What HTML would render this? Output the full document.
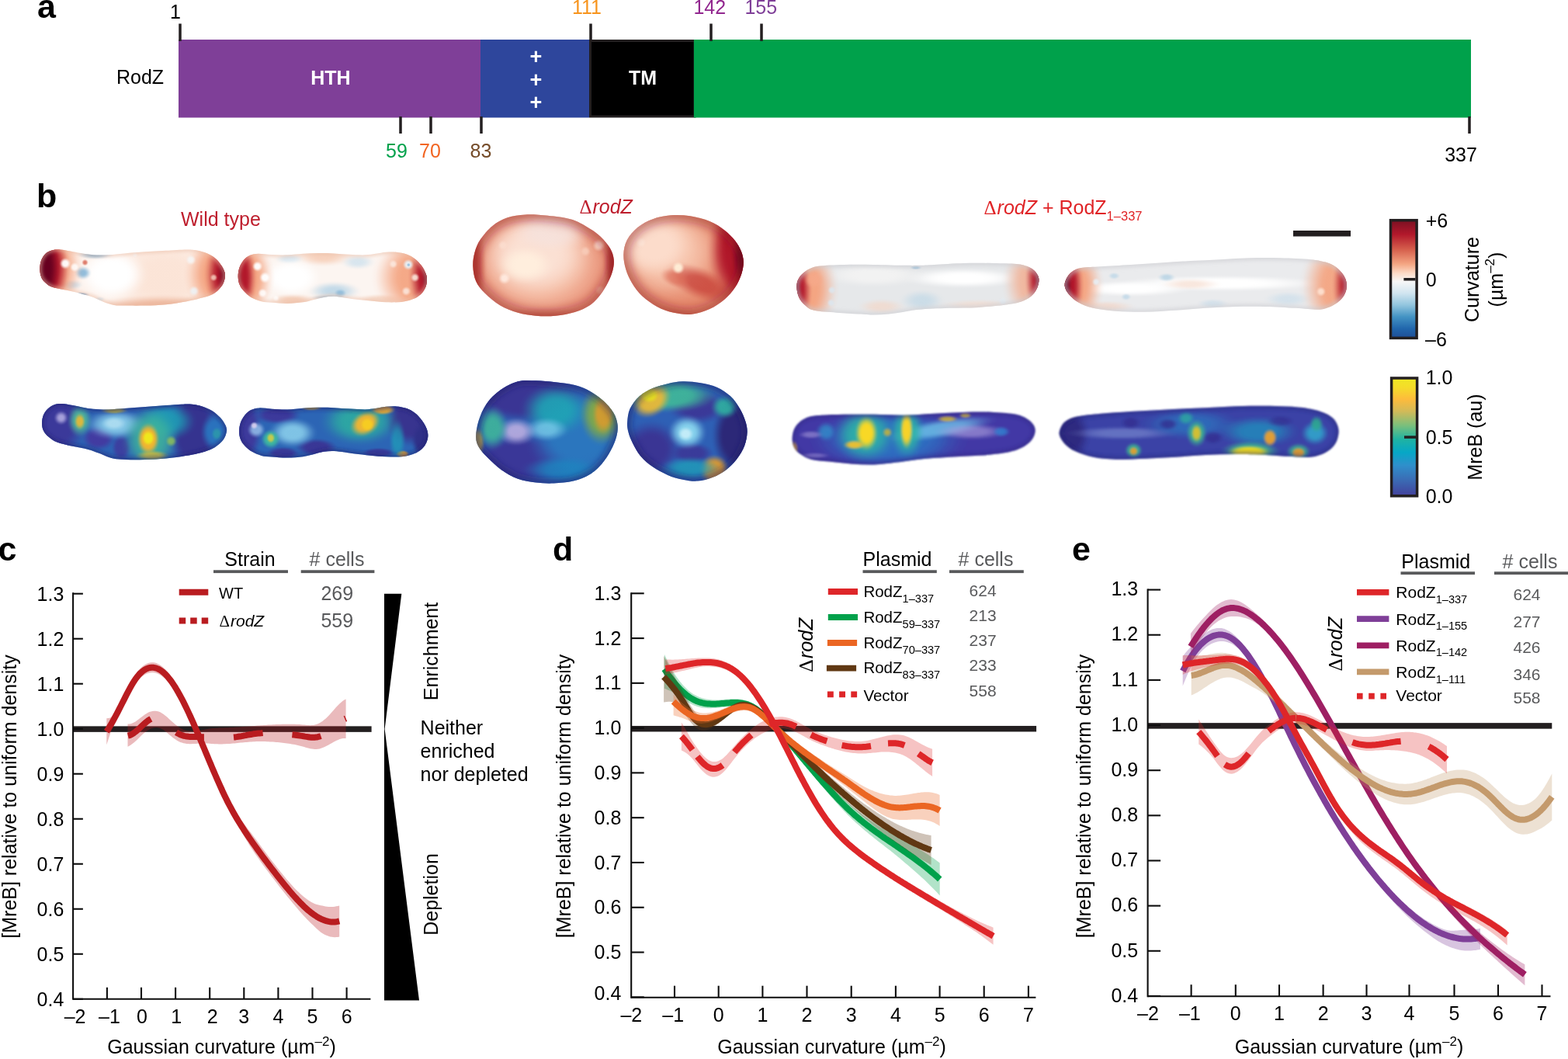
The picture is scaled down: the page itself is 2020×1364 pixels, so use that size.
<!DOCTYPE html>
<html lang="en"><head><meta charset="utf-8"><title>RodZ figure</title>
<style>html,body{margin:0;padding:0;background:#fff}svg{display:block}text{font-family:"Liberation Sans",sans-serif}</style></head>
<body>
<svg width="2020" height="1364" viewBox="0 0 2020 1364">
<defs>
<clipPath id="c1"><path d="M51.36 346.79C51.32 343.11 51.88 338.77 53.1 335.43C54.33 332.09 56.44 328.9 58.72 326.74C60.99 324.58 63.62 323.35 66.74 322.46C69.86 321.57 73.42 321.23 77.43 321.39C81.44 321.55 86.35 322.62 90.8 323.4C95.26 324.18 99.27 325.25 104.17 326.07C109.07 326.89 114.2 327.96 120.21 328.34C126.23 328.72 133.58 328.65 140.27 328.34C146.95 328.03 152.52 327.14 160.32 326.47C168.12 325.8 178.15 324.96 187.06 324.33C195.97 323.71 204.88 323.22 213.8 322.73C222.71 322.24 233.85 321.43 240.53 321.39C247.22 321.35 249.45 321.61 253.9 322.46C258.36 323.31 263.26 324.69 267.27 326.47C271.28 328.25 274.96 330.55 277.97 333.16C280.98 335.76 283.4 339.17 285.32 342.11C287.24 345.05 288.73 348.24 289.47 350.8C290.2 353.36 290.09 355.04 289.73 357.49C289.38 359.94 288.62 362.95 287.33 365.51C286.03 368.07 284.21 370.63 281.98 372.86C279.75 375.09 277.52 377.09 273.96 378.88C270.39 380.66 266.16 382 260.59 383.56C255.02 385.12 248.33 386.79 240.53 388.24C232.74 389.68 222.71 391.35 213.8 392.25C204.88 393.14 195.97 393.36 187.06 393.58C178.15 393.81 167.01 393.69 160.32 393.58C153.64 393.47 151.41 393.69 146.95 392.91C142.5 392.13 138.04 390.57 133.58 388.9C129.13 387.23 124.67 384.56 120.21 382.89C115.76 381.22 111.3 380.1 106.84 378.88C102.39 377.65 97.93 376.54 93.48 375.53C89.02 374.53 84.56 373.86 80.11 372.86C75.65 371.86 70.3 370.97 66.74 369.52C63.17 368.07 60.94 366.18 58.72 364.17C56.49 362.17 54.59 360.38 53.37 357.49C52.14 354.59 51.41 350.47 51.36 346.79Z"/></clipPath>
<radialGradient id="r2"><stop offset="0" stop-color="#FBE1D2" stop-opacity="0.8"/><stop offset="0.3" stop-color="#FBE1D2" stop-opacity="0.8"/><stop offset="0.4" stop-color="#FBE1D2" stop-opacity="0.76"/><stop offset="0.5" stop-color="#FBE1D2" stop-opacity="0.64"/><stop offset="0.6" stop-color="#FBE1D2" stop-opacity="0.49"/><stop offset="0.7" stop-color="#FBE1D2" stop-opacity="0.31"/><stop offset="0.8" stop-color="#FBE1D2" stop-opacity="0.16"/><stop offset="0.9" stop-color="#FBE1D2" stop-opacity="0.04"/><stop offset="1" stop-color="#FBE1D2" stop-opacity="0"/></radialGradient>
<radialGradient id="r3"><stop offset="0" stop-color="#EDB397" stop-opacity="0.9"/><stop offset="0.3" stop-color="#EDB397" stop-opacity="0.9"/><stop offset="0.4" stop-color="#EDB397" stop-opacity="0.85"/><stop offset="0.5" stop-color="#EDB397" stop-opacity="0.72"/><stop offset="0.6" stop-color="#EDB397" stop-opacity="0.55"/><stop offset="0.7" stop-color="#EDB397" stop-opacity="0.35"/><stop offset="0.8" stop-color="#EDB397" stop-opacity="0.18"/><stop offset="0.9" stop-color="#EDB397" stop-opacity="0.05"/><stop offset="1" stop-color="#EDB397" stop-opacity="0"/></radialGradient>
<radialGradient id="r4"><stop offset="0" stop-color="#FFFFFF" stop-opacity="1"/><stop offset="0.4" stop-color="#FFFFFF" stop-opacity="1"/><stop offset="0.49" stop-color="#FFFFFF" stop-opacity="0.94"/><stop offset="0.57" stop-color="#FFFFFF" stop-opacity="0.8"/><stop offset="0.66" stop-color="#FFFFFF" stop-opacity="0.61"/><stop offset="0.74" stop-color="#FFFFFF" stop-opacity="0.39"/><stop offset="0.83" stop-color="#FFFFFF" stop-opacity="0.2"/><stop offset="0.91" stop-color="#FFFFFF" stop-opacity="0.06"/><stop offset="1" stop-color="#FFFFFF" stop-opacity="0"/></radialGradient>
<radialGradient id="r5"><stop offset="0" stop-color="#6FA8D0" stop-opacity="0.85"/><stop offset="0.2" stop-color="#6FA8D0" stop-opacity="0.85"/><stop offset="0.31" stop-color="#6FA8D0" stop-opacity="0.8"/><stop offset="0.43" stop-color="#6FA8D0" stop-opacity="0.68"/><stop offset="0.54" stop-color="#6FA8D0" stop-opacity="0.52"/><stop offset="0.66" stop-color="#6FA8D0" stop-opacity="0.33"/><stop offset="0.77" stop-color="#6FA8D0" stop-opacity="0.17"/><stop offset="0.89" stop-color="#6FA8D0" stop-opacity="0.05"/><stop offset="1" stop-color="#6FA8D0" stop-opacity="0"/></radialGradient>
<radialGradient id="r6"><stop offset="0" stop-color="#7FB2D6" stop-opacity="0.85"/><stop offset="0.2" stop-color="#7FB2D6" stop-opacity="0.85"/><stop offset="0.31" stop-color="#7FB2D6" stop-opacity="0.8"/><stop offset="0.43" stop-color="#7FB2D6" stop-opacity="0.68"/><stop offset="0.54" stop-color="#7FB2D6" stop-opacity="0.52"/><stop offset="0.66" stop-color="#7FB2D6" stop-opacity="0.33"/><stop offset="0.77" stop-color="#7FB2D6" stop-opacity="0.17"/><stop offset="0.89" stop-color="#7FB2D6" stop-opacity="0.05"/><stop offset="1" stop-color="#7FB2D6" stop-opacity="0"/></radialGradient>
<radialGradient id="r7"><stop offset="0" stop-color="#C5DCEB" stop-opacity="0.9"/><stop offset="0.2" stop-color="#C5DCEB" stop-opacity="0.9"/><stop offset="0.31" stop-color="#C5DCEB" stop-opacity="0.85"/><stop offset="0.43" stop-color="#C5DCEB" stop-opacity="0.72"/><stop offset="0.54" stop-color="#C5DCEB" stop-opacity="0.55"/><stop offset="0.66" stop-color="#C5DCEB" stop-opacity="0.35"/><stop offset="0.77" stop-color="#C5DCEB" stop-opacity="0.18"/><stop offset="0.89" stop-color="#C5DCEB" stop-opacity="0.05"/><stop offset="1" stop-color="#C5DCEB" stop-opacity="0"/></radialGradient>
<radialGradient id="r8"><stop offset="0" stop-color="#3D7FB8" stop-opacity="0.9"/><stop offset="0.2" stop-color="#3D7FB8" stop-opacity="0.9"/><stop offset="0.31" stop-color="#3D7FB8" stop-opacity="0.85"/><stop offset="0.43" stop-color="#3D7FB8" stop-opacity="0.72"/><stop offset="0.54" stop-color="#3D7FB8" stop-opacity="0.55"/><stop offset="0.66" stop-color="#3D7FB8" stop-opacity="0.35"/><stop offset="0.77" stop-color="#3D7FB8" stop-opacity="0.18"/><stop offset="0.89" stop-color="#3D7FB8" stop-opacity="0.05"/><stop offset="1" stop-color="#3D7FB8" stop-opacity="0"/></radialGradient>
<radialGradient id="r9"><stop offset="0" stop-color="#D5E6F0" stop-opacity="0.9"/><stop offset="0.2" stop-color="#D5E6F0" stop-opacity="0.9"/><stop offset="0.31" stop-color="#D5E6F0" stop-opacity="0.85"/><stop offset="0.43" stop-color="#D5E6F0" stop-opacity="0.72"/><stop offset="0.54" stop-color="#D5E6F0" stop-opacity="0.55"/><stop offset="0.66" stop-color="#D5E6F0" stop-opacity="0.35"/><stop offset="0.77" stop-color="#D5E6F0" stop-opacity="0.18"/><stop offset="0.89" stop-color="#D5E6F0" stop-opacity="0.05"/><stop offset="1" stop-color="#D5E6F0" stop-opacity="0"/></radialGradient>
<radialGradient id="r10"><stop offset="0" stop-color="#F4A582" stop-opacity="1"/><stop offset="0.55" stop-color="#F4A582" stop-opacity="1"/><stop offset="0.61" stop-color="#F4A582" stop-opacity="0.94"/><stop offset="0.68" stop-color="#F4A582" stop-opacity="0.8"/><stop offset="0.74" stop-color="#F4A582" stop-opacity="0.61"/><stop offset="0.81" stop-color="#F4A582" stop-opacity="0.39"/><stop offset="0.87" stop-color="#F4A582" stop-opacity="0.2"/><stop offset="0.94" stop-color="#F4A582" stop-opacity="0.06"/><stop offset="1" stop-color="#F4A582" stop-opacity="0"/></radialGradient>
<radialGradient id="r11"><stop offset="0" stop-color="#B2182B" stop-opacity="1"/><stop offset="0.6" stop-color="#B2182B" stop-opacity="1"/><stop offset="0.66" stop-color="#B2182B" stop-opacity="0.94"/><stop offset="0.71" stop-color="#B2182B" stop-opacity="0.8"/><stop offset="0.77" stop-color="#B2182B" stop-opacity="0.61"/><stop offset="0.83" stop-color="#B2182B" stop-opacity="0.39"/><stop offset="0.89" stop-color="#B2182B" stop-opacity="0.2"/><stop offset="0.94" stop-color="#B2182B" stop-opacity="0.06"/><stop offset="1" stop-color="#B2182B" stop-opacity="0"/></radialGradient>
<radialGradient id="r12"><stop offset="0" stop-color="#67001F" stop-opacity="1"/><stop offset="0.55" stop-color="#67001F" stop-opacity="1"/><stop offset="0.61" stop-color="#67001F" stop-opacity="0.94"/><stop offset="0.68" stop-color="#67001F" stop-opacity="0.8"/><stop offset="0.74" stop-color="#67001F" stop-opacity="0.61"/><stop offset="0.81" stop-color="#67001F" stop-opacity="0.39"/><stop offset="0.87" stop-color="#67001F" stop-opacity="0.2"/><stop offset="0.94" stop-color="#67001F" stop-opacity="0.06"/><stop offset="1" stop-color="#67001F" stop-opacity="0"/></radialGradient>
<radialGradient id="r13"><stop offset="0" stop-color="#D6604D" stop-opacity="0.8"/><stop offset="0.25" stop-color="#D6604D" stop-opacity="0.8"/><stop offset="0.36" stop-color="#D6604D" stop-opacity="0.76"/><stop offset="0.46" stop-color="#D6604D" stop-opacity="0.64"/><stop offset="0.57" stop-color="#D6604D" stop-opacity="0.49"/><stop offset="0.68" stop-color="#D6604D" stop-opacity="0.31"/><stop offset="0.79" stop-color="#D6604D" stop-opacity="0.16"/><stop offset="0.89" stop-color="#D6604D" stop-opacity="0.04"/><stop offset="1" stop-color="#D6604D" stop-opacity="0"/></radialGradient>
<radialGradient id="r14"><stop offset="0" stop-color="#FFFFFF" stop-opacity="0.95"/><stop offset="0.3" stop-color="#FFFFFF" stop-opacity="0.95"/><stop offset="0.4" stop-color="#FFFFFF" stop-opacity="0.9"/><stop offset="0.5" stop-color="#FFFFFF" stop-opacity="0.76"/><stop offset="0.6" stop-color="#FFFFFF" stop-opacity="0.58"/><stop offset="0.7" stop-color="#FFFFFF" stop-opacity="0.37"/><stop offset="0.8" stop-color="#FFFFFF" stop-opacity="0.19"/><stop offset="0.9" stop-color="#FFFFFF" stop-opacity="0.05"/><stop offset="1" stop-color="#FFFFFF" stop-opacity="0"/></radialGradient>
<radialGradient id="r15"><stop offset="0" stop-color="#FFFFFF" stop-opacity="0.8"/><stop offset="0.3" stop-color="#FFFFFF" stop-opacity="0.8"/><stop offset="0.4" stop-color="#FFFFFF" stop-opacity="0.76"/><stop offset="0.5" stop-color="#FFFFFF" stop-opacity="0.64"/><stop offset="0.6" stop-color="#FFFFFF" stop-opacity="0.49"/><stop offset="0.7" stop-color="#FFFFFF" stop-opacity="0.31"/><stop offset="0.8" stop-color="#FFFFFF" stop-opacity="0.16"/><stop offset="0.9" stop-color="#FFFFFF" stop-opacity="0.04"/><stop offset="1" stop-color="#FFFFFF" stop-opacity="0"/></radialGradient>
<radialGradient id="r16"><stop offset="0" stop-color="#B2182B" stop-opacity="1"/><stop offset="0.55" stop-color="#B2182B" stop-opacity="1"/><stop offset="0.61" stop-color="#B2182B" stop-opacity="0.94"/><stop offset="0.68" stop-color="#B2182B" stop-opacity="0.8"/><stop offset="0.74" stop-color="#B2182B" stop-opacity="0.61"/><stop offset="0.81" stop-color="#B2182B" stop-opacity="0.39"/><stop offset="0.87" stop-color="#B2182B" stop-opacity="0.2"/><stop offset="0.94" stop-color="#B2182B" stop-opacity="0.06"/><stop offset="1" stop-color="#B2182B" stop-opacity="0"/></radialGradient>
<radialGradient id="r17"><stop offset="0" stop-color="#67001F" stop-opacity="1"/><stop offset="0.5" stop-color="#67001F" stop-opacity="1"/><stop offset="0.57" stop-color="#67001F" stop-opacity="0.94"/><stop offset="0.64" stop-color="#67001F" stop-opacity="0.8"/><stop offset="0.71" stop-color="#67001F" stop-opacity="0.61"/><stop offset="0.79" stop-color="#67001F" stop-opacity="0.39"/><stop offset="0.86" stop-color="#67001F" stop-opacity="0.2"/><stop offset="0.93" stop-color="#67001F" stop-opacity="0.06"/><stop offset="1" stop-color="#67001F" stop-opacity="0"/></radialGradient>
<radialGradient id="r18"><stop offset="0" stop-color="#F6F6F6" stop-opacity="0.9"/><stop offset="0.25" stop-color="#F6F6F6" stop-opacity="0.9"/><stop offset="0.36" stop-color="#F6F6F6" stop-opacity="0.85"/><stop offset="0.46" stop-color="#F6F6F6" stop-opacity="0.72"/><stop offset="0.57" stop-color="#F6F6F6" stop-opacity="0.55"/><stop offset="0.68" stop-color="#F6F6F6" stop-opacity="0.35"/><stop offset="0.79" stop-color="#F6F6F6" stop-opacity="0.18"/><stop offset="0.89" stop-color="#F6F6F6" stop-opacity="0.05"/><stop offset="1" stop-color="#F6F6F6" stop-opacity="0"/></radialGradient>
<radialGradient id="r19"><stop offset="0" stop-color="#EEF2F5" stop-opacity="0.9"/><stop offset="0.25" stop-color="#EEF2F5" stop-opacity="0.9"/><stop offset="0.36" stop-color="#EEF2F5" stop-opacity="0.85"/><stop offset="0.46" stop-color="#EEF2F5" stop-opacity="0.72"/><stop offset="0.57" stop-color="#EEF2F5" stop-opacity="0.55"/><stop offset="0.68" stop-color="#EEF2F5" stop-opacity="0.35"/><stop offset="0.79" stop-color="#EEF2F5" stop-opacity="0.18"/><stop offset="0.89" stop-color="#EEF2F5" stop-opacity="0.05"/><stop offset="1" stop-color="#EEF2F5" stop-opacity="0"/></radialGradient>
<radialGradient id="r20"><stop offset="0" stop-color="#F9D5C4" stop-opacity="0.8"/><stop offset="0.25" stop-color="#F9D5C4" stop-opacity="0.8"/><stop offset="0.36" stop-color="#F9D5C4" stop-opacity="0.76"/><stop offset="0.46" stop-color="#F9D5C4" stop-opacity="0.64"/><stop offset="0.57" stop-color="#F9D5C4" stop-opacity="0.49"/><stop offset="0.68" stop-color="#F9D5C4" stop-opacity="0.31"/><stop offset="0.79" stop-color="#F9D5C4" stop-opacity="0.16"/><stop offset="0.89" stop-color="#F9D5C4" stop-opacity="0.04"/><stop offset="1" stop-color="#F9D5C4" stop-opacity="0"/></radialGradient>
<radialGradient id="r21"><stop offset="0" stop-color="#F6F6F6" stop-opacity="0.8"/><stop offset="0.25" stop-color="#F6F6F6" stop-opacity="0.8"/><stop offset="0.36" stop-color="#F6F6F6" stop-opacity="0.76"/><stop offset="0.46" stop-color="#F6F6F6" stop-opacity="0.64"/><stop offset="0.57" stop-color="#F6F6F6" stop-opacity="0.49"/><stop offset="0.68" stop-color="#F6F6F6" stop-opacity="0.31"/><stop offset="0.79" stop-color="#F6F6F6" stop-opacity="0.16"/><stop offset="0.89" stop-color="#F6F6F6" stop-opacity="0.04"/><stop offset="1" stop-color="#F6F6F6" stop-opacity="0"/></radialGradient>
<filter id="f22" x="-20%" y="-20%" width="140%" height="140%"><feGaussianBlur stdDeviation="2.27"/></filter>
<clipPath id="c23"><path d="M306.71 356.15C306.67 352.47 307.22 348.35 308.45 344.79C309.67 341.22 311.79 337.43 314.06 334.76C316.34 332.09 318.97 330.08 322.09 328.74C325.2 327.41 328.1 326.85 332.78 326.74C337.46 326.63 343.92 327.81 350.16 328.07C356.4 328.34 363.53 328.57 370.21 328.34C376.9 328.12 383.58 327.12 390.27 326.74C396.95 326.36 403.64 326.11 410.32 326.07C417.01 326.02 423.69 326.18 430.37 326.47C437.06 326.76 443.74 327.5 450.43 327.81C457.11 328.12 464.91 328.52 470.48 328.34C476.05 328.16 479.39 327.34 483.85 326.74C488.31 326.14 492.76 325.07 497.22 324.73C501.68 324.4 506.13 324.29 510.59 324.73C515.04 325.18 519.95 325.96 523.96 327.41C527.97 328.85 531.42 330.9 534.65 333.42C537.88 335.94 541 339.28 543.34 342.51C545.68 345.74 547.58 349.87 548.69 352.81C549.8 355.75 550.03 357.49 550.03 360.16C550.03 362.83 549.58 366.18 548.69 368.85C547.8 371.52 546.35 374.04 544.68 376.2C543.01 378.36 541 380.21 538.66 381.82C536.32 383.42 534.21 384.65 530.64 385.83C527.08 387.01 522.84 388.32 517.27 388.9C511.7 389.48 503.9 389.53 497.22 389.3C490.53 389.08 483.85 388.19 477.17 387.57C470.48 386.94 462.68 386.23 457.11 385.56C451.54 384.89 448.2 384.18 443.74 383.56C439.29 382.93 434.83 381.93 430.37 381.82C425.92 381.71 421.46 382.15 417.01 382.89C412.55 383.62 408.09 385.16 403.64 386.23C399.18 387.3 395.84 388.52 390.27 389.3C384.7 390.08 376.9 390.82 370.21 390.91C363.53 391 355.73 390.29 350.16 389.84C344.59 389.39 341.25 389.39 336.79 388.24C332.34 387.08 327.21 385.12 323.42 382.89C319.63 380.66 316.52 377.54 314.06 374.87C311.61 372.19 309.94 369.96 308.72 366.84C307.49 363.73 306.76 359.83 306.71 356.15Z"/></clipPath>
<radialGradient id="r24"><stop offset="0" stop-color="#F6CDB6" stop-opacity="0.85"/><stop offset="0.2" stop-color="#F6CDB6" stop-opacity="0.85"/><stop offset="0.31" stop-color="#F6CDB6" stop-opacity="0.8"/><stop offset="0.43" stop-color="#F6CDB6" stop-opacity="0.68"/><stop offset="0.54" stop-color="#F6CDB6" stop-opacity="0.52"/><stop offset="0.66" stop-color="#F6CDB6" stop-opacity="0.33"/><stop offset="0.77" stop-color="#F6CDB6" stop-opacity="0.17"/><stop offset="0.89" stop-color="#F6CDB6" stop-opacity="0.05"/><stop offset="1" stop-color="#F6CDB6" stop-opacity="0"/></radialGradient>
<radialGradient id="r25"><stop offset="0" stop-color="#F2C6AE" stop-opacity="0.85"/><stop offset="0.2" stop-color="#F2C6AE" stop-opacity="0.85"/><stop offset="0.31" stop-color="#F2C6AE" stop-opacity="0.8"/><stop offset="0.43" stop-color="#F2C6AE" stop-opacity="0.68"/><stop offset="0.54" stop-color="#F2C6AE" stop-opacity="0.52"/><stop offset="0.66" stop-color="#F2C6AE" stop-opacity="0.33"/><stop offset="0.77" stop-color="#F2C6AE" stop-opacity="0.17"/><stop offset="0.89" stop-color="#F2C6AE" stop-opacity="0.05"/><stop offset="1" stop-color="#F2C6AE" stop-opacity="0"/></radialGradient>
<radialGradient id="r26"><stop offset="0" stop-color="#F4D2BF" stop-opacity="0.8"/><stop offset="0.2" stop-color="#F4D2BF" stop-opacity="0.8"/><stop offset="0.31" stop-color="#F4D2BF" stop-opacity="0.76"/><stop offset="0.43" stop-color="#F4D2BF" stop-opacity="0.64"/><stop offset="0.54" stop-color="#F4D2BF" stop-opacity="0.49"/><stop offset="0.66" stop-color="#F4D2BF" stop-opacity="0.31"/><stop offset="0.77" stop-color="#F4D2BF" stop-opacity="0.16"/><stop offset="0.89" stop-color="#F4D2BF" stop-opacity="0.04"/><stop offset="1" stop-color="#F4D2BF" stop-opacity="0"/></radialGradient>
<radialGradient id="r27"><stop offset="0" stop-color="#B5D3E6" stop-opacity="0.8"/><stop offset="0.2" stop-color="#B5D3E6" stop-opacity="0.8"/><stop offset="0.31" stop-color="#B5D3E6" stop-opacity="0.76"/><stop offset="0.43" stop-color="#B5D3E6" stop-opacity="0.64"/><stop offset="0.54" stop-color="#B5D3E6" stop-opacity="0.49"/><stop offset="0.66" stop-color="#B5D3E6" stop-opacity="0.31"/><stop offset="0.77" stop-color="#B5D3E6" stop-opacity="0.16"/><stop offset="0.89" stop-color="#B5D3E6" stop-opacity="0.04"/><stop offset="1" stop-color="#B5D3E6" stop-opacity="0"/></radialGradient>
<radialGradient id="r28"><stop offset="0" stop-color="#7FB2D6" stop-opacity="0.7"/><stop offset="0.2" stop-color="#7FB2D6" stop-opacity="0.7"/><stop offset="0.31" stop-color="#7FB2D6" stop-opacity="0.66"/><stop offset="0.43" stop-color="#7FB2D6" stop-opacity="0.56"/><stop offset="0.54" stop-color="#7FB2D6" stop-opacity="0.42"/><stop offset="0.66" stop-color="#7FB2D6" stop-opacity="0.28"/><stop offset="0.77" stop-color="#7FB2D6" stop-opacity="0.14"/><stop offset="0.89" stop-color="#7FB2D6" stop-opacity="0.04"/><stop offset="1" stop-color="#7FB2D6" stop-opacity="0"/></radialGradient>
<radialGradient id="r29"><stop offset="0" stop-color="#8DBAD9" stop-opacity="0.75"/><stop offset="0.2" stop-color="#8DBAD9" stop-opacity="0.75"/><stop offset="0.31" stop-color="#8DBAD9" stop-opacity="0.71"/><stop offset="0.43" stop-color="#8DBAD9" stop-opacity="0.6"/><stop offset="0.54" stop-color="#8DBAD9" stop-opacity="0.45"/><stop offset="0.66" stop-color="#8DBAD9" stop-opacity="0.3"/><stop offset="0.77" stop-color="#8DBAD9" stop-opacity="0.15"/><stop offset="0.89" stop-color="#8DBAD9" stop-opacity="0.04"/><stop offset="1" stop-color="#8DBAD9" stop-opacity="0"/></radialGradient>
<radialGradient id="r30"><stop offset="0" stop-color="#D2E3EE" stop-opacity="0.85"/><stop offset="0.2" stop-color="#D2E3EE" stop-opacity="0.85"/><stop offset="0.31" stop-color="#D2E3EE" stop-opacity="0.8"/><stop offset="0.43" stop-color="#D2E3EE" stop-opacity="0.68"/><stop offset="0.54" stop-color="#D2E3EE" stop-opacity="0.52"/><stop offset="0.66" stop-color="#D2E3EE" stop-opacity="0.33"/><stop offset="0.77" stop-color="#D2E3EE" stop-opacity="0.17"/><stop offset="0.89" stop-color="#D2E3EE" stop-opacity="0.05"/><stop offset="1" stop-color="#D2E3EE" stop-opacity="0"/></radialGradient>
<radialGradient id="r31"><stop offset="0" stop-color="#B2182B" stop-opacity="1"/><stop offset="0.58" stop-color="#B2182B" stop-opacity="1"/><stop offset="0.64" stop-color="#B2182B" stop-opacity="0.94"/><stop offset="0.7" stop-color="#B2182B" stop-opacity="0.8"/><stop offset="0.76" stop-color="#B2182B" stop-opacity="0.61"/><stop offset="0.82" stop-color="#B2182B" stop-opacity="0.39"/><stop offset="0.88" stop-color="#B2182B" stop-opacity="0.2"/><stop offset="0.94" stop-color="#B2182B" stop-opacity="0.06"/><stop offset="1" stop-color="#B2182B" stop-opacity="0"/></radialGradient>
<radialGradient id="r32"><stop offset="0" stop-color="#8E0F25" stop-opacity="1"/><stop offset="0.55" stop-color="#8E0F25" stop-opacity="1"/><stop offset="0.61" stop-color="#8E0F25" stop-opacity="0.94"/><stop offset="0.68" stop-color="#8E0F25" stop-opacity="0.8"/><stop offset="0.74" stop-color="#8E0F25" stop-opacity="0.61"/><stop offset="0.81" stop-color="#8E0F25" stop-opacity="0.39"/><stop offset="0.87" stop-color="#8E0F25" stop-opacity="0.2"/><stop offset="0.94" stop-color="#8E0F25" stop-opacity="0.06"/><stop offset="1" stop-color="#8E0F25" stop-opacity="0"/></radialGradient>
<radialGradient id="r33"><stop offset="0" stop-color="#F4A582" stop-opacity="0.95"/><stop offset="0.5" stop-color="#F4A582" stop-opacity="0.95"/><stop offset="0.57" stop-color="#F4A582" stop-opacity="0.9"/><stop offset="0.64" stop-color="#F4A582" stop-opacity="0.76"/><stop offset="0.71" stop-color="#F4A582" stop-opacity="0.58"/><stop offset="0.79" stop-color="#F4A582" stop-opacity="0.37"/><stop offset="0.86" stop-color="#F4A582" stop-opacity="0.19"/><stop offset="0.93" stop-color="#F4A582" stop-opacity="0.05"/><stop offset="1" stop-color="#F4A582" stop-opacity="0"/></radialGradient>
<radialGradient id="r34"><stop offset="0" stop-color="#B2182B" stop-opacity="1"/><stop offset="0.5" stop-color="#B2182B" stop-opacity="1"/><stop offset="0.57" stop-color="#B2182B" stop-opacity="0.94"/><stop offset="0.64" stop-color="#B2182B" stop-opacity="0.8"/><stop offset="0.71" stop-color="#B2182B" stop-opacity="0.61"/><stop offset="0.79" stop-color="#B2182B" stop-opacity="0.39"/><stop offset="0.86" stop-color="#B2182B" stop-opacity="0.2"/><stop offset="0.93" stop-color="#B2182B" stop-opacity="0.06"/><stop offset="1" stop-color="#B2182B" stop-opacity="0"/></radialGradient>
<radialGradient id="r35"><stop offset="0" stop-color="#FFFFFF" stop-opacity="0.85"/><stop offset="0.3" stop-color="#FFFFFF" stop-opacity="0.85"/><stop offset="0.4" stop-color="#FFFFFF" stop-opacity="0.8"/><stop offset="0.5" stop-color="#FFFFFF" stop-opacity="0.68"/><stop offset="0.6" stop-color="#FFFFFF" stop-opacity="0.52"/><stop offset="0.7" stop-color="#FFFFFF" stop-opacity="0.33"/><stop offset="0.8" stop-color="#FFFFFF" stop-opacity="0.17"/><stop offset="0.9" stop-color="#FFFFFF" stop-opacity="0.05"/><stop offset="1" stop-color="#FFFFFF" stop-opacity="0"/></radialGradient>
<radialGradient id="r36"><stop offset="0" stop-color="#FFFFFF" stop-opacity="0.7"/><stop offset="0.25" stop-color="#FFFFFF" stop-opacity="0.7"/><stop offset="0.36" stop-color="#FFFFFF" stop-opacity="0.66"/><stop offset="0.46" stop-color="#FFFFFF" stop-opacity="0.56"/><stop offset="0.57" stop-color="#FFFFFF" stop-opacity="0.42"/><stop offset="0.68" stop-color="#FFFFFF" stop-opacity="0.28"/><stop offset="0.79" stop-color="#FFFFFF" stop-opacity="0.14"/><stop offset="0.89" stop-color="#FFFFFF" stop-opacity="0.04"/><stop offset="1" stop-color="#FFFFFF" stop-opacity="0"/></radialGradient>
<radialGradient id="r37"><stop offset="0" stop-color="#E8F0F6" stop-opacity="0.95"/><stop offset="0.3" stop-color="#E8F0F6" stop-opacity="0.95"/><stop offset="0.4" stop-color="#E8F0F6" stop-opacity="0.9"/><stop offset="0.5" stop-color="#E8F0F6" stop-opacity="0.76"/><stop offset="0.6" stop-color="#E8F0F6" stop-opacity="0.58"/><stop offset="0.7" stop-color="#E8F0F6" stop-opacity="0.37"/><stop offset="0.8" stop-color="#E8F0F6" stop-opacity="0.19"/><stop offset="0.9" stop-color="#E8F0F6" stop-opacity="0.05"/><stop offset="1" stop-color="#E8F0F6" stop-opacity="0"/></radialGradient>
<radialGradient id="r38"><stop offset="0" stop-color="#8DBAD9" stop-opacity="0.8"/><stop offset="0.25" stop-color="#8DBAD9" stop-opacity="0.8"/><stop offset="0.36" stop-color="#8DBAD9" stop-opacity="0.76"/><stop offset="0.46" stop-color="#8DBAD9" stop-opacity="0.64"/><stop offset="0.57" stop-color="#8DBAD9" stop-opacity="0.49"/><stop offset="0.68" stop-color="#8DBAD9" stop-opacity="0.31"/><stop offset="0.79" stop-color="#8DBAD9" stop-opacity="0.16"/><stop offset="0.89" stop-color="#8DBAD9" stop-opacity="0.04"/><stop offset="1" stop-color="#8DBAD9" stop-opacity="0"/></radialGradient>
<radialGradient id="r39"><stop offset="0" stop-color="#FBE5DA" stop-opacity="0.9"/><stop offset="0.25" stop-color="#FBE5DA" stop-opacity="0.9"/><stop offset="0.36" stop-color="#FBE5DA" stop-opacity="0.85"/><stop offset="0.46" stop-color="#FBE5DA" stop-opacity="0.72"/><stop offset="0.57" stop-color="#FBE5DA" stop-opacity="0.55"/><stop offset="0.68" stop-color="#FBE5DA" stop-opacity="0.35"/><stop offset="0.79" stop-color="#FBE5DA" stop-opacity="0.18"/><stop offset="0.89" stop-color="#FBE5DA" stop-opacity="0.05"/><stop offset="1" stop-color="#FBE5DA" stop-opacity="0"/></radialGradient>
<radialGradient id="r40"><stop offset="0" stop-color="#FBE9E0" stop-opacity="0.85"/><stop offset="0.25" stop-color="#FBE9E0" stop-opacity="0.85"/><stop offset="0.36" stop-color="#FBE9E0" stop-opacity="0.8"/><stop offset="0.46" stop-color="#FBE9E0" stop-opacity="0.68"/><stop offset="0.57" stop-color="#FBE9E0" stop-opacity="0.52"/><stop offset="0.68" stop-color="#FBE9E0" stop-opacity="0.33"/><stop offset="0.79" stop-color="#FBE9E0" stop-opacity="0.17"/><stop offset="0.89" stop-color="#FBE9E0" stop-opacity="0.05"/><stop offset="1" stop-color="#FBE9E0" stop-opacity="0"/></radialGradient>
<filter id="f41" x="-20%" y="-20%" width="140%" height="140%"><feGaussianBlur stdDeviation="2.27"/></filter>
<clipPath id="c42"><path d="M609.31 343.01C609.05 336.74 610.01 330.46 611.62 324.67C613.23 318.88 615.16 313.89 618.96 308.26C622.75 302.63 628.61 295.55 634.4 290.89C640.19 286.22 646.63 282.68 653.71 280.27C660.79 277.86 668.19 276.83 676.87 276.41C685.56 275.99 696.18 276.8 705.83 277.76C715.48 278.73 726.74 280.01 734.79 282.2C742.83 284.39 747.66 287.19 754.09 290.89C760.53 294.59 768.09 299.58 773.4 304.4C778.71 309.23 783.05 314.86 785.95 319.85C788.84 324.83 790.23 329.5 790.77 334.32C791.32 339.15 790.51 343.82 789.23 348.8C787.94 353.79 785.69 359.1 783.05 364.25C780.41 369.4 777.26 374.86 773.4 379.69C769.54 384.52 765.35 389.5 759.88 393.2C754.41 396.9 747.98 399.64 740.58 401.89C733.18 404.14 723.85 405.91 715.48 406.72C707.12 407.52 698.43 407.36 690.39 406.72C682.34 406.07 674.94 405.11 667.22 402.86C659.5 400.6 651.13 397.39 644.05 393.2C636.98 389.02 629.9 382.91 624.75 377.76C619.6 372.61 615.74 368.11 613.17 362.32C610.59 356.53 609.56 349.29 609.31 343.01Z"/></clipPath>
<radialGradient id="r43"><stop offset="0" stop-color="#F5BEA6" stop-opacity="1"/><stop offset="0.35" stop-color="#F5BEA6" stop-opacity="1"/><stop offset="0.44" stop-color="#F5BEA6" stop-opacity="0.94"/><stop offset="0.54" stop-color="#F5BEA6" stop-opacity="0.8"/><stop offset="0.63" stop-color="#F5BEA6" stop-opacity="0.61"/><stop offset="0.72" stop-color="#F5BEA6" stop-opacity="0.39"/><stop offset="0.81" stop-color="#F5BEA6" stop-opacity="0.2"/><stop offset="0.91" stop-color="#F5BEA6" stop-opacity="0.06"/><stop offset="1" stop-color="#F5BEA6" stop-opacity="0"/></radialGradient>
<radialGradient id="r44"><stop offset="0" stop-color="#FBE0D3" stop-opacity="1"/><stop offset="0.35" stop-color="#FBE0D3" stop-opacity="1"/><stop offset="0.44" stop-color="#FBE0D3" stop-opacity="0.94"/><stop offset="0.54" stop-color="#FBE0D3" stop-opacity="0.8"/><stop offset="0.63" stop-color="#FBE0D3" stop-opacity="0.61"/><stop offset="0.72" stop-color="#FBE0D3" stop-opacity="0.39"/><stop offset="0.81" stop-color="#FBE0D3" stop-opacity="0.2"/><stop offset="0.91" stop-color="#FBE0D3" stop-opacity="0.06"/><stop offset="1" stop-color="#FBE0D3" stop-opacity="0"/></radialGradient>
<radialGradient id="r45"><stop offset="0" stop-color="#F6E2DC" stop-opacity="0.85"/><stop offset="0.3" stop-color="#F6E2DC" stop-opacity="0.85"/><stop offset="0.4" stop-color="#F6E2DC" stop-opacity="0.8"/><stop offset="0.5" stop-color="#F6E2DC" stop-opacity="0.68"/><stop offset="0.6" stop-color="#F6E2DC" stop-opacity="0.52"/><stop offset="0.7" stop-color="#F6E2DC" stop-opacity="0.33"/><stop offset="0.8" stop-color="#F6E2DC" stop-opacity="0.17"/><stop offset="0.9" stop-color="#F6E2DC" stop-opacity="0.05"/><stop offset="1" stop-color="#F6E2DC" stop-opacity="0"/></radialGradient>
<radialGradient id="r46"><stop offset="0" stop-color="#FFEEDD" stop-opacity="1"/><stop offset="0.3" stop-color="#FFEEDD" stop-opacity="1"/><stop offset="0.4" stop-color="#FFEEDD" stop-opacity="0.94"/><stop offset="0.5" stop-color="#FFEEDD" stop-opacity="0.8"/><stop offset="0.6" stop-color="#FFEEDD" stop-opacity="0.61"/><stop offset="0.7" stop-color="#FFEEDD" stop-opacity="0.39"/><stop offset="0.8" stop-color="#FFEEDD" stop-opacity="0.2"/><stop offset="0.9" stop-color="#FFEEDD" stop-opacity="0.06"/><stop offset="1" stop-color="#FFEEDD" stop-opacity="0"/></radialGradient>
<radialGradient id="r47"><stop offset="0" stop-color="#A8242B" stop-opacity="0.9"/><stop offset="0.45" stop-color="#A8242B" stop-opacity="0.9"/><stop offset="0.53" stop-color="#A8242B" stop-opacity="0.85"/><stop offset="0.61" stop-color="#A8242B" stop-opacity="0.72"/><stop offset="0.69" stop-color="#A8242B" stop-opacity="0.55"/><stop offset="0.76" stop-color="#A8242B" stop-opacity="0.35"/><stop offset="0.84" stop-color="#A8242B" stop-opacity="0.18"/><stop offset="0.92" stop-color="#A8242B" stop-opacity="0.05"/><stop offset="1" stop-color="#A8242B" stop-opacity="0"/></radialGradient>
<radialGradient id="r48"><stop offset="0" stop-color="#B8352F" stop-opacity="0.85"/><stop offset="0.4" stop-color="#B8352F" stop-opacity="0.85"/><stop offset="0.49" stop-color="#B8352F" stop-opacity="0.8"/><stop offset="0.57" stop-color="#B8352F" stop-opacity="0.68"/><stop offset="0.66" stop-color="#B8352F" stop-opacity="0.52"/><stop offset="0.74" stop-color="#B8352F" stop-opacity="0.33"/><stop offset="0.83" stop-color="#B8352F" stop-opacity="0.17"/><stop offset="0.91" stop-color="#B8352F" stop-opacity="0.05"/><stop offset="1" stop-color="#B8352F" stop-opacity="0"/></radialGradient>
<radialGradient id="r49"><stop offset="0" stop-color="#C9614C" stop-opacity="0.75"/><stop offset="0.3" stop-color="#C9614C" stop-opacity="0.75"/><stop offset="0.4" stop-color="#C9614C" stop-opacity="0.71"/><stop offset="0.5" stop-color="#C9614C" stop-opacity="0.6"/><stop offset="0.6" stop-color="#C9614C" stop-opacity="0.45"/><stop offset="0.7" stop-color="#C9614C" stop-opacity="0.3"/><stop offset="0.8" stop-color="#C9614C" stop-opacity="0.15"/><stop offset="0.9" stop-color="#C9614C" stop-opacity="0.04"/><stop offset="1" stop-color="#C9614C" stop-opacity="0"/></radialGradient>
<radialGradient id="r50"><stop offset="0" stop-color="#FFEADF" stop-opacity="0.95"/><stop offset="0.25" stop-color="#FFEADF" stop-opacity="0.95"/><stop offset="0.36" stop-color="#FFEADF" stop-opacity="0.9"/><stop offset="0.46" stop-color="#FFEADF" stop-opacity="0.76"/><stop offset="0.57" stop-color="#FFEADF" stop-opacity="0.58"/><stop offset="0.68" stop-color="#FFEADF" stop-opacity="0.37"/><stop offset="0.79" stop-color="#FFEADF" stop-opacity="0.19"/><stop offset="0.89" stop-color="#FFEADF" stop-opacity="0.05"/><stop offset="1" stop-color="#FFEADF" stop-opacity="0"/></radialGradient>
<radialGradient id="r51"><stop offset="0" stop-color="#FBDDCF" stop-opacity="0.85"/><stop offset="0.25" stop-color="#FBDDCF" stop-opacity="0.85"/><stop offset="0.36" stop-color="#FBDDCF" stop-opacity="0.8"/><stop offset="0.46" stop-color="#FBDDCF" stop-opacity="0.68"/><stop offset="0.57" stop-color="#FBDDCF" stop-opacity="0.52"/><stop offset="0.68" stop-color="#FBDDCF" stop-opacity="0.33"/><stop offset="0.79" stop-color="#FBDDCF" stop-opacity="0.17"/><stop offset="0.89" stop-color="#FBDDCF" stop-opacity="0.05"/><stop offset="1" stop-color="#FBDDCF" stop-opacity="0"/></radialGradient>
<radialGradient id="r52"><stop offset="0" stop-color="#FBDCCB" stop-opacity="0.95"/><stop offset="0.25" stop-color="#FBDCCB" stop-opacity="0.95"/><stop offset="0.36" stop-color="#FBDCCB" stop-opacity="0.9"/><stop offset="0.46" stop-color="#FBDCCB" stop-opacity="0.76"/><stop offset="0.57" stop-color="#FBDCCB" stop-opacity="0.58"/><stop offset="0.68" stop-color="#FBDCCB" stop-opacity="0.37"/><stop offset="0.79" stop-color="#FBDCCB" stop-opacity="0.19"/><stop offset="0.89" stop-color="#FBDCCB" stop-opacity="0.05"/><stop offset="1" stop-color="#FBDCCB" stop-opacity="0"/></radialGradient>
<radialGradient id="r53"><stop offset="0" stop-color="#F8CDBA" stop-opacity="0.85"/><stop offset="0.25" stop-color="#F8CDBA" stop-opacity="0.85"/><stop offset="0.36" stop-color="#F8CDBA" stop-opacity="0.8"/><stop offset="0.46" stop-color="#F8CDBA" stop-opacity="0.68"/><stop offset="0.57" stop-color="#F8CDBA" stop-opacity="0.52"/><stop offset="0.68" stop-color="#F8CDBA" stop-opacity="0.33"/><stop offset="0.79" stop-color="#F8CDBA" stop-opacity="0.17"/><stop offset="0.89" stop-color="#F8CDBA" stop-opacity="0.05"/><stop offset="1" stop-color="#F8CDBA" stop-opacity="0"/></radialGradient>
<radialGradient id="r54"><stop offset="0" stop-color="#F1B7A0" stop-opacity="0.85"/><stop offset="0.25" stop-color="#F1B7A0" stop-opacity="0.85"/><stop offset="0.36" stop-color="#F1B7A0" stop-opacity="0.8"/><stop offset="0.46" stop-color="#F1B7A0" stop-opacity="0.68"/><stop offset="0.57" stop-color="#F1B7A0" stop-opacity="0.52"/><stop offset="0.68" stop-color="#F1B7A0" stop-opacity="0.33"/><stop offset="0.79" stop-color="#F1B7A0" stop-opacity="0.17"/><stop offset="0.89" stop-color="#F1B7A0" stop-opacity="0.05"/><stop offset="1" stop-color="#F1B7A0" stop-opacity="0"/></radialGradient>
<filter id="f55" x="-20%" y="-20%" width="140%" height="140%"><feGaussianBlur stdDeviation="6.36"/></filter>
<clipPath id="c56"><path d="M803.32 327.57C803.58 321.29 804.7 315.02 807.76 309.23C810.82 303.44 816.13 297.32 821.66 292.82C827.19 288.31 833.89 284.77 840.97 282.2C848.04 279.63 856.09 278.02 864.13 277.37C872.18 276.73 880.86 277.05 889.23 278.34C897.59 279.63 906.92 282.04 914.32 285.1C921.72 288.15 928.16 292.5 933.63 296.68C939.1 300.86 943.6 305.69 947.14 310.19C950.68 314.7 953.1 319.2 954.86 323.71C956.63 328.21 957.7 332.39 957.76 337.22C957.82 342.05 957.02 347.19 955.25 352.66C953.48 358.13 950.75 364.57 947.14 370.04C943.54 375.51 939.1 380.82 933.63 385.48C928.16 390.15 921.4 394.81 914.32 398.03C907.25 401.25 898.88 403.98 891.16 404.79C883.44 405.59 875.39 404.47 867.99 402.86C860.59 401.25 853.51 398.67 846.76 395.14C840 391.6 832.92 386.77 827.45 381.62C821.98 376.47 817.48 370.04 813.94 364.25C810.4 358.46 807.99 352.99 806.22 346.87C804.45 340.76 803.06 333.84 803.32 327.57Z"/></clipPath>
<radialGradient id="r57"><stop offset="0" stop-color="#F6C2AA" stop-opacity="1"/><stop offset="0.35" stop-color="#F6C2AA" stop-opacity="1"/><stop offset="0.44" stop-color="#F6C2AA" stop-opacity="0.94"/><stop offset="0.54" stop-color="#F6C2AA" stop-opacity="0.8"/><stop offset="0.63" stop-color="#F6C2AA" stop-opacity="0.61"/><stop offset="0.72" stop-color="#F6C2AA" stop-opacity="0.39"/><stop offset="0.81" stop-color="#F6C2AA" stop-opacity="0.2"/><stop offset="0.91" stop-color="#F6C2AA" stop-opacity="0.06"/><stop offset="1" stop-color="#F6C2AA" stop-opacity="0"/></radialGradient>
<radialGradient id="r58"><stop offset="0" stop-color="#FCDCCB" stop-opacity="1"/><stop offset="0.35" stop-color="#FCDCCB" stop-opacity="1"/><stop offset="0.44" stop-color="#FCDCCB" stop-opacity="0.94"/><stop offset="0.54" stop-color="#FCDCCB" stop-opacity="0.8"/><stop offset="0.63" stop-color="#FCDCCB" stop-opacity="0.61"/><stop offset="0.72" stop-color="#FCDCCB" stop-opacity="0.39"/><stop offset="0.81" stop-color="#FCDCCB" stop-opacity="0.2"/><stop offset="0.91" stop-color="#FCDCCB" stop-opacity="0.06"/><stop offset="1" stop-color="#FCDCCB" stop-opacity="0"/></radialGradient>
<radialGradient id="r59"><stop offset="0" stop-color="#B2182B" stop-opacity="1"/><stop offset="0.45" stop-color="#B2182B" stop-opacity="1"/><stop offset="0.53" stop-color="#B2182B" stop-opacity="0.94"/><stop offset="0.61" stop-color="#B2182B" stop-opacity="0.8"/><stop offset="0.69" stop-color="#B2182B" stop-opacity="0.61"/><stop offset="0.76" stop-color="#B2182B" stop-opacity="0.39"/><stop offset="0.84" stop-color="#B2182B" stop-opacity="0.2"/><stop offset="0.92" stop-color="#B2182B" stop-opacity="0.06"/><stop offset="1" stop-color="#B2182B" stop-opacity="0"/></radialGradient>
<radialGradient id="r60"><stop offset="0" stop-color="#67001F" stop-opacity="1"/><stop offset="0.4" stop-color="#67001F" stop-opacity="1"/><stop offset="0.49" stop-color="#67001F" stop-opacity="0.94"/><stop offset="0.57" stop-color="#67001F" stop-opacity="0.8"/><stop offset="0.66" stop-color="#67001F" stop-opacity="0.61"/><stop offset="0.74" stop-color="#67001F" stop-opacity="0.39"/><stop offset="0.83" stop-color="#67001F" stop-opacity="0.2"/><stop offset="0.91" stop-color="#67001F" stop-opacity="0.06"/><stop offset="1" stop-color="#67001F" stop-opacity="0"/></radialGradient>
<radialGradient id="r61"><stop offset="0" stop-color="#C8433A" stop-opacity="0.8"/><stop offset="0.25" stop-color="#C8433A" stop-opacity="0.8"/><stop offset="0.36" stop-color="#C8433A" stop-opacity="0.76"/><stop offset="0.46" stop-color="#C8433A" stop-opacity="0.64"/><stop offset="0.57" stop-color="#C8433A" stop-opacity="0.49"/><stop offset="0.68" stop-color="#C8433A" stop-opacity="0.31"/><stop offset="0.79" stop-color="#C8433A" stop-opacity="0.16"/><stop offset="0.89" stop-color="#C8433A" stop-opacity="0.04"/><stop offset="1" stop-color="#C8433A" stop-opacity="0"/></radialGradient>
<radialGradient id="r62"><stop offset="0" stop-color="#DC6A55" stop-opacity="0.6"/><stop offset="0.3" stop-color="#DC6A55" stop-opacity="0.6"/><stop offset="0.4" stop-color="#DC6A55" stop-opacity="0.57"/><stop offset="0.5" stop-color="#DC6A55" stop-opacity="0.48"/><stop offset="0.6" stop-color="#DC6A55" stop-opacity="0.36"/><stop offset="0.7" stop-color="#DC6A55" stop-opacity="0.24"/><stop offset="0.8" stop-color="#DC6A55" stop-opacity="0.12"/><stop offset="0.9" stop-color="#DC6A55" stop-opacity="0.03"/><stop offset="1" stop-color="#DC6A55" stop-opacity="0"/></radialGradient>
<radialGradient id="r63"><stop offset="0" stop-color="#C9614C" stop-opacity="0.7"/><stop offset="0.3" stop-color="#C9614C" stop-opacity="0.7"/><stop offset="0.4" stop-color="#C9614C" stop-opacity="0.66"/><stop offset="0.5" stop-color="#C9614C" stop-opacity="0.56"/><stop offset="0.6" stop-color="#C9614C" stop-opacity="0.42"/><stop offset="0.7" stop-color="#C9614C" stop-opacity="0.28"/><stop offset="0.8" stop-color="#C9614C" stop-opacity="0.14"/><stop offset="0.9" stop-color="#C9614C" stop-opacity="0.04"/><stop offset="1" stop-color="#C9614C" stop-opacity="0"/></radialGradient>
<radialGradient id="r64"><stop offset="0" stop-color="#FFEFD8" stop-opacity="0.95"/><stop offset="0.3" stop-color="#FFEFD8" stop-opacity="0.95"/><stop offset="0.4" stop-color="#FFEFD8" stop-opacity="0.9"/><stop offset="0.5" stop-color="#FFEFD8" stop-opacity="0.76"/><stop offset="0.6" stop-color="#FFEFD8" stop-opacity="0.58"/><stop offset="0.7" stop-color="#FFEFD8" stop-opacity="0.37"/><stop offset="0.8" stop-color="#FFEFD8" stop-opacity="0.19"/><stop offset="0.9" stop-color="#FFEFD8" stop-opacity="0.05"/><stop offset="1" stop-color="#FFEFD8" stop-opacity="0"/></radialGradient>
<radialGradient id="r65"><stop offset="0" stop-color="#FDE6D8" stop-opacity="0.85"/><stop offset="0.25" stop-color="#FDE6D8" stop-opacity="0.85"/><stop offset="0.36" stop-color="#FDE6D8" stop-opacity="0.8"/><stop offset="0.46" stop-color="#FDE6D8" stop-opacity="0.68"/><stop offset="0.57" stop-color="#FDE6D8" stop-opacity="0.52"/><stop offset="0.68" stop-color="#FDE6D8" stop-opacity="0.33"/><stop offset="0.79" stop-color="#FDE6D8" stop-opacity="0.17"/><stop offset="0.89" stop-color="#FDE6D8" stop-opacity="0.05"/><stop offset="1" stop-color="#FDE6D8" stop-opacity="0"/></radialGradient>
<filter id="f66" x="-20%" y="-20%" width="140%" height="140%"><feGaussianBlur stdDeviation="6.36"/></filter>
<clipPath id="c67"><path d="M1026.41 369.85C1026.34 365.73 1026.83 362.19 1028.92 358.65C1031.01 355.11 1034.71 351.25 1038.96 348.61C1043.2 345.97 1046.36 344.11 1054.4 342.82C1062.45 341.53 1075.32 341.21 1087.22 340.89C1099.12 340.57 1112.96 340.73 1125.83 340.89C1138.7 341.05 1154.79 341.69 1164.44 341.85C1174.09 342.01 1177.31 342.01 1183.75 341.85C1190.18 341.69 1193.4 341.37 1203.05 340.89C1212.7 340.41 1228.79 339.28 1241.66 338.96C1254.53 338.64 1269.01 338.8 1280.27 338.96C1291.53 339.12 1302.15 339.28 1309.23 339.92C1316.31 340.57 1318.88 341.37 1322.74 342.82C1326.6 344.27 1329.82 346.04 1332.39 348.61C1334.97 351.18 1337.48 354.72 1338.19 358.26C1338.89 361.8 1337.93 366.31 1336.64 369.85C1335.35 373.38 1333.42 376.6 1330.46 379.5C1327.5 382.39 1324.03 385.13 1318.88 387.22C1313.73 389.31 1309.23 390.6 1299.58 392.05C1289.92 393.49 1273.84 395.1 1260.97 395.91C1248.1 396.71 1235.23 396.39 1222.36 396.87C1209.49 397.36 1193.4 398 1183.75 398.8C1174.09 399.61 1170.88 400.73 1164.44 401.7C1158.01 402.66 1151.57 403.95 1145.14 404.59C1138.7 405.24 1132.27 405.56 1125.83 405.56C1119.4 405.56 1114.57 405.08 1106.53 404.59C1098.48 404.11 1087.22 403.47 1077.57 402.66C1067.92 401.86 1055.37 401.38 1048.61 399.77C1041.85 398.16 1040.24 395.75 1037.03 393.01C1033.81 390.28 1031.07 387.22 1029.31 383.36C1027.54 379.5 1026.47 373.96 1026.41 369.85Z"/></clipPath>
<filter id="f68" x="-5%" y="-15%" width="110%" height="130%"><feGaussianBlur stdDeviation="0.7"/></filter>
<radialGradient id="r69"><stop offset="0" stop-color="#FFFFFF" stop-opacity="1"/><stop offset="0.3" stop-color="#FFFFFF" stop-opacity="1"/><stop offset="0.4" stop-color="#FFFFFF" stop-opacity="0.94"/><stop offset="0.5" stop-color="#FFFFFF" stop-opacity="0.8"/><stop offset="0.6" stop-color="#FFFFFF" stop-opacity="0.61"/><stop offset="0.7" stop-color="#FFFFFF" stop-opacity="0.39"/><stop offset="0.8" stop-color="#FFFFFF" stop-opacity="0.2"/><stop offset="0.9" stop-color="#FFFFFF" stop-opacity="0.06"/><stop offset="1" stop-color="#FFFFFF" stop-opacity="0"/></radialGradient>
<radialGradient id="r70"><stop offset="0" stop-color="#F2F2F2" stop-opacity="1"/><stop offset="0.3" stop-color="#F2F2F2" stop-opacity="1"/><stop offset="0.4" stop-color="#F2F2F2" stop-opacity="0.94"/><stop offset="0.5" stop-color="#F2F2F2" stop-opacity="0.8"/><stop offset="0.6" stop-color="#F2F2F2" stop-opacity="0.61"/><stop offset="0.7" stop-color="#F2F2F2" stop-opacity="0.39"/><stop offset="0.8" stop-color="#F2F2F2" stop-opacity="0.2"/><stop offset="0.9" stop-color="#F2F2F2" stop-opacity="0.06"/><stop offset="1" stop-color="#F2F2F2" stop-opacity="0"/></radialGradient>
<radialGradient id="r71"><stop offset="0" stop-color="#C5DAE7" stop-opacity="0.8"/><stop offset="0.2" stop-color="#C5DAE7" stop-opacity="0.8"/><stop offset="0.31" stop-color="#C5DAE7" stop-opacity="0.76"/><stop offset="0.43" stop-color="#C5DAE7" stop-opacity="0.64"/><stop offset="0.54" stop-color="#C5DAE7" stop-opacity="0.49"/><stop offset="0.66" stop-color="#C5DAE7" stop-opacity="0.31"/><stop offset="0.77" stop-color="#C5DAE7" stop-opacity="0.16"/><stop offset="0.89" stop-color="#C5DAE7" stop-opacity="0.04"/><stop offset="1" stop-color="#C5DAE7" stop-opacity="0"/></radialGradient>
<radialGradient id="r72"><stop offset="0" stop-color="#8DB8D6" stop-opacity="0.7"/><stop offset="0.2" stop-color="#8DB8D6" stop-opacity="0.7"/><stop offset="0.31" stop-color="#8DB8D6" stop-opacity="0.66"/><stop offset="0.43" stop-color="#8DB8D6" stop-opacity="0.56"/><stop offset="0.54" stop-color="#8DB8D6" stop-opacity="0.42"/><stop offset="0.66" stop-color="#8DB8D6" stop-opacity="0.28"/><stop offset="0.77" stop-color="#8DB8D6" stop-opacity="0.14"/><stop offset="0.89" stop-color="#8DB8D6" stop-opacity="0.04"/><stop offset="1" stop-color="#8DB8D6" stop-opacity="0"/></radialGradient>
<radialGradient id="r73"><stop offset="0" stop-color="#F1D9CC" stop-opacity="0.8"/><stop offset="0.2" stop-color="#F1D9CC" stop-opacity="0.8"/><stop offset="0.31" stop-color="#F1D9CC" stop-opacity="0.76"/><stop offset="0.43" stop-color="#F1D9CC" stop-opacity="0.64"/><stop offset="0.54" stop-color="#F1D9CC" stop-opacity="0.49"/><stop offset="0.66" stop-color="#F1D9CC" stop-opacity="0.31"/><stop offset="0.77" stop-color="#F1D9CC" stop-opacity="0.16"/><stop offset="0.89" stop-color="#F1D9CC" stop-opacity="0.04"/><stop offset="1" stop-color="#F1D9CC" stop-opacity="0"/></radialGradient>
<radialGradient id="r74"><stop offset="0" stop-color="#F3DED3" stop-opacity="0.8"/><stop offset="0.2" stop-color="#F3DED3" stop-opacity="0.8"/><stop offset="0.31" stop-color="#F3DED3" stop-opacity="0.76"/><stop offset="0.43" stop-color="#F3DED3" stop-opacity="0.64"/><stop offset="0.54" stop-color="#F3DED3" stop-opacity="0.49"/><stop offset="0.66" stop-color="#F3DED3" stop-opacity="0.31"/><stop offset="0.77" stop-color="#F3DED3" stop-opacity="0.16"/><stop offset="0.89" stop-color="#F3DED3" stop-opacity="0.04"/><stop offset="1" stop-color="#F3DED3" stop-opacity="0"/></radialGradient>
<radialGradient id="r75"><stop offset="0" stop-color="#F4A582" stop-opacity="1"/><stop offset="0.5" stop-color="#F4A582" stop-opacity="1"/><stop offset="0.57" stop-color="#F4A582" stop-opacity="0.94"/><stop offset="0.64" stop-color="#F4A582" stop-opacity="0.8"/><stop offset="0.71" stop-color="#F4A582" stop-opacity="0.61"/><stop offset="0.79" stop-color="#F4A582" stop-opacity="0.39"/><stop offset="0.86" stop-color="#F4A582" stop-opacity="0.2"/><stop offset="0.93" stop-color="#F4A582" stop-opacity="0.06"/><stop offset="1" stop-color="#F4A582" stop-opacity="0"/></radialGradient>
<radialGradient id="r76"><stop offset="0" stop-color="#67001F" stop-opacity="1"/><stop offset="0.45" stop-color="#67001F" stop-opacity="1"/><stop offset="0.53" stop-color="#67001F" stop-opacity="0.94"/><stop offset="0.61" stop-color="#67001F" stop-opacity="0.8"/><stop offset="0.69" stop-color="#67001F" stop-opacity="0.61"/><stop offset="0.76" stop-color="#67001F" stop-opacity="0.39"/><stop offset="0.84" stop-color="#67001F" stop-opacity="0.2"/><stop offset="0.92" stop-color="#67001F" stop-opacity="0.06"/><stop offset="1" stop-color="#67001F" stop-opacity="0"/></radialGradient>
<radialGradient id="r77"><stop offset="0" stop-color="#F6A98A" stop-opacity="0.8"/><stop offset="0.3" stop-color="#F6A98A" stop-opacity="0.8"/><stop offset="0.4" stop-color="#F6A98A" stop-opacity="0.76"/><stop offset="0.5" stop-color="#F6A98A" stop-opacity="0.64"/><stop offset="0.6" stop-color="#F6A98A" stop-opacity="0.49"/><stop offset="0.7" stop-color="#F6A98A" stop-opacity="0.31"/><stop offset="0.8" stop-color="#F6A98A" stop-opacity="0.16"/><stop offset="0.9" stop-color="#F6A98A" stop-opacity="0.04"/><stop offset="1" stop-color="#F6A98A" stop-opacity="0"/></radialGradient>
<radialGradient id="r78"><stop offset="0" stop-color="#F0B8A0" stop-opacity="1"/><stop offset="0.5" stop-color="#F0B8A0" stop-opacity="1"/><stop offset="0.57" stop-color="#F0B8A0" stop-opacity="0.94"/><stop offset="0.64" stop-color="#F0B8A0" stop-opacity="0.8"/><stop offset="0.71" stop-color="#F0B8A0" stop-opacity="0.61"/><stop offset="0.79" stop-color="#F0B8A0" stop-opacity="0.39"/><stop offset="0.86" stop-color="#F0B8A0" stop-opacity="0.2"/><stop offset="0.93" stop-color="#F0B8A0" stop-opacity="0.06"/><stop offset="1" stop-color="#F0B8A0" stop-opacity="0"/></radialGradient>
<radialGradient id="r79"><stop offset="0" stop-color="#DCE6EE" stop-opacity="0.9"/><stop offset="0.25" stop-color="#DCE6EE" stop-opacity="0.9"/><stop offset="0.36" stop-color="#DCE6EE" stop-opacity="0.85"/><stop offset="0.46" stop-color="#DCE6EE" stop-opacity="0.72"/><stop offset="0.57" stop-color="#DCE6EE" stop-opacity="0.55"/><stop offset="0.68" stop-color="#DCE6EE" stop-opacity="0.35"/><stop offset="0.79" stop-color="#DCE6EE" stop-opacity="0.18"/><stop offset="0.89" stop-color="#DCE6EE" stop-opacity="0.05"/><stop offset="1" stop-color="#DCE6EE" stop-opacity="0"/></radialGradient>
<radialGradient id="r80"><stop offset="0" stop-color="#E3EAF0" stop-opacity="0.9"/><stop offset="0.25" stop-color="#E3EAF0" stop-opacity="0.9"/><stop offset="0.36" stop-color="#E3EAF0" stop-opacity="0.85"/><stop offset="0.46" stop-color="#E3EAF0" stop-opacity="0.72"/><stop offset="0.57" stop-color="#E3EAF0" stop-opacity="0.55"/><stop offset="0.68" stop-color="#E3EAF0" stop-opacity="0.35"/><stop offset="0.79" stop-color="#E3EAF0" stop-opacity="0.18"/><stop offset="0.89" stop-color="#E3EAF0" stop-opacity="0.05"/><stop offset="1" stop-color="#E3EAF0" stop-opacity="0"/></radialGradient>
<filter id="f81" x="-20%" y="-20%" width="140%" height="140%"><feGaussianBlur stdDeviation="2.73"/></filter>
<clipPath id="c82"><path d="M1371.58 367.92C1371.2 364.12 1373.13 359.94 1375.06 356.72C1376.99 353.5 1379.88 350.6 1383.17 348.61C1386.45 346.62 1388.96 345.65 1394.75 344.75C1400.54 343.85 1407.62 343.85 1417.92 343.2C1428.21 342.56 1443.66 341.66 1456.53 340.89C1469.4 340.12 1482.27 339.38 1495.14 338.57C1508.01 337.77 1520.88 336.8 1533.75 336.06C1546.62 335.32 1559.49 334.77 1572.36 334.13C1585.23 333.49 1598.1 332.52 1610.97 332.2C1623.84 331.88 1636.71 331.88 1649.58 332.2C1662.45 332.52 1678.53 333.23 1688.19 334.13C1697.84 335.03 1702.18 336.09 1707.49 337.61C1712.8 339.12 1716.56 340.98 1720.04 343.2C1723.51 345.42 1726.12 348.26 1728.34 350.93C1730.56 353.6 1732.27 356.4 1733.36 359.23C1734.45 362.06 1734.9 365.02 1734.9 367.92C1734.9 370.81 1734.39 373.87 1733.36 376.6C1732.33 379.34 1730.79 381.91 1728.73 384.32C1726.67 386.74 1724.06 389.09 1721 391.08C1717.95 393.08 1714.25 395.01 1710.39 396.29C1706.53 397.58 1704.76 398.71 1697.84 398.8C1690.92 398.9 1680.14 397.52 1668.88 396.87C1657.62 396.23 1643.14 395.26 1630.27 394.94C1617.4 394.62 1604.53 394.62 1591.66 394.94C1578.79 395.26 1565.92 396.07 1553.05 396.87C1540.18 397.68 1527.31 398.96 1514.44 399.77C1501.57 400.57 1488.7 401.54 1475.83 401.7C1462.96 401.86 1448.48 401.54 1437.22 400.73C1425.96 399.93 1416.31 398.8 1408.26 396.87C1400.22 394.94 1394.11 392.05 1388.96 389.15C1383.81 386.25 1380.27 383.04 1377.37 379.5C1374.48 375.96 1371.97 371.71 1371.58 367.92Z"/></clipPath>
<filter id="f83" x="-5%" y="-15%" width="110%" height="130%"><feGaussianBlur stdDeviation="0.7"/></filter>
<radialGradient id="r84"><stop offset="0" stop-color="#B5D2E4" stop-opacity="0.8"/><stop offset="0.2" stop-color="#B5D2E4" stop-opacity="0.8"/><stop offset="0.31" stop-color="#B5D2E4" stop-opacity="0.76"/><stop offset="0.43" stop-color="#B5D2E4" stop-opacity="0.64"/><stop offset="0.54" stop-color="#B5D2E4" stop-opacity="0.49"/><stop offset="0.66" stop-color="#B5D2E4" stop-opacity="0.31"/><stop offset="0.77" stop-color="#B5D2E4" stop-opacity="0.16"/><stop offset="0.89" stop-color="#B5D2E4" stop-opacity="0.04"/><stop offset="1" stop-color="#B5D2E4" stop-opacity="0"/></radialGradient>
<radialGradient id="r85"><stop offset="0" stop-color="#BFD8E8" stop-opacity="0.8"/><stop offset="0.2" stop-color="#BFD8E8" stop-opacity="0.8"/><stop offset="0.31" stop-color="#BFD8E8" stop-opacity="0.76"/><stop offset="0.43" stop-color="#BFD8E8" stop-opacity="0.64"/><stop offset="0.54" stop-color="#BFD8E8" stop-opacity="0.49"/><stop offset="0.66" stop-color="#BFD8E8" stop-opacity="0.31"/><stop offset="0.77" stop-color="#BFD8E8" stop-opacity="0.16"/><stop offset="0.89" stop-color="#BFD8E8" stop-opacity="0.04"/><stop offset="1" stop-color="#BFD8E8" stop-opacity="0"/></radialGradient>
<radialGradient id="r86"><stop offset="0" stop-color="#D0E0EB" stop-opacity="0.8"/><stop offset="0.2" stop-color="#D0E0EB" stop-opacity="0.8"/><stop offset="0.31" stop-color="#D0E0EB" stop-opacity="0.76"/><stop offset="0.43" stop-color="#D0E0EB" stop-opacity="0.64"/><stop offset="0.54" stop-color="#D0E0EB" stop-opacity="0.49"/><stop offset="0.66" stop-color="#D0E0EB" stop-opacity="0.31"/><stop offset="0.77" stop-color="#D0E0EB" stop-opacity="0.16"/><stop offset="0.89" stop-color="#D0E0EB" stop-opacity="0.04"/><stop offset="1" stop-color="#D0E0EB" stop-opacity="0"/></radialGradient>
<radialGradient id="r87"><stop offset="0" stop-color="#F6DDD0" stop-opacity="0.7"/><stop offset="0.2" stop-color="#F6DDD0" stop-opacity="0.7"/><stop offset="0.31" stop-color="#F6DDD0" stop-opacity="0.66"/><stop offset="0.43" stop-color="#F6DDD0" stop-opacity="0.56"/><stop offset="0.54" stop-color="#F6DDD0" stop-opacity="0.42"/><stop offset="0.66" stop-color="#F6DDD0" stop-opacity="0.28"/><stop offset="0.77" stop-color="#F6DDD0" stop-opacity="0.14"/><stop offset="0.89" stop-color="#F6DDD0" stop-opacity="0.04"/><stop offset="1" stop-color="#F6DDD0" stop-opacity="0"/></radialGradient>
<radialGradient id="r88"><stop offset="0" stop-color="#F3D5C6" stop-opacity="0.7"/><stop offset="0.2" stop-color="#F3D5C6" stop-opacity="0.7"/><stop offset="0.31" stop-color="#F3D5C6" stop-opacity="0.66"/><stop offset="0.43" stop-color="#F3D5C6" stop-opacity="0.56"/><stop offset="0.54" stop-color="#F3D5C6" stop-opacity="0.42"/><stop offset="0.66" stop-color="#F3D5C6" stop-opacity="0.28"/><stop offset="0.77" stop-color="#F3D5C6" stop-opacity="0.14"/><stop offset="0.89" stop-color="#F3D5C6" stop-opacity="0.04"/><stop offset="1" stop-color="#F3D5C6" stop-opacity="0"/></radialGradient>
<radialGradient id="r89"><stop offset="0" stop-color="#67001F" stop-opacity="0.9"/><stop offset="0.5" stop-color="#67001F" stop-opacity="0.9"/><stop offset="0.57" stop-color="#67001F" stop-opacity="0.85"/><stop offset="0.64" stop-color="#67001F" stop-opacity="0.72"/><stop offset="0.71" stop-color="#67001F" stop-opacity="0.55"/><stop offset="0.79" stop-color="#67001F" stop-opacity="0.35"/><stop offset="0.86" stop-color="#67001F" stop-opacity="0.18"/><stop offset="0.93" stop-color="#67001F" stop-opacity="0.05"/><stop offset="1" stop-color="#67001F" stop-opacity="0"/></radialGradient>
<radialGradient id="r90"><stop offset="0" stop-color="#FDE0CF" stop-opacity="0.95"/><stop offset="0.25" stop-color="#FDE0CF" stop-opacity="0.95"/><stop offset="0.36" stop-color="#FDE0CF" stop-opacity="0.9"/><stop offset="0.46" stop-color="#FDE0CF" stop-opacity="0.76"/><stop offset="0.57" stop-color="#FDE0CF" stop-opacity="0.58"/><stop offset="0.68" stop-color="#FDE0CF" stop-opacity="0.37"/><stop offset="0.79" stop-color="#FDE0CF" stop-opacity="0.19"/><stop offset="0.89" stop-color="#FDE0CF" stop-opacity="0.05"/><stop offset="1" stop-color="#FDE0CF" stop-opacity="0"/></radialGradient>
<radialGradient id="r91"><stop offset="0" stop-color="#E8EEF3" stop-opacity="0.9"/><stop offset="0.25" stop-color="#E8EEF3" stop-opacity="0.9"/><stop offset="0.36" stop-color="#E8EEF3" stop-opacity="0.85"/><stop offset="0.46" stop-color="#E8EEF3" stop-opacity="0.72"/><stop offset="0.57" stop-color="#E8EEF3" stop-opacity="0.55"/><stop offset="0.68" stop-color="#E8EEF3" stop-opacity="0.35"/><stop offset="0.79" stop-color="#E8EEF3" stop-opacity="0.18"/><stop offset="0.89" stop-color="#E8EEF3" stop-opacity="0.05"/><stop offset="1" stop-color="#E8EEF3" stop-opacity="0"/></radialGradient>
<filter id="f92" x="-20%" y="-20%" width="140%" height="140%"><feGaussianBlur stdDeviation="2.73"/></filter>
<clipPath id="c93"><path d="M54.04 545.45C53.99 542.16 54.55 538.15 55.78 535.03C57 531.91 59.12 529.01 61.39 526.74C63.66 524.47 66.29 522.5 69.41 521.39C72.53 520.28 76.1 519.94 80.11 520.05C84.12 520.16 89.02 521.28 93.48 522.06C97.93 522.84 102.39 523.95 106.84 524.73C111.3 525.51 114.64 526.29 120.21 526.74C125.78 527.18 133.58 527.52 140.27 527.41C146.95 527.3 152.52 526.63 160.32 526.07C168.12 525.51 178.15 524.73 187.06 524.06C195.97 523.4 206 522.62 213.8 522.06C221.6 521.5 228.28 520.94 233.85 520.72C239.42 520.5 242.76 520.28 247.22 520.72C251.68 521.17 256.13 521.95 260.59 523.4C265.04 524.84 270.06 526.96 273.96 529.41C277.86 531.86 281.31 535.2 283.98 538.1C286.66 541 288.64 544.23 290 546.79C291.36 549.35 292.01 551.25 292.14 553.48C292.27 555.7 291.6 557.93 290.8 560.16C290 562.39 289.02 564.66 287.33 566.84C285.63 569.03 283.32 571.26 280.64 573.26C277.97 575.27 275.74 577.05 271.28 578.88C266.83 580.7 261.26 582.55 253.9 584.22C246.55 585.9 236.08 587.68 227.17 588.9C218.25 590.13 209.34 591.02 200.43 591.58C191.52 592.13 181.49 592.25 173.69 592.25C165.89 592.25 159.21 592.13 153.64 591.58C148.07 591.02 144.72 590.24 140.27 588.9C135.81 587.57 131.35 585.23 126.9 583.56C122.44 581.89 119.1 580.33 113.53 578.88C107.96 577.43 100.16 576.43 93.48 574.87C86.79 573.31 78.55 571.52 73.42 569.52C68.3 567.51 65.62 565.29 62.73 562.83C59.83 560.38 57.49 557.71 56.04 554.81C54.59 551.92 54.08 548.75 54.04 545.45Z"/></clipPath>
<radialGradient id="r94"><stop offset="0" stop-color="#3B399A" stop-opacity="1"/><stop offset="0.5" stop-color="#3B399A" stop-opacity="1"/><stop offset="0.57" stop-color="#3B399A" stop-opacity="0.94"/><stop offset="0.64" stop-color="#3B399A" stop-opacity="0.8"/><stop offset="0.71" stop-color="#3B399A" stop-opacity="0.61"/><stop offset="0.79" stop-color="#3B399A" stop-opacity="0.39"/><stop offset="0.86" stop-color="#3B399A" stop-opacity="0.2"/><stop offset="0.93" stop-color="#3B399A" stop-opacity="0.06"/><stop offset="1" stop-color="#3B399A" stop-opacity="0"/></radialGradient>
<radialGradient id="r95"><stop offset="0" stop-color="#A6A0DA" stop-opacity="1"/><stop offset="0.2" stop-color="#A6A0DA" stop-opacity="1"/><stop offset="0.31" stop-color="#A6A0DA" stop-opacity="0.94"/><stop offset="0.43" stop-color="#A6A0DA" stop-opacity="0.8"/><stop offset="0.54" stop-color="#A6A0DA" stop-opacity="0.61"/><stop offset="0.66" stop-color="#A6A0DA" stop-opacity="0.39"/><stop offset="0.77" stop-color="#A6A0DA" stop-opacity="0.2"/><stop offset="0.89" stop-color="#A6A0DA" stop-opacity="0.06"/><stop offset="1" stop-color="#A6A0DA" stop-opacity="0"/></radialGradient>
<radialGradient id="r96"><stop offset="0" stop-color="#35338F" stop-opacity="1"/><stop offset="0.5" stop-color="#35338F" stop-opacity="1"/><stop offset="0.57" stop-color="#35338F" stop-opacity="0.94"/><stop offset="0.64" stop-color="#35338F" stop-opacity="0.8"/><stop offset="0.71" stop-color="#35338F" stop-opacity="0.61"/><stop offset="0.79" stop-color="#35338F" stop-opacity="0.39"/><stop offset="0.86" stop-color="#35338F" stop-opacity="0.2"/><stop offset="0.93" stop-color="#35338F" stop-opacity="0.06"/><stop offset="1" stop-color="#35338F" stop-opacity="0"/></radialGradient>
<radialGradient id="r97"><stop offset="0" stop-color="#2A72BD" stop-opacity="1"/><stop offset="0.4" stop-color="#2A72BD" stop-opacity="1"/><stop offset="0.49" stop-color="#2A72BD" stop-opacity="0.94"/><stop offset="0.57" stop-color="#2A72BD" stop-opacity="0.8"/><stop offset="0.66" stop-color="#2A72BD" stop-opacity="0.61"/><stop offset="0.74" stop-color="#2A72BD" stop-opacity="0.39"/><stop offset="0.83" stop-color="#2A72BD" stop-opacity="0.2"/><stop offset="0.91" stop-color="#2A72BD" stop-opacity="0.06"/><stop offset="1" stop-color="#2A72BD" stop-opacity="0"/></radialGradient>
<radialGradient id="r98"><stop offset="0" stop-color="#2C9CA8" stop-opacity="0.8"/><stop offset="0.3" stop-color="#2C9CA8" stop-opacity="0.8"/><stop offset="0.4" stop-color="#2C9CA8" stop-opacity="0.76"/><stop offset="0.5" stop-color="#2C9CA8" stop-opacity="0.64"/><stop offset="0.6" stop-color="#2C9CA8" stop-opacity="0.49"/><stop offset="0.7" stop-color="#2C9CA8" stop-opacity="0.31"/><stop offset="0.8" stop-color="#2C9CA8" stop-opacity="0.16"/><stop offset="0.9" stop-color="#2C9CA8" stop-opacity="0.04"/><stop offset="1" stop-color="#2C9CA8" stop-opacity="0"/></radialGradient>
<radialGradient id="r99"><stop offset="0" stop-color="#4339A0" stop-opacity="0.95"/><stop offset="0.4" stop-color="#4339A0" stop-opacity="0.95"/><stop offset="0.49" stop-color="#4339A0" stop-opacity="0.9"/><stop offset="0.57" stop-color="#4339A0" stop-opacity="0.76"/><stop offset="0.66" stop-color="#4339A0" stop-opacity="0.58"/><stop offset="0.74" stop-color="#4339A0" stop-opacity="0.37"/><stop offset="0.83" stop-color="#4339A0" stop-opacity="0.19"/><stop offset="0.91" stop-color="#4339A0" stop-opacity="0.05"/><stop offset="1" stop-color="#4339A0" stop-opacity="0"/></radialGradient>
<radialGradient id="r100"><stop offset="0" stop-color="#3D3C9E" stop-opacity="0.9"/><stop offset="0.4" stop-color="#3D3C9E" stop-opacity="0.9"/><stop offset="0.49" stop-color="#3D3C9E" stop-opacity="0.85"/><stop offset="0.57" stop-color="#3D3C9E" stop-opacity="0.72"/><stop offset="0.66" stop-color="#3D3C9E" stop-opacity="0.55"/><stop offset="0.74" stop-color="#3D3C9E" stop-opacity="0.35"/><stop offset="0.83" stop-color="#3D3C9E" stop-opacity="0.18"/><stop offset="0.91" stop-color="#3D3C9E" stop-opacity="0.05"/><stop offset="1" stop-color="#3D3C9E" stop-opacity="0"/></radialGradient>
<radialGradient id="r101"><stop offset="0" stop-color="#1E9DB5" stop-opacity="0.9"/><stop offset="0.3" stop-color="#1E9DB5" stop-opacity="0.9"/><stop offset="0.4" stop-color="#1E9DB5" stop-opacity="0.85"/><stop offset="0.5" stop-color="#1E9DB5" stop-opacity="0.72"/><stop offset="0.6" stop-color="#1E9DB5" stop-opacity="0.55"/><stop offset="0.7" stop-color="#1E9DB5" stop-opacity="0.35"/><stop offset="0.8" stop-color="#1E9DB5" stop-opacity="0.18"/><stop offset="0.9" stop-color="#1E9DB5" stop-opacity="0.05"/><stop offset="1" stop-color="#1E9DB5" stop-opacity="0"/></radialGradient>
<radialGradient id="r102"><stop offset="0" stop-color="#8FD4EE" stop-opacity="0.85"/><stop offset="0.3" stop-color="#8FD4EE" stop-opacity="0.85"/><stop offset="0.4" stop-color="#8FD4EE" stop-opacity="0.8"/><stop offset="0.5" stop-color="#8FD4EE" stop-opacity="0.68"/><stop offset="0.6" stop-color="#8FD4EE" stop-opacity="0.52"/><stop offset="0.7" stop-color="#8FD4EE" stop-opacity="0.33"/><stop offset="0.8" stop-color="#8FD4EE" stop-opacity="0.17"/><stop offset="0.9" stop-color="#8FD4EE" stop-opacity="0.05"/><stop offset="1" stop-color="#8FD4EE" stop-opacity="0"/></radialGradient>
<radialGradient id="r103"><stop offset="0" stop-color="#C5EAF7" stop-opacity="0.6"/><stop offset="0.3" stop-color="#C5EAF7" stop-opacity="0.6"/><stop offset="0.4" stop-color="#C5EAF7" stop-opacity="0.57"/><stop offset="0.5" stop-color="#C5EAF7" stop-opacity="0.48"/><stop offset="0.6" stop-color="#C5EAF7" stop-opacity="0.36"/><stop offset="0.7" stop-color="#C5EAF7" stop-opacity="0.24"/><stop offset="0.8" stop-color="#C5EAF7" stop-opacity="0.12"/><stop offset="0.9" stop-color="#C5EAF7" stop-opacity="0.03"/><stop offset="1" stop-color="#C5EAF7" stop-opacity="0"/></radialGradient>
<radialGradient id="r104"><stop offset="0" stop-color="#4FB59A" stop-opacity="0.95"/><stop offset="0.3" stop-color="#4FB59A" stop-opacity="0.95"/><stop offset="0.4" stop-color="#4FB59A" stop-opacity="0.9"/><stop offset="0.5" stop-color="#4FB59A" stop-opacity="0.76"/><stop offset="0.6" stop-color="#4FB59A" stop-opacity="0.58"/><stop offset="0.7" stop-color="#4FB59A" stop-opacity="0.37"/><stop offset="0.8" stop-color="#4FB59A" stop-opacity="0.19"/><stop offset="0.9" stop-color="#4FB59A" stop-opacity="0.05"/><stop offset="1" stop-color="#4FB59A" stop-opacity="0"/></radialGradient>
<radialGradient id="r105"><stop offset="0" stop-color="#E0B83A" stop-opacity="0.95"/><stop offset="0.3" stop-color="#E0B83A" stop-opacity="0.95"/><stop offset="0.4" stop-color="#E0B83A" stop-opacity="0.9"/><stop offset="0.5" stop-color="#E0B83A" stop-opacity="0.76"/><stop offset="0.6" stop-color="#E0B83A" stop-opacity="0.58"/><stop offset="0.7" stop-color="#E0B83A" stop-opacity="0.37"/><stop offset="0.8" stop-color="#E0B83A" stop-opacity="0.19"/><stop offset="0.9" stop-color="#E0B83A" stop-opacity="0.05"/><stop offset="1" stop-color="#E0B83A" stop-opacity="0"/></radialGradient>
<radialGradient id="r106"><stop offset="0" stop-color="#B9B040" stop-opacity="0.9"/><stop offset="0.3" stop-color="#B9B040" stop-opacity="0.9"/><stop offset="0.4" stop-color="#B9B040" stop-opacity="0.85"/><stop offset="0.5" stop-color="#B9B040" stop-opacity="0.72"/><stop offset="0.6" stop-color="#B9B040" stop-opacity="0.55"/><stop offset="0.7" stop-color="#B9B040" stop-opacity="0.35"/><stop offset="0.8" stop-color="#B9B040" stop-opacity="0.18"/><stop offset="0.9" stop-color="#B9B040" stop-opacity="0.05"/><stop offset="1" stop-color="#B9B040" stop-opacity="0"/></radialGradient>
<radialGradient id="r107"><stop offset="0" stop-color="#3FB59A" stop-opacity="0.85"/><stop offset="0.35" stop-color="#3FB59A" stop-opacity="0.85"/><stop offset="0.44" stop-color="#3FB59A" stop-opacity="0.8"/><stop offset="0.54" stop-color="#3FB59A" stop-opacity="0.68"/><stop offset="0.63" stop-color="#3FB59A" stop-opacity="0.52"/><stop offset="0.72" stop-color="#3FB59A" stop-opacity="0.33"/><stop offset="0.81" stop-color="#3FB59A" stop-opacity="0.17"/><stop offset="0.91" stop-color="#3FB59A" stop-opacity="0.05"/><stop offset="1" stop-color="#3FB59A" stop-opacity="0"/></radialGradient>
<radialGradient id="r108"><stop offset="0" stop-color="#F5B52E" stop-opacity="0.97"/><stop offset="0.45" stop-color="#F5B52E" stop-opacity="0.97"/><stop offset="0.53" stop-color="#F5B52E" stop-opacity="0.92"/><stop offset="0.61" stop-color="#F5B52E" stop-opacity="0.78"/><stop offset="0.69" stop-color="#F5B52E" stop-opacity="0.59"/><stop offset="0.76" stop-color="#F5B52E" stop-opacity="0.38"/><stop offset="0.84" stop-color="#F5B52E" stop-opacity="0.19"/><stop offset="0.92" stop-color="#F5B52E" stop-opacity="0.05"/><stop offset="1" stop-color="#F5B52E" stop-opacity="0"/></radialGradient>
<radialGradient id="r109"><stop offset="0" stop-color="#EFE81C" stop-opacity="1"/><stop offset="0.4" stop-color="#EFE81C" stop-opacity="1"/><stop offset="0.49" stop-color="#EFE81C" stop-opacity="0.94"/><stop offset="0.57" stop-color="#EFE81C" stop-opacity="0.8"/><stop offset="0.66" stop-color="#EFE81C" stop-opacity="0.61"/><stop offset="0.74" stop-color="#EFE81C" stop-opacity="0.39"/><stop offset="0.83" stop-color="#EFE81C" stop-opacity="0.2"/><stop offset="0.91" stop-color="#EFE81C" stop-opacity="0.06"/><stop offset="1" stop-color="#EFE81C" stop-opacity="0"/></radialGradient>
<radialGradient id="r110"><stop offset="0" stop-color="#C9B840" stop-opacity="0.85"/><stop offset="0.3" stop-color="#C9B840" stop-opacity="0.85"/><stop offset="0.4" stop-color="#C9B840" stop-opacity="0.8"/><stop offset="0.5" stop-color="#C9B840" stop-opacity="0.68"/><stop offset="0.6" stop-color="#C9B840" stop-opacity="0.52"/><stop offset="0.7" stop-color="#C9B840" stop-opacity="0.33"/><stop offset="0.8" stop-color="#C9B840" stop-opacity="0.17"/><stop offset="0.9" stop-color="#C9B840" stop-opacity="0.05"/><stop offset="1" stop-color="#C9B840" stop-opacity="0"/></radialGradient>
<radialGradient id="r111"><stop offset="0" stop-color="#8BBF5A" stop-opacity="0.85"/><stop offset="0.25" stop-color="#8BBF5A" stop-opacity="0.85"/><stop offset="0.36" stop-color="#8BBF5A" stop-opacity="0.8"/><stop offset="0.46" stop-color="#8BBF5A" stop-opacity="0.68"/><stop offset="0.57" stop-color="#8BBF5A" stop-opacity="0.52"/><stop offset="0.68" stop-color="#8BBF5A" stop-opacity="0.33"/><stop offset="0.79" stop-color="#8BBF5A" stop-opacity="0.17"/><stop offset="0.89" stop-color="#8BBF5A" stop-opacity="0.05"/><stop offset="1" stop-color="#8BBF5A" stop-opacity="0"/></radialGradient>
<filter id="f112" x="-20%" y="-20%" width="140%" height="140%"><feGaussianBlur stdDeviation="2.73"/></filter>
<clipPath id="c113"><path d="M308.05 556.15C308 552.58 308.56 548.35 309.79 544.79C311.01 541.22 313.13 537.54 315.4 534.76C317.67 531.97 320.3 529.63 323.42 528.07C326.54 526.52 329.66 525.62 334.12 525.4C338.57 525.18 344.14 526.4 350.16 526.74C356.18 527.07 363.53 527.58 370.21 527.41C376.9 527.23 383.58 526.11 390.27 525.67C396.95 525.22 403.64 524.82 410.32 524.73C417.01 524.64 423.69 524.84 430.37 525.13C437.06 525.42 443.74 526.09 450.43 526.47C457.11 526.85 464.91 527.47 470.48 527.41C476.05 527.34 479.39 526.67 483.85 526.07C488.31 525.47 492.76 524.24 497.22 523.8C501.68 523.35 506.13 523.02 510.59 523.4C515.04 523.77 519.95 524.62 523.96 526.07C527.97 527.52 531.38 529.52 534.65 532.09C537.93 534.65 541.16 538.21 543.61 541.44C546.06 544.67 548.07 548.35 549.36 551.47C550.65 554.59 551.25 557.38 551.36 560.16C551.48 562.95 550.92 565.62 550.03 568.18C549.14 570.74 547.69 573.42 546.02 575.53C544.34 577.65 542.34 579.32 540 580.88C537.66 582.44 535.77 583.67 531.98 584.89C528.19 586.12 523.07 587.68 517.27 588.24C511.48 588.79 503.9 588.5 497.22 588.24C490.53 587.97 483.85 587.25 477.17 586.63C470.48 586.01 462.68 585.16 457.11 584.49C451.54 583.82 448.2 583.2 443.74 582.62C439.29 582.04 434.83 581.15 430.37 581.02C425.92 580.88 421.46 581.11 417.01 581.82C412.55 582.53 408.09 584.22 403.64 585.29C399.18 586.36 395.84 587.52 390.27 588.24C384.7 588.95 376.9 589.53 370.21 589.57C363.53 589.62 355.73 588.95 350.16 588.5C344.59 588.06 341.02 588.01 336.79 586.9C332.56 585.78 328.32 583.93 324.76 581.82C321.19 579.7 317.85 576.8 315.4 574.2C312.95 571.59 311.28 569.18 310.05 566.18C308.83 563.17 308.09 559.71 308.05 556.15Z"/></clipPath>
<radialGradient id="r114"><stop offset="0" stop-color="#3D3A9C" stop-opacity="1"/><stop offset="0.5" stop-color="#3D3A9C" stop-opacity="1"/><stop offset="0.57" stop-color="#3D3A9C" stop-opacity="0.94"/><stop offset="0.64" stop-color="#3D3A9C" stop-opacity="0.8"/><stop offset="0.71" stop-color="#3D3A9C" stop-opacity="0.61"/><stop offset="0.79" stop-color="#3D3A9C" stop-opacity="0.39"/><stop offset="0.86" stop-color="#3D3A9C" stop-opacity="0.2"/><stop offset="0.93" stop-color="#3D3A9C" stop-opacity="0.06"/><stop offset="1" stop-color="#3D3A9C" stop-opacity="0"/></radialGradient>
<radialGradient id="r115"><stop offset="0" stop-color="#3D379A" stop-opacity="0.95"/><stop offset="0.4" stop-color="#3D379A" stop-opacity="0.95"/><stop offset="0.49" stop-color="#3D379A" stop-opacity="0.9"/><stop offset="0.57" stop-color="#3D379A" stop-opacity="0.76"/><stop offset="0.66" stop-color="#3D379A" stop-opacity="0.58"/><stop offset="0.74" stop-color="#3D379A" stop-opacity="0.37"/><stop offset="0.83" stop-color="#3D379A" stop-opacity="0.19"/><stop offset="0.91" stop-color="#3D379A" stop-opacity="0.05"/><stop offset="1" stop-color="#3D379A" stop-opacity="0"/></radialGradient>
<radialGradient id="r116"><stop offset="0" stop-color="#38348F" stop-opacity="1"/><stop offset="0.5" stop-color="#38348F" stop-opacity="1"/><stop offset="0.57" stop-color="#38348F" stop-opacity="0.94"/><stop offset="0.64" stop-color="#38348F" stop-opacity="0.8"/><stop offset="0.71" stop-color="#38348F" stop-opacity="0.61"/><stop offset="0.79" stop-color="#38348F" stop-opacity="0.39"/><stop offset="0.86" stop-color="#38348F" stop-opacity="0.2"/><stop offset="0.93" stop-color="#38348F" stop-opacity="0.06"/><stop offset="1" stop-color="#38348F" stop-opacity="0"/></radialGradient>
<radialGradient id="r117"><stop offset="0" stop-color="#2F3088" stop-opacity="1"/><stop offset="0.4" stop-color="#2F3088" stop-opacity="1"/><stop offset="0.49" stop-color="#2F3088" stop-opacity="0.94"/><stop offset="0.57" stop-color="#2F3088" stop-opacity="0.8"/><stop offset="0.66" stop-color="#2F3088" stop-opacity="0.61"/><stop offset="0.74" stop-color="#2F3088" stop-opacity="0.39"/><stop offset="0.83" stop-color="#2F3088" stop-opacity="0.2"/><stop offset="0.91" stop-color="#2F3088" stop-opacity="0.06"/><stop offset="1" stop-color="#2F3088" stop-opacity="0"/></radialGradient>
<radialGradient id="r118"><stop offset="0" stop-color="#3A3494" stop-opacity="0.95"/><stop offset="0.4" stop-color="#3A3494" stop-opacity="0.95"/><stop offset="0.49" stop-color="#3A3494" stop-opacity="0.9"/><stop offset="0.57" stop-color="#3A3494" stop-opacity="0.76"/><stop offset="0.66" stop-color="#3A3494" stop-opacity="0.58"/><stop offset="0.74" stop-color="#3A3494" stop-opacity="0.37"/><stop offset="0.83" stop-color="#3A3494" stop-opacity="0.19"/><stop offset="0.91" stop-color="#3A3494" stop-opacity="0.05"/><stop offset="1" stop-color="#3A3494" stop-opacity="0"/></radialGradient>
<radialGradient id="r119"><stop offset="0" stop-color="#3A3494" stop-opacity="0.9"/><stop offset="0.4" stop-color="#3A3494" stop-opacity="0.9"/><stop offset="0.49" stop-color="#3A3494" stop-opacity="0.85"/><stop offset="0.57" stop-color="#3A3494" stop-opacity="0.72"/><stop offset="0.66" stop-color="#3A3494" stop-opacity="0.55"/><stop offset="0.74" stop-color="#3A3494" stop-opacity="0.35"/><stop offset="0.83" stop-color="#3A3494" stop-opacity="0.18"/><stop offset="0.91" stop-color="#3A3494" stop-opacity="0.05"/><stop offset="1" stop-color="#3A3494" stop-opacity="0"/></radialGradient>
<radialGradient id="r120"><stop offset="0" stop-color="#3A3494" stop-opacity="0.85"/><stop offset="0.4" stop-color="#3A3494" stop-opacity="0.85"/><stop offset="0.49" stop-color="#3A3494" stop-opacity="0.8"/><stop offset="0.57" stop-color="#3A3494" stop-opacity="0.68"/><stop offset="0.66" stop-color="#3A3494" stop-opacity="0.52"/><stop offset="0.74" stop-color="#3A3494" stop-opacity="0.33"/><stop offset="0.83" stop-color="#3A3494" stop-opacity="0.17"/><stop offset="0.91" stop-color="#3A3494" stop-opacity="0.05"/><stop offset="1" stop-color="#3A3494" stop-opacity="0"/></radialGradient>
<radialGradient id="r121"><stop offset="0" stop-color="#8ED4EE" stop-opacity="0.85"/><stop offset="0.3" stop-color="#8ED4EE" stop-opacity="0.85"/><stop offset="0.4" stop-color="#8ED4EE" stop-opacity="0.8"/><stop offset="0.5" stop-color="#8ED4EE" stop-opacity="0.68"/><stop offset="0.6" stop-color="#8ED4EE" stop-opacity="0.52"/><stop offset="0.7" stop-color="#8ED4EE" stop-opacity="0.33"/><stop offset="0.8" stop-color="#8ED4EE" stop-opacity="0.17"/><stop offset="0.9" stop-color="#8ED4EE" stop-opacity="0.05"/><stop offset="1" stop-color="#8ED4EE" stop-opacity="0"/></radialGradient>
<radialGradient id="r122"><stop offset="0" stop-color="#8FB8E6" stop-opacity="0.9"/><stop offset="0.3" stop-color="#8FB8E6" stop-opacity="0.9"/><stop offset="0.4" stop-color="#8FB8E6" stop-opacity="0.85"/><stop offset="0.5" stop-color="#8FB8E6" stop-opacity="0.72"/><stop offset="0.6" stop-color="#8FB8E6" stop-opacity="0.55"/><stop offset="0.7" stop-color="#8FB8E6" stop-opacity="0.35"/><stop offset="0.8" stop-color="#8FB8E6" stop-opacity="0.18"/><stop offset="0.9" stop-color="#8FB8E6" stop-opacity="0.05"/><stop offset="1" stop-color="#8FB8E6" stop-opacity="0"/></radialGradient>
<radialGradient id="r123"><stop offset="0" stop-color="#D8D0F0" stop-opacity="0.9"/><stop offset="0.25" stop-color="#D8D0F0" stop-opacity="0.9"/><stop offset="0.36" stop-color="#D8D0F0" stop-opacity="0.85"/><stop offset="0.46" stop-color="#D8D0F0" stop-opacity="0.72"/><stop offset="0.57" stop-color="#D8D0F0" stop-opacity="0.55"/><stop offset="0.68" stop-color="#D8D0F0" stop-opacity="0.35"/><stop offset="0.79" stop-color="#D8D0F0" stop-opacity="0.18"/><stop offset="0.89" stop-color="#D8D0F0" stop-opacity="0.05"/><stop offset="1" stop-color="#D8D0F0" stop-opacity="0"/></radialGradient>
<radialGradient id="r124"><stop offset="0" stop-color="#3DB8A0" stop-opacity="0.95"/><stop offset="0.4" stop-color="#3DB8A0" stop-opacity="0.95"/><stop offset="0.49" stop-color="#3DB8A0" stop-opacity="0.9"/><stop offset="0.57" stop-color="#3DB8A0" stop-opacity="0.76"/><stop offset="0.66" stop-color="#3DB8A0" stop-opacity="0.58"/><stop offset="0.74" stop-color="#3DB8A0" stop-opacity="0.37"/><stop offset="0.83" stop-color="#3DB8A0" stop-opacity="0.19"/><stop offset="0.91" stop-color="#3DB8A0" stop-opacity="0.05"/><stop offset="1" stop-color="#3DB8A0" stop-opacity="0"/></radialGradient>
<radialGradient id="r125"><stop offset="0" stop-color="#C8CC4A" stop-opacity="0.95"/><stop offset="0.3" stop-color="#C8CC4A" stop-opacity="0.95"/><stop offset="0.4" stop-color="#C8CC4A" stop-opacity="0.9"/><stop offset="0.5" stop-color="#C8CC4A" stop-opacity="0.76"/><stop offset="0.6" stop-color="#C8CC4A" stop-opacity="0.58"/><stop offset="0.7" stop-color="#C8CC4A" stop-opacity="0.37"/><stop offset="0.8" stop-color="#C8CC4A" stop-opacity="0.19"/><stop offset="0.9" stop-color="#C8CC4A" stop-opacity="0.05"/><stop offset="1" stop-color="#C8CC4A" stop-opacity="0"/></radialGradient>
<radialGradient id="r126"><stop offset="0" stop-color="#2DB0A0" stop-opacity="0.85"/><stop offset="0.35" stop-color="#2DB0A0" stop-opacity="0.85"/><stop offset="0.44" stop-color="#2DB0A0" stop-opacity="0.8"/><stop offset="0.54" stop-color="#2DB0A0" stop-opacity="0.68"/><stop offset="0.63" stop-color="#2DB0A0" stop-opacity="0.52"/><stop offset="0.72" stop-color="#2DB0A0" stop-opacity="0.33"/><stop offset="0.81" stop-color="#2DB0A0" stop-opacity="0.17"/><stop offset="0.91" stop-color="#2DB0A0" stop-opacity="0.05"/><stop offset="1" stop-color="#2DB0A0" stop-opacity="0"/></radialGradient>
<radialGradient id="r127"><stop offset="0" stop-color="#F2B531" stop-opacity="0.97"/><stop offset="0.4" stop-color="#F2B531" stop-opacity="0.97"/><stop offset="0.49" stop-color="#F2B531" stop-opacity="0.92"/><stop offset="0.57" stop-color="#F2B531" stop-opacity="0.78"/><stop offset="0.66" stop-color="#F2B531" stop-opacity="0.59"/><stop offset="0.74" stop-color="#F2B531" stop-opacity="0.38"/><stop offset="0.83" stop-color="#F2B531" stop-opacity="0.19"/><stop offset="0.91" stop-color="#F2B531" stop-opacity="0.05"/><stop offset="1" stop-color="#F2B531" stop-opacity="0"/></radialGradient>
<radialGradient id="r128"><stop offset="0" stop-color="#F6CC22" stop-opacity="1"/><stop offset="0.4" stop-color="#F6CC22" stop-opacity="1"/><stop offset="0.49" stop-color="#F6CC22" stop-opacity="0.94"/><stop offset="0.57" stop-color="#F6CC22" stop-opacity="0.8"/><stop offset="0.66" stop-color="#F6CC22" stop-opacity="0.61"/><stop offset="0.74" stop-color="#F6CC22" stop-opacity="0.39"/><stop offset="0.83" stop-color="#F6CC22" stop-opacity="0.2"/><stop offset="0.91" stop-color="#F6CC22" stop-opacity="0.06"/><stop offset="1" stop-color="#F6CC22" stop-opacity="0"/></radialGradient>
<radialGradient id="r129"><stop offset="0" stop-color="#E5A935" stop-opacity="0.95"/><stop offset="0.4" stop-color="#E5A935" stop-opacity="0.95"/><stop offset="0.49" stop-color="#E5A935" stop-opacity="0.9"/><stop offset="0.57" stop-color="#E5A935" stop-opacity="0.76"/><stop offset="0.66" stop-color="#E5A935" stop-opacity="0.58"/><stop offset="0.74" stop-color="#E5A935" stop-opacity="0.37"/><stop offset="0.83" stop-color="#E5A935" stop-opacity="0.19"/><stop offset="0.91" stop-color="#E5A935" stop-opacity="0.05"/><stop offset="1" stop-color="#E5A935" stop-opacity="0"/></radialGradient>
<radialGradient id="r130"><stop offset="0" stop-color="#C8A838" stop-opacity="0.8"/><stop offset="0.3" stop-color="#C8A838" stop-opacity="0.8"/><stop offset="0.4" stop-color="#C8A838" stop-opacity="0.76"/><stop offset="0.5" stop-color="#C8A838" stop-opacity="0.64"/><stop offset="0.6" stop-color="#C8A838" stop-opacity="0.49"/><stop offset="0.7" stop-color="#C8A838" stop-opacity="0.31"/><stop offset="0.8" stop-color="#C8A838" stop-opacity="0.16"/><stop offset="0.9" stop-color="#C8A838" stop-opacity="0.04"/><stop offset="1" stop-color="#C8A838" stop-opacity="0"/></radialGradient>
<radialGradient id="r131"><stop offset="0" stop-color="#E0A030" stop-opacity="0.9"/><stop offset="0.4" stop-color="#E0A030" stop-opacity="0.9"/><stop offset="0.49" stop-color="#E0A030" stop-opacity="0.85"/><stop offset="0.57" stop-color="#E0A030" stop-opacity="0.72"/><stop offset="0.66" stop-color="#E0A030" stop-opacity="0.55"/><stop offset="0.74" stop-color="#E0A030" stop-opacity="0.35"/><stop offset="0.83" stop-color="#E0A030" stop-opacity="0.18"/><stop offset="0.91" stop-color="#E0A030" stop-opacity="0.05"/><stop offset="1" stop-color="#E0A030" stop-opacity="0"/></radialGradient>
<radialGradient id="r132"><stop offset="0" stop-color="#1FA0B8" stop-opacity="0.7"/><stop offset="0.3" stop-color="#1FA0B8" stop-opacity="0.7"/><stop offset="0.4" stop-color="#1FA0B8" stop-opacity="0.66"/><stop offset="0.5" stop-color="#1FA0B8" stop-opacity="0.56"/><stop offset="0.6" stop-color="#1FA0B8" stop-opacity="0.42"/><stop offset="0.7" stop-color="#1FA0B8" stop-opacity="0.28"/><stop offset="0.8" stop-color="#1FA0B8" stop-opacity="0.14"/><stop offset="0.9" stop-color="#1FA0B8" stop-opacity="0.04"/><stop offset="1" stop-color="#1FA0B8" stop-opacity="0"/></radialGradient>
<filter id="f133" x="-20%" y="-20%" width="140%" height="140%"><feGaussianBlur stdDeviation="2.73"/></filter>
<clipPath id="c134"><path d="M613.17 562.66C613.1 556.94 614.39 548.89 616.64 541.81C618.89 534.74 622.11 526.69 626.68 520.19C631.25 513.69 637.3 507.64 644.05 502.82C650.81 497.99 659.5 493.33 667.22 491.24C674.94 489.14 682.34 490.11 690.39 490.27C698.43 490.43 707.12 491.24 715.48 492.2C723.85 493.17 733.18 494.13 740.58 496.06C747.98 497.99 753.77 500.41 759.88 503.78C766 507.16 772.18 511.67 777.26 516.33C782.34 521 787.33 526.63 790.39 531.78C793.44 536.92 794.99 542.07 795.6 547.22C796.21 552.37 795.5 557.19 794.05 562.66C792.61 568.13 790.03 574.25 786.91 580.04C783.79 585.83 779.83 592.27 775.33 597.41C770.82 602.56 766 607.23 759.88 610.93C753.77 614.63 746.37 617.68 738.65 619.61C730.93 621.54 721.6 622.19 713.55 622.51C705.51 622.83 698.11 622.51 690.39 621.54C682.66 620.58 674.62 619.45 667.22 616.72C659.82 613.98 652.42 609.64 645.98 605.14C639.55 600.63 633.44 594.52 628.61 589.69C623.78 584.86 619.6 580.68 617.03 576.18C614.45 571.67 613.23 568.39 613.17 562.66Z"/></clipPath>
<radialGradient id="r135"><stop offset="0" stop-color="#3A3594" stop-opacity="1"/><stop offset="0.5" stop-color="#3A3594" stop-opacity="1"/><stop offset="0.57" stop-color="#3A3594" stop-opacity="0.94"/><stop offset="0.64" stop-color="#3A3594" stop-opacity="0.8"/><stop offset="0.71" stop-color="#3A3594" stop-opacity="0.61"/><stop offset="0.79" stop-color="#3A3594" stop-opacity="0.39"/><stop offset="0.86" stop-color="#3A3594" stop-opacity="0.2"/><stop offset="0.93" stop-color="#3A3594" stop-opacity="0.06"/><stop offset="1" stop-color="#3A3594" stop-opacity="0"/></radialGradient>
<radialGradient id="r136"><stop offset="0" stop-color="#3A3798" stop-opacity="1"/><stop offset="0.5" stop-color="#3A3798" stop-opacity="1"/><stop offset="0.57" stop-color="#3A3798" stop-opacity="0.94"/><stop offset="0.64" stop-color="#3A3798" stop-opacity="0.8"/><stop offset="0.71" stop-color="#3A3798" stop-opacity="0.61"/><stop offset="0.79" stop-color="#3A3798" stop-opacity="0.39"/><stop offset="0.86" stop-color="#3A3798" stop-opacity="0.2"/><stop offset="0.93" stop-color="#3A3798" stop-opacity="0.06"/><stop offset="1" stop-color="#3A3798" stop-opacity="0"/></radialGradient>
<radialGradient id="r137"><stop offset="0" stop-color="#2B76BE" stop-opacity="1"/><stop offset="0.4" stop-color="#2B76BE" stop-opacity="1"/><stop offset="0.49" stop-color="#2B76BE" stop-opacity="0.94"/><stop offset="0.57" stop-color="#2B76BE" stop-opacity="0.8"/><stop offset="0.66" stop-color="#2B76BE" stop-opacity="0.61"/><stop offset="0.74" stop-color="#2B76BE" stop-opacity="0.39"/><stop offset="0.83" stop-color="#2B76BE" stop-opacity="0.2"/><stop offset="0.91" stop-color="#2B76BE" stop-opacity="0.06"/><stop offset="1" stop-color="#2B76BE" stop-opacity="0"/></radialGradient>
<radialGradient id="r138"><stop offset="0" stop-color="#1FA5B5" stop-opacity="0.9"/><stop offset="0.3" stop-color="#1FA5B5" stop-opacity="0.9"/><stop offset="0.4" stop-color="#1FA5B5" stop-opacity="0.85"/><stop offset="0.5" stop-color="#1FA5B5" stop-opacity="0.72"/><stop offset="0.6" stop-color="#1FA5B5" stop-opacity="0.55"/><stop offset="0.7" stop-color="#1FA5B5" stop-opacity="0.35"/><stop offset="0.8" stop-color="#1FA5B5" stop-opacity="0.18"/><stop offset="0.9" stop-color="#1FA5B5" stop-opacity="0.05"/><stop offset="1" stop-color="#1FA5B5" stop-opacity="0"/></radialGradient>
<radialGradient id="r139"><stop offset="0" stop-color="#7FD0EC" stop-opacity="0.75"/><stop offset="0.25" stop-color="#7FD0EC" stop-opacity="0.75"/><stop offset="0.36" stop-color="#7FD0EC" stop-opacity="0.71"/><stop offset="0.46" stop-color="#7FD0EC" stop-opacity="0.6"/><stop offset="0.57" stop-color="#7FD0EC" stop-opacity="0.45"/><stop offset="0.68" stop-color="#7FD0EC" stop-opacity="0.3"/><stop offset="0.79" stop-color="#7FD0EC" stop-opacity="0.15"/><stop offset="0.89" stop-color="#7FD0EC" stop-opacity="0.04"/><stop offset="1" stop-color="#7FD0EC" stop-opacity="0"/></radialGradient>
<radialGradient id="r140"><stop offset="0" stop-color="#CDB8E6" stop-opacity="0.8"/><stop offset="0.25" stop-color="#CDB8E6" stop-opacity="0.8"/><stop offset="0.36" stop-color="#CDB8E6" stop-opacity="0.76"/><stop offset="0.46" stop-color="#CDB8E6" stop-opacity="0.64"/><stop offset="0.57" stop-color="#CDB8E6" stop-opacity="0.49"/><stop offset="0.68" stop-color="#CDB8E6" stop-opacity="0.31"/><stop offset="0.79" stop-color="#CDB8E6" stop-opacity="0.16"/><stop offset="0.89" stop-color="#CDB8E6" stop-opacity="0.04"/><stop offset="1" stop-color="#CDB8E6" stop-opacity="0"/></radialGradient>
<radialGradient id="r141"><stop offset="0" stop-color="#3FB59A" stop-opacity="0.9"/><stop offset="0.3" stop-color="#3FB59A" stop-opacity="0.9"/><stop offset="0.4" stop-color="#3FB59A" stop-opacity="0.85"/><stop offset="0.5" stop-color="#3FB59A" stop-opacity="0.72"/><stop offset="0.6" stop-color="#3FB59A" stop-opacity="0.55"/><stop offset="0.7" stop-color="#3FB59A" stop-opacity="0.35"/><stop offset="0.8" stop-color="#3FB59A" stop-opacity="0.18"/><stop offset="0.9" stop-color="#3FB59A" stop-opacity="0.05"/><stop offset="1" stop-color="#3FB59A" stop-opacity="0"/></radialGradient>
<radialGradient id="r142"><stop offset="0" stop-color="#7FA84A" stop-opacity="0.95"/><stop offset="0.4" stop-color="#7FA84A" stop-opacity="0.95"/><stop offset="0.49" stop-color="#7FA84A" stop-opacity="0.9"/><stop offset="0.57" stop-color="#7FA84A" stop-opacity="0.76"/><stop offset="0.66" stop-color="#7FA84A" stop-opacity="0.58"/><stop offset="0.74" stop-color="#7FA84A" stop-opacity="0.37"/><stop offset="0.83" stop-color="#7FA84A" stop-opacity="0.19"/><stop offset="0.91" stop-color="#7FA84A" stop-opacity="0.05"/><stop offset="1" stop-color="#7FA84A" stop-opacity="0"/></radialGradient>
<radialGradient id="r143"><stop offset="0" stop-color="#D89A2E" stop-opacity="0.9"/><stop offset="0.4" stop-color="#D89A2E" stop-opacity="0.9"/><stop offset="0.49" stop-color="#D89A2E" stop-opacity="0.85"/><stop offset="0.57" stop-color="#D89A2E" stop-opacity="0.72"/><stop offset="0.66" stop-color="#D89A2E" stop-opacity="0.55"/><stop offset="0.74" stop-color="#D89A2E" stop-opacity="0.35"/><stop offset="0.83" stop-color="#D89A2E" stop-opacity="0.18"/><stop offset="0.91" stop-color="#D89A2E" stop-opacity="0.05"/><stop offset="1" stop-color="#D89A2E" stop-opacity="0"/></radialGradient>
<radialGradient id="r144"><stop offset="0" stop-color="#C8A83A" stop-opacity="0.8"/><stop offset="0.4" stop-color="#C8A83A" stop-opacity="0.8"/><stop offset="0.49" stop-color="#C8A83A" stop-opacity="0.76"/><stop offset="0.57" stop-color="#C8A83A" stop-opacity="0.64"/><stop offset="0.66" stop-color="#C8A83A" stop-opacity="0.49"/><stop offset="0.74" stop-color="#C8A83A" stop-opacity="0.31"/><stop offset="0.83" stop-color="#C8A83A" stop-opacity="0.16"/><stop offset="0.91" stop-color="#C8A83A" stop-opacity="0.04"/><stop offset="1" stop-color="#C8A83A" stop-opacity="0"/></radialGradient>
<radialGradient id="r145"><stop offset="0" stop-color="#1D86C0" stop-opacity="0.8"/><stop offset="0.3" stop-color="#1D86C0" stop-opacity="0.8"/><stop offset="0.4" stop-color="#1D86C0" stop-opacity="0.76"/><stop offset="0.5" stop-color="#1D86C0" stop-opacity="0.64"/><stop offset="0.6" stop-color="#1D86C0" stop-opacity="0.49"/><stop offset="0.7" stop-color="#1D86C0" stop-opacity="0.31"/><stop offset="0.8" stop-color="#1D86C0" stop-opacity="0.16"/><stop offset="0.9" stop-color="#1D86C0" stop-opacity="0.04"/><stop offset="1" stop-color="#1D86C0" stop-opacity="0"/></radialGradient>
<filter id="f146" x="-20%" y="-20%" width="140%" height="140%"><feGaussianBlur stdDeviation="4.09"/></filter>
<clipPath id="c147"><path d="M808.15 543.36C808.53 538.44 809.05 531.84 811.62 526.37C814.2 520.9 818.7 514.95 823.59 510.54C828.48 506.13 834.85 502.66 840.97 499.92C847.08 497.19 853.84 495.58 860.27 494.13C866.71 492.68 872.5 491.4 879.58 491.24C886.65 491.07 895.34 491.88 902.74 493.17C910.14 494.45 917.54 496.06 923.98 498.96C930.41 501.85 936.53 506.04 941.35 510.54C946.18 515.05 949.78 520.68 952.93 525.98C956.09 531.29 958.66 537.25 960.27 542.39C961.88 547.54 962.78 551.56 962.59 556.87C962.39 562.18 961.36 568.46 959.11 574.25C956.86 580.04 953 586.47 949.07 591.62C945.15 596.77 940.71 601.27 935.56 605.14C930.41 609 924.3 612.37 918.19 614.79C912.07 617.2 905.32 619.13 898.88 619.61C892.45 620.1 886.01 618.97 879.58 617.68C873.14 616.4 866.71 614.63 860.27 611.89C853.84 609.16 846.76 605.3 840.97 601.27C835.17 597.25 829.86 592.91 825.52 587.76C821.18 582.61 817.61 575.69 814.9 570.39C812.2 565.08 810.43 560.41 809.31 555.91C808.18 551.4 807.76 548.28 808.15 543.36Z"/></clipPath>
<radialGradient id="r148"><stop offset="0" stop-color="#2C2878" stop-opacity="1"/><stop offset="0.5" stop-color="#2C2878" stop-opacity="1"/><stop offset="0.57" stop-color="#2C2878" stop-opacity="0.94"/><stop offset="0.64" stop-color="#2C2878" stop-opacity="0.8"/><stop offset="0.71" stop-color="#2C2878" stop-opacity="0.61"/><stop offset="0.79" stop-color="#2C2878" stop-opacity="0.39"/><stop offset="0.86" stop-color="#2C2878" stop-opacity="0.2"/><stop offset="0.93" stop-color="#2C2878" stop-opacity="0.06"/><stop offset="1" stop-color="#2C2878" stop-opacity="0"/></radialGradient>
<radialGradient id="r149"><stop offset="0" stop-color="#3A3594" stop-opacity="1"/><stop offset="0.4" stop-color="#3A3594" stop-opacity="1"/><stop offset="0.49" stop-color="#3A3594" stop-opacity="0.94"/><stop offset="0.57" stop-color="#3A3594" stop-opacity="0.8"/><stop offset="0.66" stop-color="#3A3594" stop-opacity="0.61"/><stop offset="0.74" stop-color="#3A3594" stop-opacity="0.39"/><stop offset="0.83" stop-color="#3A3594" stop-opacity="0.2"/><stop offset="0.91" stop-color="#3A3594" stop-opacity="0.06"/><stop offset="1" stop-color="#3A3594" stop-opacity="0"/></radialGradient>
<radialGradient id="r150"><stop offset="0" stop-color="#3B3797" stop-opacity="0.95"/><stop offset="0.4" stop-color="#3B3797" stop-opacity="0.95"/><stop offset="0.49" stop-color="#3B3797" stop-opacity="0.9"/><stop offset="0.57" stop-color="#3B3797" stop-opacity="0.76"/><stop offset="0.66" stop-color="#3B3797" stop-opacity="0.58"/><stop offset="0.74" stop-color="#3B3797" stop-opacity="0.37"/><stop offset="0.83" stop-color="#3B3797" stop-opacity="0.19"/><stop offset="0.91" stop-color="#3B3797" stop-opacity="0.05"/><stop offset="1" stop-color="#3B3797" stop-opacity="0"/></radialGradient>
<radialGradient id="r151"><stop offset="0" stop-color="#3B3797" stop-opacity="0.9"/><stop offset="0.4" stop-color="#3B3797" stop-opacity="0.9"/><stop offset="0.49" stop-color="#3B3797" stop-opacity="0.85"/><stop offset="0.57" stop-color="#3B3797" stop-opacity="0.72"/><stop offset="0.66" stop-color="#3B3797" stop-opacity="0.55"/><stop offset="0.74" stop-color="#3B3797" stop-opacity="0.35"/><stop offset="0.83" stop-color="#3B3797" stop-opacity="0.18"/><stop offset="0.91" stop-color="#3B3797" stop-opacity="0.05"/><stop offset="1" stop-color="#3B3797" stop-opacity="0"/></radialGradient>
<radialGradient id="r152"><stop offset="0" stop-color="#3FB59A" stop-opacity="0.95"/><stop offset="0.4" stop-color="#3FB59A" stop-opacity="0.95"/><stop offset="0.49" stop-color="#3FB59A" stop-opacity="0.9"/><stop offset="0.57" stop-color="#3FB59A" stop-opacity="0.76"/><stop offset="0.66" stop-color="#3FB59A" stop-opacity="0.58"/><stop offset="0.74" stop-color="#3FB59A" stop-opacity="0.37"/><stop offset="0.83" stop-color="#3FB59A" stop-opacity="0.19"/><stop offset="0.91" stop-color="#3FB59A" stop-opacity="0.05"/><stop offset="1" stop-color="#3FB59A" stop-opacity="0"/></radialGradient>
<radialGradient id="r153"><stop offset="0" stop-color="#E8B838" stop-opacity="0.95"/><stop offset="0.4" stop-color="#E8B838" stop-opacity="0.95"/><stop offset="0.49" stop-color="#E8B838" stop-opacity="0.9"/><stop offset="0.57" stop-color="#E8B838" stop-opacity="0.76"/><stop offset="0.66" stop-color="#E8B838" stop-opacity="0.58"/><stop offset="0.74" stop-color="#E8B838" stop-opacity="0.37"/><stop offset="0.83" stop-color="#E8B838" stop-opacity="0.19"/><stop offset="0.91" stop-color="#E8B838" stop-opacity="0.05"/><stop offset="1" stop-color="#E8B838" stop-opacity="0"/></radialGradient>
<radialGradient id="r154"><stop offset="0" stop-color="#E8E020" stop-opacity="1"/><stop offset="0.4" stop-color="#E8E020" stop-opacity="1"/><stop offset="0.49" stop-color="#E8E020" stop-opacity="0.94"/><stop offset="0.57" stop-color="#E8E020" stop-opacity="0.8"/><stop offset="0.66" stop-color="#E8E020" stop-opacity="0.61"/><stop offset="0.74" stop-color="#E8E020" stop-opacity="0.39"/><stop offset="0.83" stop-color="#E8E020" stop-opacity="0.2"/><stop offset="0.91" stop-color="#E8E020" stop-opacity="0.06"/><stop offset="1" stop-color="#E8E020" stop-opacity="0"/></radialGradient>
<radialGradient id="r155"><stop offset="0" stop-color="#8FDDF2" stop-opacity="0.9"/><stop offset="0.3" stop-color="#8FDDF2" stop-opacity="0.9"/><stop offset="0.4" stop-color="#8FDDF2" stop-opacity="0.85"/><stop offset="0.5" stop-color="#8FDDF2" stop-opacity="0.72"/><stop offset="0.6" stop-color="#8FDDF2" stop-opacity="0.55"/><stop offset="0.7" stop-color="#8FDDF2" stop-opacity="0.35"/><stop offset="0.8" stop-color="#8FDDF2" stop-opacity="0.18"/><stop offset="0.9" stop-color="#8FDDF2" stop-opacity="0.05"/><stop offset="1" stop-color="#8FDDF2" stop-opacity="0"/></radialGradient>
<radialGradient id="r156"><stop offset="0" stop-color="#D5F4FC" stop-opacity="0.75"/><stop offset="0.3" stop-color="#D5F4FC" stop-opacity="0.75"/><stop offset="0.4" stop-color="#D5F4FC" stop-opacity="0.71"/><stop offset="0.5" stop-color="#D5F4FC" stop-opacity="0.6"/><stop offset="0.6" stop-color="#D5F4FC" stop-opacity="0.45"/><stop offset="0.7" stop-color="#D5F4FC" stop-opacity="0.3"/><stop offset="0.8" stop-color="#D5F4FC" stop-opacity="0.15"/><stop offset="0.9" stop-color="#D5F4FC" stop-opacity="0.04"/><stop offset="1" stop-color="#D5F4FC" stop-opacity="0"/></radialGradient>
<radialGradient id="r157"><stop offset="0" stop-color="#2FB0A0" stop-opacity="0.9"/><stop offset="0.3" stop-color="#2FB0A0" stop-opacity="0.9"/><stop offset="0.4" stop-color="#2FB0A0" stop-opacity="0.85"/><stop offset="0.5" stop-color="#2FB0A0" stop-opacity="0.72"/><stop offset="0.6" stop-color="#2FB0A0" stop-opacity="0.55"/><stop offset="0.7" stop-color="#2FB0A0" stop-opacity="0.35"/><stop offset="0.8" stop-color="#2FB0A0" stop-opacity="0.18"/><stop offset="0.9" stop-color="#2FB0A0" stop-opacity="0.05"/><stop offset="1" stop-color="#2FB0A0" stop-opacity="0"/></radialGradient>
<radialGradient id="r158"><stop offset="0" stop-color="#E09A2E" stop-opacity="0.95"/><stop offset="0.4" stop-color="#E09A2E" stop-opacity="0.95"/><stop offset="0.49" stop-color="#E09A2E" stop-opacity="0.9"/><stop offset="0.57" stop-color="#E09A2E" stop-opacity="0.76"/><stop offset="0.66" stop-color="#E09A2E" stop-opacity="0.58"/><stop offset="0.74" stop-color="#E09A2E" stop-opacity="0.37"/><stop offset="0.83" stop-color="#E09A2E" stop-opacity="0.19"/><stop offset="0.91" stop-color="#E09A2E" stop-opacity="0.05"/><stop offset="1" stop-color="#E09A2E" stop-opacity="0"/></radialGradient>
<radialGradient id="r159"><stop offset="0" stop-color="#1F9DB8" stop-opacity="0.8"/><stop offset="0.3" stop-color="#1F9DB8" stop-opacity="0.8"/><stop offset="0.4" stop-color="#1F9DB8" stop-opacity="0.76"/><stop offset="0.5" stop-color="#1F9DB8" stop-opacity="0.64"/><stop offset="0.6" stop-color="#1F9DB8" stop-opacity="0.49"/><stop offset="0.7" stop-color="#1F9DB8" stop-opacity="0.31"/><stop offset="0.8" stop-color="#1F9DB8" stop-opacity="0.16"/><stop offset="0.9" stop-color="#1F9DB8" stop-opacity="0.04"/><stop offset="1" stop-color="#1F9DB8" stop-opacity="0"/></radialGradient>
<filter id="f160" x="-20%" y="-20%" width="140%" height="140%"><feGaussianBlur stdDeviation="4.09"/></filter>
<clipPath id="c161"><path d="M1020.62 565.64C1020.55 561.52 1021.36 556.37 1023.13 552.51C1024.9 548.65 1027.95 545.11 1031.24 542.47C1034.52 539.83 1038.31 537.97 1042.82 536.68C1047.32 535.39 1050.86 535.23 1058.26 534.75C1065.66 534.27 1075.96 533.94 1087.22 533.78C1098.48 533.62 1112.96 533.62 1125.83 533.78C1138.7 533.94 1151.57 534.91 1164.44 534.75C1177.31 534.59 1190.18 533.46 1203.05 532.82C1215.92 532.18 1228.79 531.21 1241.66 530.89C1254.53 530.57 1269.01 530.41 1280.27 530.89C1291.53 531.37 1301.83 532.18 1309.23 533.78C1316.63 535.39 1320.75 537.87 1324.67 540.54C1328.6 543.21 1331.43 546.59 1332.78 549.81C1334.13 553.02 1333.81 556.56 1332.78 559.85C1331.75 563.13 1329.56 566.6 1326.6 569.5C1323.64 572.39 1320.17 574.97 1315.02 577.22C1309.87 579.47 1304.72 581.4 1295.71 583.01C1286.71 584.62 1273.19 585.91 1260.97 586.87C1248.74 587.84 1235.23 588 1222.36 588.8C1209.49 589.61 1195.01 590.57 1183.75 591.7C1172.48 592.82 1164.44 594.43 1154.79 595.56C1145.14 596.69 1135.48 598.13 1125.83 598.46C1116.18 598.78 1106.53 598.13 1096.87 597.49C1087.22 596.85 1076.6 595.56 1067.92 594.59C1059.23 593.63 1050.86 593.31 1044.75 591.7C1038.64 590.09 1034.77 587.36 1031.24 584.94C1027.7 582.53 1025.28 580.44 1023.51 577.22C1021.74 574 1020.68 569.76 1020.62 565.64Z"/></clipPath>
<filter id="f162" x="-5%" y="-15%" width="110%" height="130%"><feGaussianBlur stdDeviation="0.8"/></filter>
<radialGradient id="r163"><stop offset="0" stop-color="#2E6CC0" stop-opacity="1"/><stop offset="0.4" stop-color="#2E6CC0" stop-opacity="1"/><stop offset="0.49" stop-color="#2E6CC0" stop-opacity="0.94"/><stop offset="0.57" stop-color="#2E6CC0" stop-opacity="0.8"/><stop offset="0.66" stop-color="#2E6CC0" stop-opacity="0.61"/><stop offset="0.74" stop-color="#2E6CC0" stop-opacity="0.39"/><stop offset="0.83" stop-color="#2E6CC0" stop-opacity="0.2"/><stop offset="0.91" stop-color="#2E6CC0" stop-opacity="0.06"/><stop offset="1" stop-color="#2E6CC0" stop-opacity="0"/></radialGradient>
<radialGradient id="r164"><stop offset="0" stop-color="#6FC0E8" stop-opacity="0.8"/><stop offset="0.3" stop-color="#6FC0E8" stop-opacity="0.8"/><stop offset="0.4" stop-color="#6FC0E8" stop-opacity="0.76"/><stop offset="0.5" stop-color="#6FC0E8" stop-opacity="0.64"/><stop offset="0.6" stop-color="#6FC0E8" stop-opacity="0.49"/><stop offset="0.7" stop-color="#6FC0E8" stop-opacity="0.31"/><stop offset="0.8" stop-color="#6FC0E8" stop-opacity="0.16"/><stop offset="0.9" stop-color="#6FC0E8" stop-opacity="0.04"/><stop offset="1" stop-color="#6FC0E8" stop-opacity="0"/></radialGradient>
<radialGradient id="r165"><stop offset="0" stop-color="#A99CDC" stop-opacity="0.65"/><stop offset="0.3" stop-color="#A99CDC" stop-opacity="0.65"/><stop offset="0.4" stop-color="#A99CDC" stop-opacity="0.61"/><stop offset="0.5" stop-color="#A99CDC" stop-opacity="0.52"/><stop offset="0.6" stop-color="#A99CDC" stop-opacity="0.39"/><stop offset="0.7" stop-color="#A99CDC" stop-opacity="0.26"/><stop offset="0.8" stop-color="#A99CDC" stop-opacity="0.13"/><stop offset="0.9" stop-color="#A99CDC" stop-opacity="0.04"/><stop offset="1" stop-color="#A99CDC" stop-opacity="0"/></radialGradient>
<radialGradient id="r166"><stop offset="0" stop-color="#2F9DD0" stop-opacity="0.65"/><stop offset="0.3" stop-color="#2F9DD0" stop-opacity="0.65"/><stop offset="0.4" stop-color="#2F9DD0" stop-opacity="0.61"/><stop offset="0.5" stop-color="#2F9DD0" stop-opacity="0.52"/><stop offset="0.6" stop-color="#2F9DD0" stop-opacity="0.39"/><stop offset="0.7" stop-color="#2F9DD0" stop-opacity="0.26"/><stop offset="0.8" stop-color="#2F9DD0" stop-opacity="0.13"/><stop offset="0.9" stop-color="#2F9DD0" stop-opacity="0.04"/><stop offset="1" stop-color="#2F9DD0" stop-opacity="0"/></radialGradient>
<radialGradient id="r167"><stop offset="0" stop-color="#A99CDC" stop-opacity="0.55"/><stop offset="0.3" stop-color="#A99CDC" stop-opacity="0.55"/><stop offset="0.4" stop-color="#A99CDC" stop-opacity="0.52"/><stop offset="0.5" stop-color="#A99CDC" stop-opacity="0.44"/><stop offset="0.6" stop-color="#A99CDC" stop-opacity="0.33"/><stop offset="0.7" stop-color="#A99CDC" stop-opacity="0.22"/><stop offset="0.8" stop-color="#A99CDC" stop-opacity="0.11"/><stop offset="0.9" stop-color="#A99CDC" stop-opacity="0.03"/><stop offset="1" stop-color="#A99CDC" stop-opacity="0"/></radialGradient>
<radialGradient id="r168"><stop offset="0" stop-color="#A99CDC" stop-opacity="0.5"/><stop offset="0.3" stop-color="#A99CDC" stop-opacity="0.5"/><stop offset="0.4" stop-color="#A99CDC" stop-opacity="0.47"/><stop offset="0.5" stop-color="#A99CDC" stop-opacity="0.4"/><stop offset="0.6" stop-color="#A99CDC" stop-opacity="0.3"/><stop offset="0.7" stop-color="#A99CDC" stop-opacity="0.2"/><stop offset="0.8" stop-color="#A99CDC" stop-opacity="0.1"/><stop offset="0.9" stop-color="#A99CDC" stop-opacity="0.03"/><stop offset="1" stop-color="#A99CDC" stop-opacity="0"/></radialGradient>
<radialGradient id="r169"><stop offset="0" stop-color="#2DB5A5" stop-opacity="0.85"/><stop offset="0.35" stop-color="#2DB5A5" stop-opacity="0.85"/><stop offset="0.44" stop-color="#2DB5A5" stop-opacity="0.8"/><stop offset="0.54" stop-color="#2DB5A5" stop-opacity="0.68"/><stop offset="0.63" stop-color="#2DB5A5" stop-opacity="0.52"/><stop offset="0.72" stop-color="#2DB5A5" stop-opacity="0.33"/><stop offset="0.81" stop-color="#2DB5A5" stop-opacity="0.17"/><stop offset="0.91" stop-color="#2DB5A5" stop-opacity="0.05"/><stop offset="1" stop-color="#2DB5A5" stop-opacity="0"/></radialGradient>
<radialGradient id="r170"><stop offset="0" stop-color="#F8D826" stop-opacity="1"/><stop offset="0.4" stop-color="#F8D826" stop-opacity="1"/><stop offset="0.49" stop-color="#F8D826" stop-opacity="0.94"/><stop offset="0.57" stop-color="#F8D826" stop-opacity="0.8"/><stop offset="0.66" stop-color="#F8D826" stop-opacity="0.61"/><stop offset="0.74" stop-color="#F8D826" stop-opacity="0.39"/><stop offset="0.83" stop-color="#F8D826" stop-opacity="0.2"/><stop offset="0.91" stop-color="#F8D826" stop-opacity="0.06"/><stop offset="1" stop-color="#F8D826" stop-opacity="0"/></radialGradient>
<radialGradient id="r171"><stop offset="0" stop-color="#F0C030" stop-opacity="0.95"/><stop offset="0.35" stop-color="#F0C030" stop-opacity="0.95"/><stop offset="0.44" stop-color="#F0C030" stop-opacity="0.9"/><stop offset="0.54" stop-color="#F0C030" stop-opacity="0.76"/><stop offset="0.63" stop-color="#F0C030" stop-opacity="0.58"/><stop offset="0.72" stop-color="#F0C030" stop-opacity="0.37"/><stop offset="0.81" stop-color="#F0C030" stop-opacity="0.19"/><stop offset="0.91" stop-color="#F0C030" stop-opacity="0.05"/><stop offset="1" stop-color="#F0C030" stop-opacity="0"/></radialGradient>
<radialGradient id="r172"><stop offset="0" stop-color="#F6D22A" stop-opacity="1"/><stop offset="0.4" stop-color="#F6D22A" stop-opacity="1"/><stop offset="0.49" stop-color="#F6D22A" stop-opacity="0.94"/><stop offset="0.57" stop-color="#F6D22A" stop-opacity="0.8"/><stop offset="0.66" stop-color="#F6D22A" stop-opacity="0.61"/><stop offset="0.74" stop-color="#F6D22A" stop-opacity="0.39"/><stop offset="0.83" stop-color="#F6D22A" stop-opacity="0.2"/><stop offset="0.91" stop-color="#F6D22A" stop-opacity="0.06"/><stop offset="1" stop-color="#F6D22A" stop-opacity="0"/></radialGradient>
<radialGradient id="r173"><stop offset="0" stop-color="#C0B040" stop-opacity="0.9"/><stop offset="0.25" stop-color="#C0B040" stop-opacity="0.9"/><stop offset="0.36" stop-color="#C0B040" stop-opacity="0.85"/><stop offset="0.46" stop-color="#C0B040" stop-opacity="0.72"/><stop offset="0.57" stop-color="#C0B040" stop-opacity="0.55"/><stop offset="0.68" stop-color="#C0B040" stop-opacity="0.35"/><stop offset="0.79" stop-color="#C0B040" stop-opacity="0.18"/><stop offset="0.89" stop-color="#C0B040" stop-opacity="0.05"/><stop offset="1" stop-color="#C0B040" stop-opacity="0"/></radialGradient>
<radialGradient id="r174"><stop offset="0" stop-color="#C8B040" stop-opacity="0.9"/><stop offset="0.35" stop-color="#C8B040" stop-opacity="0.9"/><stop offset="0.44" stop-color="#C8B040" stop-opacity="0.85"/><stop offset="0.54" stop-color="#C8B040" stop-opacity="0.72"/><stop offset="0.63" stop-color="#C8B040" stop-opacity="0.55"/><stop offset="0.72" stop-color="#C8B040" stop-opacity="0.35"/><stop offset="0.81" stop-color="#C8B040" stop-opacity="0.18"/><stop offset="0.91" stop-color="#C8B040" stop-opacity="0.05"/><stop offset="1" stop-color="#C8B040" stop-opacity="0"/></radialGradient>
<radialGradient id="r175"><stop offset="0" stop-color="#E8B030" stop-opacity="0.9"/><stop offset="0.4" stop-color="#E8B030" stop-opacity="0.9"/><stop offset="0.49" stop-color="#E8B030" stop-opacity="0.85"/><stop offset="0.57" stop-color="#E8B030" stop-opacity="0.72"/><stop offset="0.66" stop-color="#E8B030" stop-opacity="0.55"/><stop offset="0.74" stop-color="#E8B030" stop-opacity="0.35"/><stop offset="0.83" stop-color="#E8B030" stop-opacity="0.18"/><stop offset="0.91" stop-color="#E8B030" stop-opacity="0.05"/><stop offset="1" stop-color="#E8B030" stop-opacity="0"/></radialGradient>
<radialGradient id="r176"><stop offset="0" stop-color="#2F80D0" stop-opacity="0.8"/><stop offset="0.3" stop-color="#2F80D0" stop-opacity="0.8"/><stop offset="0.4" stop-color="#2F80D0" stop-opacity="0.76"/><stop offset="0.5" stop-color="#2F80D0" stop-opacity="0.64"/><stop offset="0.6" stop-color="#2F80D0" stop-opacity="0.49"/><stop offset="0.7" stop-color="#2F80D0" stop-opacity="0.31"/><stop offset="0.8" stop-color="#2F80D0" stop-opacity="0.16"/><stop offset="0.9" stop-color="#2F80D0" stop-opacity="0.04"/><stop offset="1" stop-color="#2F80D0" stop-opacity="0"/></radialGradient>
<filter id="f177" x="-20%" y="-20%" width="140%" height="140%"><feGaussianBlur stdDeviation="2.73"/></filter>
<clipPath id="c178"><path d="M1364.83 559.85C1364.12 556.15 1365.73 552.28 1367.34 549.23C1368.94 546.17 1370.88 543.66 1374.48 541.51C1378.08 539.35 1381.72 537.74 1388.96 536.29C1396.2 534.85 1406.65 533.88 1417.92 532.82C1429.18 531.76 1443.66 530.73 1456.53 529.92C1469.4 529.12 1482.27 528.64 1495.14 527.99C1508.01 527.35 1520.88 526.71 1533.75 526.06C1546.62 525.42 1559.49 524.68 1572.36 524.13C1585.23 523.58 1598.1 522.94 1610.97 522.78C1623.84 522.62 1638.31 522.78 1649.58 523.17C1660.84 523.55 1669.52 523.81 1678.53 525.1C1687.54 526.38 1697.19 528.64 1703.63 530.89C1710.06 533.14 1713.76 535.39 1717.14 538.61C1720.52 541.83 1722.77 546.33 1723.9 550.19C1725.03 554.05 1724.7 557.92 1723.9 561.78C1723.1 565.64 1721.81 569.82 1719.07 573.36C1716.34 576.9 1712.64 580.44 1707.49 583.01C1702.34 585.59 1696.23 588 1688.19 588.8C1680.14 589.61 1668.88 588.32 1659.23 587.84C1649.58 587.36 1641.53 586.39 1630.27 585.91C1619.01 585.42 1604.53 584.94 1591.66 584.94C1578.79 584.94 1565.92 585.26 1553.05 585.91C1540.18 586.55 1527.31 588 1514.44 588.8C1501.57 589.61 1488.7 590.25 1475.83 590.73C1462.96 591.22 1448.48 592.02 1437.22 591.7C1425.96 591.38 1416.95 590.57 1408.26 588.8C1399.58 587.03 1391.21 583.98 1385.1 581.08C1378.98 578.19 1374.96 574.97 1371.58 571.43C1368.2 567.89 1365.53 563.55 1364.83 559.85Z"/></clipPath>
<filter id="f179" x="-5%" y="-15%" width="110%" height="130%"><feGaussianBlur stdDeviation="0.8"/></filter>
<radialGradient id="r180"><stop offset="0" stop-color="#2E2A80" stop-opacity="1"/><stop offset="0.4" stop-color="#2E2A80" stop-opacity="1"/><stop offset="0.49" stop-color="#2E2A80" stop-opacity="0.94"/><stop offset="0.57" stop-color="#2E2A80" stop-opacity="0.8"/><stop offset="0.66" stop-color="#2E2A80" stop-opacity="0.61"/><stop offset="0.74" stop-color="#2E2A80" stop-opacity="0.39"/><stop offset="0.83" stop-color="#2E2A80" stop-opacity="0.2"/><stop offset="0.91" stop-color="#2E2A80" stop-opacity="0.06"/><stop offset="1" stop-color="#2E2A80" stop-opacity="0"/></radialGradient>
<radialGradient id="r181"><stop offset="0" stop-color="#8FA0DC" stop-opacity="0.5"/><stop offset="0.3" stop-color="#8FA0DC" stop-opacity="0.5"/><stop offset="0.4" stop-color="#8FA0DC" stop-opacity="0.47"/><stop offset="0.5" stop-color="#8FA0DC" stop-opacity="0.4"/><stop offset="0.6" stop-color="#8FA0DC" stop-opacity="0.3"/><stop offset="0.7" stop-color="#8FA0DC" stop-opacity="0.2"/><stop offset="0.8" stop-color="#8FA0DC" stop-opacity="0.1"/><stop offset="0.9" stop-color="#8FA0DC" stop-opacity="0.03"/><stop offset="1" stop-color="#8FA0DC" stop-opacity="0"/></radialGradient>
<radialGradient id="r182"><stop offset="0" stop-color="#2A78C0" stop-opacity="0.7"/><stop offset="0.3" stop-color="#2A78C0" stop-opacity="0.7"/><stop offset="0.4" stop-color="#2A78C0" stop-opacity="0.66"/><stop offset="0.5" stop-color="#2A78C0" stop-opacity="0.56"/><stop offset="0.6" stop-color="#2A78C0" stop-opacity="0.42"/><stop offset="0.7" stop-color="#2A78C0" stop-opacity="0.28"/><stop offset="0.8" stop-color="#2A78C0" stop-opacity="0.14"/><stop offset="0.9" stop-color="#2A78C0" stop-opacity="0.04"/><stop offset="1" stop-color="#2A78C0" stop-opacity="0"/></radialGradient>
<radialGradient id="r183"><stop offset="0" stop-color="#1F98C0" stop-opacity="0.7"/><stop offset="0.3" stop-color="#1F98C0" stop-opacity="0.7"/><stop offset="0.4" stop-color="#1F98C0" stop-opacity="0.66"/><stop offset="0.5" stop-color="#1F98C0" stop-opacity="0.56"/><stop offset="0.6" stop-color="#1F98C0" stop-opacity="0.42"/><stop offset="0.7" stop-color="#1F98C0" stop-opacity="0.28"/><stop offset="0.8" stop-color="#1F98C0" stop-opacity="0.14"/><stop offset="0.9" stop-color="#1F98C0" stop-opacity="0.04"/><stop offset="1" stop-color="#1F98C0" stop-opacity="0"/></radialGradient>
<radialGradient id="r184"><stop offset="0" stop-color="#30B0D0" stop-opacity="0.8"/><stop offset="0.3" stop-color="#30B0D0" stop-opacity="0.8"/><stop offset="0.4" stop-color="#30B0D0" stop-opacity="0.76"/><stop offset="0.5" stop-color="#30B0D0" stop-opacity="0.64"/><stop offset="0.6" stop-color="#30B0D0" stop-opacity="0.49"/><stop offset="0.7" stop-color="#30B0D0" stop-opacity="0.31"/><stop offset="0.8" stop-color="#30B0D0" stop-opacity="0.16"/><stop offset="0.9" stop-color="#30B0D0" stop-opacity="0.04"/><stop offset="1" stop-color="#30B0D0" stop-opacity="0"/></radialGradient>
<radialGradient id="r185"><stop offset="0" stop-color="#2DA890" stop-opacity="0.9"/><stop offset="0.3" stop-color="#2DA890" stop-opacity="0.9"/><stop offset="0.4" stop-color="#2DA890" stop-opacity="0.85"/><stop offset="0.5" stop-color="#2DA890" stop-opacity="0.72"/><stop offset="0.6" stop-color="#2DA890" stop-opacity="0.55"/><stop offset="0.7" stop-color="#2DA890" stop-opacity="0.35"/><stop offset="0.8" stop-color="#2DA890" stop-opacity="0.18"/><stop offset="0.9" stop-color="#2DA890" stop-opacity="0.05"/><stop offset="1" stop-color="#2DA890" stop-opacity="0"/></radialGradient>
<radialGradient id="r186"><stop offset="0" stop-color="#3DB090" stop-opacity="0.95"/><stop offset="0.4" stop-color="#3DB090" stop-opacity="0.95"/><stop offset="0.49" stop-color="#3DB090" stop-opacity="0.9"/><stop offset="0.57" stop-color="#3DB090" stop-opacity="0.76"/><stop offset="0.66" stop-color="#3DB090" stop-opacity="0.58"/><stop offset="0.74" stop-color="#3DB090" stop-opacity="0.37"/><stop offset="0.83" stop-color="#3DB090" stop-opacity="0.19"/><stop offset="0.91" stop-color="#3DB090" stop-opacity="0.05"/><stop offset="1" stop-color="#3DB090" stop-opacity="0"/></radialGradient>
<radialGradient id="r187"><stop offset="0" stop-color="#D8C030" stop-opacity="0.95"/><stop offset="0.4" stop-color="#D8C030" stop-opacity="0.95"/><stop offset="0.49" stop-color="#D8C030" stop-opacity="0.9"/><stop offset="0.57" stop-color="#D8C030" stop-opacity="0.76"/><stop offset="0.66" stop-color="#D8C030" stop-opacity="0.58"/><stop offset="0.74" stop-color="#D8C030" stop-opacity="0.37"/><stop offset="0.83" stop-color="#D8C030" stop-opacity="0.19"/><stop offset="0.91" stop-color="#D8C030" stop-opacity="0.05"/><stop offset="1" stop-color="#D8C030" stop-opacity="0"/></radialGradient>
<radialGradient id="r188"><stop offset="0" stop-color="#E0A030" stop-opacity="0.95"/><stop offset="0.4" stop-color="#E0A030" stop-opacity="0.95"/><stop offset="0.49" stop-color="#E0A030" stop-opacity="0.9"/><stop offset="0.57" stop-color="#E0A030" stop-opacity="0.76"/><stop offset="0.66" stop-color="#E0A030" stop-opacity="0.58"/><stop offset="0.74" stop-color="#E0A030" stop-opacity="0.37"/><stop offset="0.83" stop-color="#E0A030" stop-opacity="0.19"/><stop offset="0.91" stop-color="#E0A030" stop-opacity="0.05"/><stop offset="1" stop-color="#E0A030" stop-opacity="0"/></radialGradient>
<radialGradient id="r189"><stop offset="0" stop-color="#EEDC22" stop-opacity="1"/><stop offset="0.45" stop-color="#EEDC22" stop-opacity="1"/><stop offset="0.53" stop-color="#EEDC22" stop-opacity="0.94"/><stop offset="0.61" stop-color="#EEDC22" stop-opacity="0.8"/><stop offset="0.69" stop-color="#EEDC22" stop-opacity="0.61"/><stop offset="0.76" stop-color="#EEDC22" stop-opacity="0.39"/><stop offset="0.84" stop-color="#EEDC22" stop-opacity="0.2"/><stop offset="0.92" stop-color="#EEDC22" stop-opacity="0.06"/><stop offset="1" stop-color="#EEDC22" stop-opacity="0"/></radialGradient>
<radialGradient id="r190"><stop offset="0" stop-color="#E8A030" stop-opacity="0.95"/><stop offset="0.45" stop-color="#E8A030" stop-opacity="0.95"/><stop offset="0.53" stop-color="#E8A030" stop-opacity="0.9"/><stop offset="0.61" stop-color="#E8A030" stop-opacity="0.76"/><stop offset="0.69" stop-color="#E8A030" stop-opacity="0.58"/><stop offset="0.76" stop-color="#E8A030" stop-opacity="0.37"/><stop offset="0.84" stop-color="#E8A030" stop-opacity="0.19"/><stop offset="0.92" stop-color="#E8A030" stop-opacity="0.05"/><stop offset="1" stop-color="#E8A030" stop-opacity="0"/></radialGradient>
<radialGradient id="r191"><stop offset="0" stop-color="#3DB090" stop-opacity="0.9"/><stop offset="0.4" stop-color="#3DB090" stop-opacity="0.9"/><stop offset="0.49" stop-color="#3DB090" stop-opacity="0.85"/><stop offset="0.57" stop-color="#3DB090" stop-opacity="0.72"/><stop offset="0.66" stop-color="#3DB090" stop-opacity="0.55"/><stop offset="0.74" stop-color="#3DB090" stop-opacity="0.35"/><stop offset="0.83" stop-color="#3DB090" stop-opacity="0.18"/><stop offset="0.91" stop-color="#3DB090" stop-opacity="0.05"/><stop offset="1" stop-color="#3DB090" stop-opacity="0"/></radialGradient>
<radialGradient id="r192"><stop offset="0" stop-color="#E09A30" stop-opacity="0.95"/><stop offset="0.45" stop-color="#E09A30" stop-opacity="0.95"/><stop offset="0.53" stop-color="#E09A30" stop-opacity="0.9"/><stop offset="0.61" stop-color="#E09A30" stop-opacity="0.76"/><stop offset="0.69" stop-color="#E09A30" stop-opacity="0.58"/><stop offset="0.76" stop-color="#E09A30" stop-opacity="0.37"/><stop offset="0.84" stop-color="#E09A30" stop-opacity="0.19"/><stop offset="0.92" stop-color="#E09A30" stop-opacity="0.05"/><stop offset="1" stop-color="#E09A30" stop-opacity="0"/></radialGradient>
<radialGradient id="r193"><stop offset="0" stop-color="#2DA8A0" stop-opacity="0.8"/><stop offset="0.3" stop-color="#2DA8A0" stop-opacity="0.8"/><stop offset="0.4" stop-color="#2DA8A0" stop-opacity="0.76"/><stop offset="0.5" stop-color="#2DA8A0" stop-opacity="0.64"/><stop offset="0.6" stop-color="#2DA8A0" stop-opacity="0.49"/><stop offset="0.7" stop-color="#2DA8A0" stop-opacity="0.31"/><stop offset="0.8" stop-color="#2DA8A0" stop-opacity="0.16"/><stop offset="0.9" stop-color="#2DA8A0" stop-opacity="0.04"/><stop offset="1" stop-color="#2DA8A0" stop-opacity="0"/></radialGradient>
<radialGradient id="r194"><stop offset="0" stop-color="#332F90" stop-opacity="0.8"/><stop offset="0.3" stop-color="#332F90" stop-opacity="0.8"/><stop offset="0.4" stop-color="#332F90" stop-opacity="0.76"/><stop offset="0.5" stop-color="#332F90" stop-opacity="0.64"/><stop offset="0.6" stop-color="#332F90" stop-opacity="0.49"/><stop offset="0.7" stop-color="#332F90" stop-opacity="0.31"/><stop offset="0.8" stop-color="#332F90" stop-opacity="0.16"/><stop offset="0.9" stop-color="#332F90" stop-opacity="0.04"/><stop offset="1" stop-color="#332F90" stop-opacity="0"/></radialGradient>
<radialGradient id="r195"><stop offset="0" stop-color="#332F90" stop-opacity="0.7"/><stop offset="0.3" stop-color="#332F90" stop-opacity="0.7"/><stop offset="0.4" stop-color="#332F90" stop-opacity="0.66"/><stop offset="0.5" stop-color="#332F90" stop-opacity="0.56"/><stop offset="0.6" stop-color="#332F90" stop-opacity="0.42"/><stop offset="0.7" stop-color="#332F90" stop-opacity="0.28"/><stop offset="0.8" stop-color="#332F90" stop-opacity="0.14"/><stop offset="0.9" stop-color="#332F90" stop-opacity="0.04"/><stop offset="1" stop-color="#332F90" stop-opacity="0"/></radialGradient>
<filter id="f196" x="-20%" y="-20%" width="140%" height="140%"><feGaussianBlur stdDeviation="2.73"/></filter>
<linearGradient id="cb197" x1="0" y1="0" x2="0" y2="1"><stop offset="0" stop-color="#7A1022"/><stop offset="0.12" stop-color="#B2182B"/><stop offset="0.25" stop-color="#D6604D"/><stop offset="0.37" stop-color="#F4A582"/><stop offset="0.45" stop-color="#FDDBC7"/><stop offset="0.52" stop-color="#F7F7F7"/><stop offset="0.62" stop-color="#D1E5F0"/><stop offset="0.72" stop-color="#92C5DE"/><stop offset="0.82" stop-color="#4393C3"/><stop offset="0.92" stop-color="#2166AC"/><stop offset="1" stop-color="#1F4E96"/></linearGradient>
<linearGradient id="cb198" x1="0" y1="0" x2="0" y2="1"><stop offset="0" stop-color="#EEE824"/><stop offset="0.08" stop-color="#F5DC2A"/><stop offset="0.18" stop-color="#FDBB3C"/><stop offset="0.28" stop-color="#D3BA58"/><stop offset="0.40" stop-color="#7CBF7B"/><stop offset="0.52" stop-color="#1FB3A3"/><stop offset="0.63" stop-color="#06A7C6"/><stop offset="0.74" stop-color="#2F8FCB"/><stop offset="0.86" stop-color="#3A6DB5"/><stop offset="1" stop-color="#43409B"/></linearGradient>
</defs>
<text x="48" y="22.6" font-size="43" fill="#000" font-weight="bold">a</text>
<rect x="230" y="51" width="389" height="100.5" fill="#7F3F98"/>
<rect x="619" y="51" width="140" height="100.5" fill="#2E469C"/>
<rect x="760.5" y="52.5" width="134.5" height="97.5" fill="#000" stroke="#231F20" stroke-width="3"/>
<rect x="893.9" y="51" width="1001.1" height="100.5" fill="#00A14B"/>
<rect x="230.25" y="30.5" width="3.5" height="22.4" fill="#231F20"/>
<rect x="759.25" y="30.5" width="3.5" height="22.4" fill="#231F20"/>
<rect x="914.25" y="30.5" width="3.5" height="22.4" fill="#231F20"/>
<rect x="979.25" y="30.5" width="3.5" height="22.4" fill="#231F20"/>
<rect x="514.25" y="150" width="3.5" height="22" fill="#231F20"/>
<rect x="553.25" y="150" width="3.5" height="22" fill="#231F20"/>
<rect x="618.25" y="150" width="3.5" height="22" fill="#231F20"/>
<rect x="1891.25" y="150" width="3.5" height="22" fill="#231F20"/>
<text x="226" y="24" font-size="25" fill="#000" text-anchor="middle">1</text>
<text x="756" y="18.4" font-size="25" fill="#F7941D" text-anchor="middle">111</text>
<text x="914.3" y="18.4" font-size="25" fill="#92278F" text-anchor="middle">142</text>
<text x="980.3" y="18.4" font-size="25" fill="#7F3F98" text-anchor="middle">155</text>
<text x="511" y="203" font-size="25" fill="#00A14B" text-anchor="middle">59</text>
<text x="554" y="203" font-size="25" fill="#F26522" text-anchor="middle">70</text>
<text x="619.5" y="203" font-size="25" fill="#754C29" text-anchor="middle">83</text>
<text x="1882" y="207.5" font-size="25" fill="#000" text-anchor="middle">337</text>
<text x="150" y="107.5" font-size="25" fill="#000">RodZ</text>
<text x="426" y="109" font-size="25" fill="#fff" text-anchor="middle" font-weight="bold">HTH</text>
<text x="828" y="109" font-size="25" fill="#fff" text-anchor="middle" font-weight="bold">TM</text>
<text x="690.5" y="82" font-size="27" fill="#fff" text-anchor="middle" font-weight="bold">+</text>
<text x="690.5" y="112" font-size="27" fill="#fff" text-anchor="middle" font-weight="bold">+</text>
<text x="690.5" y="141" font-size="27" fill="#fff" text-anchor="middle" font-weight="bold">+</text>
<g clip-path="url(#c1)"><rect x="49.36" y="319.39" width="242.37" height="76.19" fill="#FDF2EC"/><ellipse cx="213.8" cy="357.49" rx="93.05" ry="58.16" fill="url(#r2)"/><ellipse cx="207.11" cy="397.59" rx="100.8" ry="19.39" fill="url(#r3)"/><ellipse cx="144.28" cy="353.48" rx="48.46" ry="36.83" fill="url(#r4)"/><ellipse cx="122.89" cy="327.41" rx="25.2" ry="6.98" fill="url(#r5)"/><ellipse cx="106.84" cy="351.47" rx="11.63" ry="9.69" fill="url(#r6)"/><ellipse cx="90.8" cy="366.84" rx="17.45" ry="7.75" fill="url(#r7)"/><ellipse cx="102.83" cy="379.81" rx="13.57" ry="3.88" fill="url(#r8)"/><ellipse cx="128.24" cy="385.56" rx="7.75" ry="3.88" fill="url(#r9)"/><ellipse cx="48.02" cy="345.45" rx="60.09" ry="69.79" fill="url(#r10)"/><ellipse cx="46.68" cy="345.45" rx="43.62" ry="63.97" fill="url(#r11)"/><ellipse cx="45.35" cy="345.45" rx="32.95" ry="60.09" fill="url(#r12)"/><ellipse cx="109.52" cy="338.1" rx="4.68" ry="4.68" fill="url(#r13)"/><ellipse cx="84.12" cy="339.44" rx="8.02" ry="8.02" fill="url(#r14)"/><ellipse cx="96.15" cy="344.12" rx="6.68" ry="6.68" fill="url(#r15)"/><ellipse cx="302.03" cy="353.48" rx="65.91" ry="63.97" fill="url(#r10)"/><ellipse cx="304.04" cy="353.48" rx="41.68" ry="58.16" fill="url(#r16)"/><ellipse cx="305.37" cy="354.81" rx="27.53" ry="52.34" fill="url(#r17)"/><ellipse cx="245.88" cy="334.76" rx="7.35" ry="7.35" fill="url(#r18)"/><ellipse cx="249.89" cy="374.87" rx="7.35" ry="7.35" fill="url(#r19)"/><ellipse cx="275.29" cy="357.49" rx="5.35" ry="5.35" fill="url(#r20)"/><ellipse cx="173.69" cy="328.07" rx="4.01" ry="4.01" fill="url(#r21)"/><path d="M51.36 346.79C51.32 343.11 51.88 338.77 53.1 335.43C54.33 332.09 56.44 328.9 58.72 326.74C60.99 324.58 63.62 323.35 66.74 322.46C69.86 321.57 73.42 321.23 77.43 321.39C81.44 321.55 86.35 322.62 90.8 323.4C95.26 324.18 99.27 325.25 104.17 326.07C109.07 326.89 114.2 327.96 120.21 328.34C126.23 328.72 133.58 328.65 140.27 328.34C146.95 328.03 152.52 327.14 160.32 326.47C168.12 325.8 178.15 324.96 187.06 324.33C195.97 323.71 204.88 323.22 213.8 322.73C222.71 322.24 233.85 321.43 240.53 321.39C247.22 321.35 249.45 321.61 253.9 322.46C258.36 323.31 263.26 324.69 267.27 326.47C271.28 328.25 274.96 330.55 277.97 333.16C280.98 335.76 283.4 339.17 285.32 342.11C287.24 345.05 288.73 348.24 289.47 350.8C290.2 353.36 290.09 355.04 289.73 357.49C289.38 359.94 288.62 362.95 287.33 365.51C286.03 368.07 284.21 370.63 281.98 372.86C279.75 375.09 277.52 377.09 273.96 378.88C270.39 380.66 266.16 382 260.59 383.56C255.02 385.12 248.33 386.79 240.53 388.24C232.74 389.68 222.71 391.35 213.8 392.25C204.88 393.14 195.97 393.36 187.06 393.58C178.15 393.81 167.01 393.69 160.32 393.58C153.64 393.47 151.41 393.69 146.95 392.91C142.5 392.13 138.04 390.57 133.58 388.9C129.13 387.23 124.67 384.56 120.21 382.89C115.76 381.22 111.3 380.1 106.84 378.88C102.39 377.65 97.93 376.54 93.48 375.53C89.02 374.53 84.56 373.86 80.11 372.86C75.65 371.86 70.3 370.97 66.74 369.52C63.17 368.07 60.94 366.18 58.72 364.17C56.49 362.17 54.59 360.38 53.37 357.49C52.14 354.59 51.41 350.47 51.36 346.79Z" fill="none" stroke="#E9B9A3" stroke-width="5" stroke-opacity="0.55" filter="url(#f22)"/></g>
<g clip-path="url(#c23)"><rect x="304.71" y="322.73" width="247.32" height="70.18" fill="#FCF5F1"/><ellipse cx="417.01" cy="330.75" rx="40.71" ry="13.57" fill="url(#r24)"/><ellipse cx="376.9" cy="386.9" rx="32.95" ry="9.69" fill="url(#r25)"/><ellipse cx="490.53" cy="385.56" rx="32.95" ry="7.75" fill="url(#r26)"/><ellipse cx="430.37" cy="374.87" rx="36.83" ry="13.57" fill="url(#r27)"/><ellipse cx="438.4" cy="377.54" rx="8.72" ry="5.82" fill="url(#r28)"/><ellipse cx="423.69" cy="383.56" rx="25.2" ry="4.26" fill="url(#r29)"/><ellipse cx="461.12" cy="337.43" rx="24.23" ry="10.66" fill="url(#r30)"/><ellipse cx="372.89" cy="333.42" rx="20.35" ry="8.14" fill="url(#r30)"/><ellipse cx="375.56" cy="357.49" rx="40.71" ry="27.14" fill="url(#r4)"/><ellipse cx="298.02" cy="357.49" rx="56.22" ry="63.97" fill="url(#r10)"/><ellipse cx="296.68" cy="357.49" rx="34.89" ry="60.09" fill="url(#r31)"/><ellipse cx="295.35" cy="357.49" rx="18.42" ry="54.28" fill="url(#r32)"/><ellipse cx="557.38" cy="357.49" rx="79.48" ry="63.97" fill="url(#r33)"/><ellipse cx="560.05" cy="356.15" rx="34.89" ry="60.09" fill="url(#r34)"/><ellipse cx="558.72" cy="352.14" rx="16.48" ry="46.52" fill="url(#r17)"/><ellipse cx="331.71" cy="343.05" rx="7.35" ry="7.35" fill="url(#r14)"/><ellipse cx="341.47" cy="357.49" rx="8.02" ry="8.02" fill="url(#r14)"/><ellipse cx="338.4" cy="377.54" rx="6.68" ry="6.68" fill="url(#r35)"/><ellipse cx="355.51" cy="384.22" rx="4.81" ry="4.81" fill="url(#r36)"/><ellipse cx="525.96" cy="340.78" rx="7.75" ry="7.75" fill="url(#r37)"/><ellipse cx="526.36" cy="341.18" rx="2.67" ry="2.67" fill="url(#r38)"/><ellipse cx="534.65" cy="357.49" rx="6.42" ry="6.42" fill="url(#r39)"/><ellipse cx="523.29" cy="375.13" rx="6.68" ry="6.68" fill="url(#r39)"/><ellipse cx="506.58" cy="340.11" rx="6.15" ry="6.15" fill="url(#r40)"/><path d="M306.71 356.15C306.67 352.47 307.22 348.35 308.45 344.79C309.67 341.22 311.79 337.43 314.06 334.76C316.34 332.09 318.97 330.08 322.09 328.74C325.2 327.41 328.1 326.85 332.78 326.74C337.46 326.63 343.92 327.81 350.16 328.07C356.4 328.34 363.53 328.57 370.21 328.34C376.9 328.12 383.58 327.12 390.27 326.74C396.95 326.36 403.64 326.11 410.32 326.07C417.01 326.02 423.69 326.18 430.37 326.47C437.06 326.76 443.74 327.5 450.43 327.81C457.11 328.12 464.91 328.52 470.48 328.34C476.05 328.16 479.39 327.34 483.85 326.74C488.31 326.14 492.76 325.07 497.22 324.73C501.68 324.4 506.13 324.29 510.59 324.73C515.04 325.18 519.95 325.96 523.96 327.41C527.97 328.85 531.42 330.9 534.65 333.42C537.88 335.94 541 339.28 543.34 342.51C545.68 345.74 547.58 349.87 548.69 352.81C549.8 355.75 550.03 357.49 550.03 360.16C550.03 362.83 549.58 366.18 548.69 368.85C547.8 371.52 546.35 374.04 544.68 376.2C543.01 378.36 541 380.21 538.66 381.82C536.32 383.42 534.21 384.65 530.64 385.83C527.08 387.01 522.84 388.32 517.27 388.9C511.7 389.48 503.9 389.53 497.22 389.3C490.53 389.08 483.85 388.19 477.17 387.57C470.48 386.94 462.68 386.23 457.11 385.56C451.54 384.89 448.2 384.18 443.74 383.56C439.29 382.93 434.83 381.93 430.37 381.82C425.92 381.71 421.46 382.15 417.01 382.89C412.55 383.62 408.09 385.16 403.64 386.23C399.18 387.3 395.84 388.52 390.27 389.3C384.7 390.08 376.9 390.82 370.21 390.91C363.53 391 355.73 390.29 350.16 389.84C344.59 389.39 341.25 389.39 336.79 388.24C332.34 387.08 327.21 385.12 323.42 382.89C319.63 380.66 316.52 377.54 314.06 374.87C311.61 372.19 309.94 369.96 308.72 366.84C307.49 363.73 306.76 359.83 306.71 356.15Z" fill="none" stroke="#E9B9A3" stroke-width="5" stroke-opacity="0.55" filter="url(#f41)"/></g>
<g clip-path="url(#c42)"><rect x="607.31" y="274.41" width="185.47" height="134.31" fill="#E88E74"/><ellipse cx="694.25" cy="337.22" rx="100.77" ry="83.98" fill="url(#r43)"/><ellipse cx="690.39" cy="327.57" rx="75.58" ry="60.18" fill="url(#r44)"/><ellipse cx="709.69" cy="298.61" rx="55.98" ry="27.99" fill="url(#r45)"/><ellipse cx="676.87" cy="341.08" rx="39.19" ry="26.59" fill="url(#r46)"/><ellipse cx="800.42" cy="337.22" rx="25.19" ry="78.38" fill="url(#r47)"/><ellipse cx="601.58" cy="344.94" rx="26.59" ry="83.98" fill="url(#r48)"/><ellipse cx="698.11" cy="416.37" rx="117.57" ry="22.39" fill="url(#r49)"/><ellipse cx="649.85" cy="358.46" rx="8.49" ry="8.49" fill="url(#r50)"/><ellipse cx="647.92" cy="315.98" rx="6.95" ry="6.95" fill="url(#r51)"/><ellipse cx="771.47" cy="315.98" rx="8.88" ry="8.88" fill="url(#r52)"/><ellipse cx="754.09" cy="323.71" rx="7.34" ry="7.34" fill="url(#r53)"/><ellipse cx="773.4" cy="373.9" rx="7.34" ry="7.34" fill="url(#r54)"/><path d="M609.31 343.01C609.05 336.74 610.01 330.46 611.62 324.67C613.23 318.88 615.16 313.89 618.96 308.26C622.75 302.63 628.61 295.55 634.4 290.89C640.19 286.22 646.63 282.68 653.71 280.27C660.79 277.86 668.19 276.83 676.87 276.41C685.56 275.99 696.18 276.8 705.83 277.76C715.48 278.73 726.74 280.01 734.79 282.2C742.83 284.39 747.66 287.19 754.09 290.89C760.53 294.59 768.09 299.58 773.4 304.4C778.71 309.23 783.05 314.86 785.95 319.85C788.84 324.83 790.23 329.5 790.77 334.32C791.32 339.15 790.51 343.82 789.23 348.8C787.94 353.79 785.69 359.1 783.05 364.25C780.41 369.4 777.26 374.86 773.4 379.69C769.54 384.52 765.35 389.5 759.88 393.2C754.41 396.9 747.98 399.64 740.58 401.89C733.18 404.14 723.85 405.91 715.48 406.72C707.12 407.52 698.43 407.36 690.39 406.72C682.34 406.07 674.94 405.11 667.22 402.86C659.5 400.6 651.13 397.39 644.05 393.2C636.98 389.02 629.9 382.91 624.75 377.76C619.6 372.61 615.74 368.11 613.17 362.32C610.59 356.53 609.56 349.29 609.31 343.01Z" fill="none" stroke="#8A1A20" stroke-width="14" stroke-opacity="0.5" filter="url(#f55)"/></g>
<g clip-path="url(#c56)"><rect x="801.32" y="275.37" width="158.44" height="131.41" fill="#E68B6E"/><ellipse cx="858.34" cy="323.71" rx="81.18" ry="72.78" fill="url(#r57)"/><ellipse cx="842.9" cy="315.98" rx="55.98" ry="44.79" fill="url(#r58)"/><ellipse cx="956.8" cy="321.78" rx="47.59" ry="81.18" fill="url(#r59)"/><ellipse cx="964.52" cy="325.64" rx="23.79" ry="58.78" fill="url(#r60)"/><ellipse cx="902.74" cy="365.21" rx="53.19" ry="22.39" fill="url(#r61)" transform="rotate(22 902.74 365.21)"/><ellipse cx="869.92" cy="358.46" rx="22.39" ry="12.6" fill="url(#r62)" transform="rotate(20 869.92 358.46)"/><ellipse cx="850.62" cy="414.44" rx="83.98" ry="22.39" fill="url(#r63)"/><ellipse cx="873.78" cy="344.94" rx="8.88" ry="8.88" fill="url(#r64)"/><ellipse cx="825.52" cy="312.12" rx="7.34" ry="7.34" fill="url(#r65)"/><path d="M803.32 327.57C803.58 321.29 804.7 315.02 807.76 309.23C810.82 303.44 816.13 297.32 821.66 292.82C827.19 288.31 833.89 284.77 840.97 282.2C848.04 279.63 856.09 278.02 864.13 277.37C872.18 276.73 880.86 277.05 889.23 278.34C897.59 279.63 906.92 282.04 914.32 285.1C921.72 288.15 928.16 292.5 933.63 296.68C939.1 300.86 943.6 305.69 947.14 310.19C950.68 314.7 953.1 319.2 954.86 323.71C956.63 328.21 957.7 332.39 957.76 337.22C957.82 342.05 957.02 347.19 955.25 352.66C953.48 358.13 950.75 364.57 947.14 370.04C943.54 375.51 939.1 380.82 933.63 385.48C928.16 390.15 921.4 394.81 914.32 398.03C907.25 401.25 898.88 403.98 891.16 404.79C883.44 405.59 875.39 404.47 867.99 402.86C860.59 401.25 853.51 398.67 846.76 395.14C840 391.6 832.92 386.77 827.45 381.62C821.98 376.47 817.48 370.04 813.94 364.25C810.4 358.46 807.99 352.99 806.22 346.87C804.45 340.76 803.06 333.84 803.32 327.57Z" fill="none" stroke="#8A1A20" stroke-width="14" stroke-opacity="0.5" filter="url(#f66)"/></g>
<g filter="url(#f68)"><g clip-path="url(#c67)"><rect x="1024.41" y="336.96" width="315.78" height="70.6" fill="#E6E8EA"/><ellipse cx="1241.66" cy="358.26" rx="83.98" ry="14" fill="url(#r69)"/><ellipse cx="1125.83" cy="354.4" rx="72.78" ry="16.8" fill="url(#r70)"/><ellipse cx="1187.61" cy="387.22" rx="30.79" ry="15.4" fill="url(#r71)"/><ellipse cx="1179.88" cy="344.75" rx="8.4" ry="2.8" fill="url(#r72)"/><ellipse cx="1135.48" cy="394.94" rx="33.59" ry="11.2" fill="url(#r73)"/><ellipse cx="1260.97" cy="393.01" rx="55.98" ry="8.4" fill="url(#r74)"/><ellipse cx="1021.58" cy="371.78" rx="60.18" ry="67.18" fill="url(#r75)"/><ellipse cx="1017.72" cy="373.71" rx="29.39" ry="55.98" fill="url(#r34)"/><ellipse cx="1017.72" cy="371.78" rx="15.4" ry="33.59" fill="url(#r76)"/><ellipse cx="1048.61" cy="360.19" rx="14" ry="12.6" fill="url(#r77)"/><ellipse cx="1345.91" cy="362.12" rx="55.98" ry="64.38" fill="url(#r78)"/><ellipse cx="1348.8" cy="360.19" rx="29.39" ry="53.19" fill="url(#r34)"/><ellipse cx="1348.8" cy="356.33" rx="17.36" ry="36.39" fill="url(#r17)"/><ellipse cx="1071.78" cy="373.71" rx="5.79" ry="5.79" fill="url(#r79)"/><ellipse cx="1070.81" cy="390.12" rx="5.79" ry="5.79" fill="url(#r79)"/><ellipse cx="1291.85" cy="388.19" rx="5.79" ry="5.79" fill="url(#r80)"/><path d="M1026.41 369.85C1026.34 365.73 1026.83 362.19 1028.92 358.65C1031.01 355.11 1034.71 351.25 1038.96 348.61C1043.2 345.97 1046.36 344.11 1054.4 342.82C1062.45 341.53 1075.32 341.21 1087.22 340.89C1099.12 340.57 1112.96 340.73 1125.83 340.89C1138.7 341.05 1154.79 341.69 1164.44 341.85C1174.09 342.01 1177.31 342.01 1183.75 341.85C1190.18 341.69 1193.4 341.37 1203.05 340.89C1212.7 340.41 1228.79 339.28 1241.66 338.96C1254.53 338.64 1269.01 338.8 1280.27 338.96C1291.53 339.12 1302.15 339.28 1309.23 339.92C1316.31 340.57 1318.88 341.37 1322.74 342.82C1326.6 344.27 1329.82 346.04 1332.39 348.61C1334.97 351.18 1337.48 354.72 1338.19 358.26C1338.89 361.8 1337.93 366.31 1336.64 369.85C1335.35 373.38 1333.42 376.6 1330.46 379.5C1327.5 382.39 1324.03 385.13 1318.88 387.22C1313.73 389.31 1309.23 390.6 1299.58 392.05C1289.92 393.49 1273.84 395.1 1260.97 395.91C1248.1 396.71 1235.23 396.39 1222.36 396.87C1209.49 397.36 1193.4 398 1183.75 398.8C1174.09 399.61 1170.88 400.73 1164.44 401.7C1158.01 402.66 1151.57 403.95 1145.14 404.59C1138.7 405.24 1132.27 405.56 1125.83 405.56C1119.4 405.56 1114.57 405.08 1106.53 404.59C1098.48 404.11 1087.22 403.47 1077.57 402.66C1067.92 401.86 1055.37 401.38 1048.61 399.77C1041.85 398.16 1040.24 395.75 1037.03 393.01C1033.81 390.28 1031.07 387.22 1029.31 383.36C1027.54 379.5 1026.47 373.96 1026.41 369.85Z" fill="none" stroke="#C9CACE" stroke-width="6" stroke-opacity="0.6" filter="url(#f81)"/></g></g>
<g filter="url(#f83)"><g clip-path="url(#c82)"><rect x="1369.58" y="330.2" width="367.32" height="73.5" fill="#EAEBED"/><ellipse cx="1572.36" cy="365.02" rx="145.56" ry="11.2" fill="url(#r69)"/><ellipse cx="1456.53" cy="371.78" rx="83.98" ry="11.2" fill="url(#r69)"/><ellipse cx="1502.86" cy="357.3" rx="12.6" ry="6.16" fill="url(#r84)"/><ellipse cx="1435.29" cy="355.37" rx="8.4" ry="5.04" fill="url(#r85)"/><ellipse cx="1450.73" cy="382.39" rx="7.28" ry="5.04" fill="url(#r85)"/><ellipse cx="1659.23" cy="385.29" rx="33.59" ry="11.2" fill="url(#r86)"/><ellipse cx="1562.7" cy="391.08" rx="22.39" ry="7" fill="url(#r86)"/><ellipse cx="1533.75" cy="365.98" rx="41.99" ry="8.4" fill="url(#r87)"/><ellipse cx="1423.71" cy="394.94" rx="41.99" ry="8.4" fill="url(#r88)"/><ellipse cx="1368.69" cy="367.92" rx="54.58" ry="64.38" fill="url(#r75)"/><ellipse cx="1364.83" cy="367.92" rx="32.19" ry="58.78" fill="url(#r16)"/><ellipse cx="1364.83" cy="369.85" rx="17.36" ry="44.79" fill="url(#r17)"/><ellipse cx="1743.2" cy="367.92" rx="69.98" ry="75.58" fill="url(#r33)"/><ellipse cx="1749" cy="367.92" rx="33.59" ry="61.58" fill="url(#r34)"/><ellipse cx="1749" cy="364.05" rx="18.19" ry="36.39" fill="url(#r89)"/><ellipse cx="1701.7" cy="375.64" rx="6.95" ry="6.95" fill="url(#r90)"/><ellipse cx="1412.12" cy="363.09" rx="5.79" ry="5.79" fill="url(#r91)"/><path d="M1371.58 367.92C1371.2 364.12 1373.13 359.94 1375.06 356.72C1376.99 353.5 1379.88 350.6 1383.17 348.61C1386.45 346.62 1388.96 345.65 1394.75 344.75C1400.54 343.85 1407.62 343.85 1417.92 343.2C1428.21 342.56 1443.66 341.66 1456.53 340.89C1469.4 340.12 1482.27 339.38 1495.14 338.57C1508.01 337.77 1520.88 336.8 1533.75 336.06C1546.62 335.32 1559.49 334.77 1572.36 334.13C1585.23 333.49 1598.1 332.52 1610.97 332.2C1623.84 331.88 1636.71 331.88 1649.58 332.2C1662.45 332.52 1678.53 333.23 1688.19 334.13C1697.84 335.03 1702.18 336.09 1707.49 337.61C1712.8 339.12 1716.56 340.98 1720.04 343.2C1723.51 345.42 1726.12 348.26 1728.34 350.93C1730.56 353.6 1732.27 356.4 1733.36 359.23C1734.45 362.06 1734.9 365.02 1734.9 367.92C1734.9 370.81 1734.39 373.87 1733.36 376.6C1732.33 379.34 1730.79 381.91 1728.73 384.32C1726.67 386.74 1724.06 389.09 1721 391.08C1717.95 393.08 1714.25 395.01 1710.39 396.29C1706.53 397.58 1704.76 398.71 1697.84 398.8C1690.92 398.9 1680.14 397.52 1668.88 396.87C1657.62 396.23 1643.14 395.26 1630.27 394.94C1617.4 394.62 1604.53 394.62 1591.66 394.94C1578.79 395.26 1565.92 396.07 1553.05 396.87C1540.18 397.68 1527.31 398.96 1514.44 399.77C1501.57 400.57 1488.7 401.54 1475.83 401.7C1462.96 401.86 1448.48 401.54 1437.22 400.73C1425.96 399.93 1416.31 398.8 1408.26 396.87C1400.22 394.94 1394.11 392.05 1388.96 389.15C1383.81 386.25 1380.27 383.04 1377.37 379.5C1374.48 375.96 1371.97 371.71 1371.58 367.92Z" fill="none" stroke="#C9CACE" stroke-width="6" stroke-opacity="0.6" filter="url(#f92)"/></g></g>
<g clip-path="url(#c93)"><rect x="52.04" y="518.05" width="242.1" height="76.19" fill="#2D62B3"/><ellipse cx="69.41" cy="544.12" rx="44.59" ry="50.4" fill="url(#r94)"/><ellipse cx="78.77" cy="538.1" rx="10.03" ry="10.03" fill="url(#r95)"/><ellipse cx="249.89" cy="556.15" rx="34.89" ry="62.03" fill="url(#r96)"/><ellipse cx="276.63" cy="556.15" rx="19.39" ry="27.14" fill="url(#r97)"/><ellipse cx="279.3" cy="558.82" rx="7.75" ry="9.69" fill="url(#r98)"/><ellipse cx="126.9" cy="564.17" rx="23.26" ry="17.45" fill="url(#r99)"/><ellipse cx="156.31" cy="576.2" rx="13.57" ry="19.39" fill="url(#r100)"/><ellipse cx="213.8" cy="542.78" rx="40.71" ry="27.14" fill="url(#r101)"/><ellipse cx="149.63" cy="546.79" rx="42.65" ry="21.32" fill="url(#r102)"/><ellipse cx="146.95" cy="545.45" rx="17.45" ry="9.69" fill="url(#r103)"/><ellipse cx="102.83" cy="541.44" rx="17.45" ry="23.26" fill="url(#r104)"/><ellipse cx="102.83" cy="542.78" rx="7.75" ry="11.63" fill="url(#r105)"/><ellipse cx="146.95" cy="528.34" rx="19.39" ry="5.43" fill="url(#r106)"/><ellipse cx="193.74" cy="565.51" rx="38.77" ry="44.59" fill="url(#r107)"/><ellipse cx="191.07" cy="565.51" rx="15.51" ry="22.29" fill="url(#r108)"/><ellipse cx="191.07" cy="564.17" rx="8.72" ry="10.66" fill="url(#r109)"/><ellipse cx="196.42" cy="586.9" rx="23.26" ry="7.75" fill="url(#r110)"/><ellipse cx="220.48" cy="568.18" rx="8.02" ry="8.02" fill="url(#r111)"/><path d="M54.04 545.45C53.99 542.16 54.55 538.15 55.78 535.03C57 531.91 59.12 529.01 61.39 526.74C63.66 524.47 66.29 522.5 69.41 521.39C72.53 520.28 76.1 519.94 80.11 520.05C84.12 520.16 89.02 521.28 93.48 522.06C97.93 522.84 102.39 523.95 106.84 524.73C111.3 525.51 114.64 526.29 120.21 526.74C125.78 527.18 133.58 527.52 140.27 527.41C146.95 527.3 152.52 526.63 160.32 526.07C168.12 525.51 178.15 524.73 187.06 524.06C195.97 523.4 206 522.62 213.8 522.06C221.6 521.5 228.28 520.94 233.85 520.72C239.42 520.5 242.76 520.28 247.22 520.72C251.68 521.17 256.13 521.95 260.59 523.4C265.04 524.84 270.06 526.96 273.96 529.41C277.86 531.86 281.31 535.2 283.98 538.1C286.66 541 288.64 544.23 290 546.79C291.36 549.35 292.01 551.25 292.14 553.48C292.27 555.7 291.6 557.93 290.8 560.16C290 562.39 289.02 564.66 287.33 566.84C285.63 569.03 283.32 571.26 280.64 573.26C277.97 575.27 275.74 577.05 271.28 578.88C266.83 580.7 261.26 582.55 253.9 584.22C246.55 585.9 236.08 587.68 227.17 588.9C218.25 590.13 209.34 591.02 200.43 591.58C191.52 592.13 181.49 592.25 173.69 592.25C165.89 592.25 159.21 592.13 153.64 591.58C148.07 591.02 144.72 590.24 140.27 588.9C135.81 587.57 131.35 585.23 126.9 583.56C122.44 581.89 119.1 580.33 113.53 578.88C107.96 577.43 100.16 576.43 93.48 574.87C86.79 573.31 78.55 571.52 73.42 569.52C68.3 567.51 65.62 565.29 62.73 562.83C59.83 560.38 57.49 557.71 56.04 554.81C54.59 551.92 54.08 548.75 54.04 545.45Z" fill="none" stroke="#22226E" stroke-width="6" stroke-opacity="0.55" filter="url(#f112)"/></g>
<g clip-path="url(#c113)"><rect x="306.05" y="521.4" width="247.32" height="70.18" fill="#2C65B5"/><ellipse cx="315.4" cy="553.48" rx="23.26" ry="46.52" fill="url(#r114)"/><ellipse cx="356.84" cy="534.76" rx="32.95" ry="12.6" fill="url(#r115)"/><ellipse cx="530.64" cy="540.11" rx="36.83" ry="36.83" fill="url(#r116)"/><ellipse cx="544.01" cy="566.84" rx="15.51" ry="25.2" fill="url(#r117)"/><ellipse cx="407.65" cy="576.2" rx="29.08" ry="12.6" fill="url(#r118)"/><ellipse cx="364.87" cy="583.56" rx="23.26" ry="8.72" fill="url(#r119)"/><ellipse cx="487.86" cy="582.89" rx="23.26" ry="6.78" fill="url(#r120)"/><ellipse cx="376.9" cy="557.49" rx="32.95" ry="20.35" fill="url(#r121)"/><ellipse cx="330.11" cy="553.48" rx="12.6" ry="11.63" fill="url(#r122)"/><ellipse cx="327.43" cy="548.13" rx="5.35" ry="5.35" fill="url(#r123)"/><ellipse cx="348.82" cy="565.51" rx="13.57" ry="13.57" fill="url(#r124)"/><ellipse cx="348.82" cy="564.17" rx="6.2" ry="7.37" fill="url(#r125)"/><ellipse cx="463.8" cy="542.78" rx="54.28" ry="32.95" fill="url(#r126)"/><ellipse cx="470.48" cy="545.45" rx="22.29" ry="16.48" fill="url(#r127)" transform="rotate(-30 470.48 545.45)"/><ellipse cx="473.16" cy="546.79" rx="9.69" ry="9.69" fill="url(#r128)"/><ellipse cx="493.21" cy="527.41" rx="17.45" ry="7.75" fill="url(#r129)"/><ellipse cx="400.96" cy="525.4" rx="15.51" ry="3.88" fill="url(#r130)"/><ellipse cx="518.61" cy="584.89" rx="9.69" ry="5.43" fill="url(#r131)"/><ellipse cx="511.93" cy="566.84" rx="11.63" ry="29.08" fill="url(#r132)"/><path d="M308.05 556.15C308 552.58 308.56 548.35 309.79 544.79C311.01 541.22 313.13 537.54 315.4 534.76C317.67 531.97 320.3 529.63 323.42 528.07C326.54 526.52 329.66 525.62 334.12 525.4C338.57 525.18 344.14 526.4 350.16 526.74C356.18 527.07 363.53 527.58 370.21 527.41C376.9 527.23 383.58 526.11 390.27 525.67C396.95 525.22 403.64 524.82 410.32 524.73C417.01 524.64 423.69 524.84 430.37 525.13C437.06 525.42 443.74 526.09 450.43 526.47C457.11 526.85 464.91 527.47 470.48 527.41C476.05 527.34 479.39 526.67 483.85 526.07C488.31 525.47 492.76 524.24 497.22 523.8C501.68 523.35 506.13 523.02 510.59 523.4C515.04 523.77 519.95 524.62 523.96 526.07C527.97 527.52 531.38 529.52 534.65 532.09C537.93 534.65 541.16 538.21 543.61 541.44C546.06 544.67 548.07 548.35 549.36 551.47C550.65 554.59 551.25 557.38 551.36 560.16C551.48 562.95 550.92 565.62 550.03 568.18C549.14 570.74 547.69 573.42 546.02 575.53C544.34 577.65 542.34 579.32 540 580.88C537.66 582.44 535.77 583.67 531.98 584.89C528.19 586.12 523.07 587.68 517.27 588.24C511.48 588.79 503.9 588.5 497.22 588.24C490.53 587.97 483.85 587.25 477.17 586.63C470.48 586.01 462.68 585.16 457.11 584.49C451.54 583.82 448.2 583.2 443.74 582.62C439.29 582.04 434.83 581.15 430.37 581.02C425.92 580.88 421.46 581.11 417.01 581.82C412.55 582.53 408.09 584.22 403.64 585.29C399.18 586.36 395.84 587.52 390.27 588.24C384.7 588.95 376.9 589.53 370.21 589.57C363.53 589.62 355.73 588.95 350.16 588.5C344.59 588.06 341.02 588.01 336.79 586.9C332.56 585.78 328.32 583.93 324.76 581.82C321.19 579.7 317.85 576.8 315.4 574.2C312.95 571.59 311.28 569.18 310.05 566.18C308.83 563.17 308.09 559.71 308.05 556.15Z" fill="none" stroke="#22226E" stroke-width="6" stroke-opacity="0.55" filter="url(#f133)"/></g>
<g clip-path="url(#c134)"><rect x="611.17" y="488.27" width="186.43" height="136.24" fill="#2D60B4"/><ellipse cx="676.87" cy="510.54" rx="83.98" ry="36.39" fill="url(#r135)"/><ellipse cx="673.01" cy="591.62" rx="78.38" ry="36.39" fill="url(#r136)"/><ellipse cx="744.44" cy="560.73" rx="69.98" ry="64.38" fill="url(#r137)"/><ellipse cx="715.48" cy="527.92" rx="47.59" ry="36.39" fill="url(#r138)"/><ellipse cx="703.9" cy="553.01" rx="30.79" ry="16.8" fill="url(#r139)"/><ellipse cx="665.29" cy="555.91" rx="27.99" ry="19.59" fill="url(#r140)"/><ellipse cx="634.4" cy="551.08" rx="22.39" ry="30.79" fill="url(#r141)"/><ellipse cx="775.33" cy="533.71" rx="30.79" ry="41.99" fill="url(#r142)"/><ellipse cx="777.26" cy="533.71" rx="15.4" ry="27.99" fill="url(#r143)"/><ellipse cx="614.13" cy="570.39" rx="11.2" ry="22.39" fill="url(#r144)"/><ellipse cx="725.14" cy="605.14" rx="55.98" ry="19.59" fill="url(#r145)"/><path d="M613.17 562.66C613.1 556.94 614.39 548.89 616.64 541.81C618.89 534.74 622.11 526.69 626.68 520.19C631.25 513.69 637.3 507.64 644.05 502.82C650.81 497.99 659.5 493.33 667.22 491.24C674.94 489.14 682.34 490.11 690.39 490.27C698.43 490.43 707.12 491.24 715.48 492.2C723.85 493.17 733.18 494.13 740.58 496.06C747.98 497.99 753.77 500.41 759.88 503.78C766 507.16 772.18 511.67 777.26 516.33C782.34 521 787.33 526.63 790.39 531.78C793.44 536.92 794.99 542.07 795.6 547.22C796.21 552.37 795.5 557.19 794.05 562.66C792.61 568.13 790.03 574.25 786.91 580.04C783.79 585.83 779.83 592.27 775.33 597.41C770.82 602.56 766 607.23 759.88 610.93C753.77 614.63 746.37 617.68 738.65 619.61C730.93 621.54 721.6 622.19 713.55 622.51C705.51 622.83 698.11 622.51 690.39 621.54C682.66 620.58 674.62 619.45 667.22 616.72C659.82 613.98 652.42 609.64 645.98 605.14C639.55 600.63 633.44 594.52 628.61 589.69C623.78 584.86 619.6 580.68 617.03 576.18C614.45 571.67 613.23 568.39 613.17 562.66Z" fill="none" stroke="#1C1F60" stroke-width="9" stroke-opacity="0.55" filter="url(#f146)"/></g>
<g clip-path="url(#c147)"><rect x="806.15" y="489.24" width="158.44" height="132.38" fill="#2E60B5"/><ellipse cx="949.07" cy="560.73" rx="33.59" ry="53.19" fill="url(#r148)"/><ellipse cx="839.03" cy="578.11" rx="41.99" ry="39.19" fill="url(#r149)"/><ellipse cx="898.88" cy="524.05" rx="41.99" ry="23.79" fill="url(#r150)"/><ellipse cx="891.16" cy="583.9" rx="30.79" ry="15.4" fill="url(#r151)"/><ellipse cx="858.34" cy="509.58" rx="69.98" ry="23.79" fill="url(#r152)"/><ellipse cx="839.03" cy="515.37" rx="29.39" ry="22.39" fill="url(#r153)" transform="rotate(-35 839.03 515.37)"/><ellipse cx="836.14" cy="508.61" rx="14" ry="11.2" fill="url(#r154)"/><ellipse cx="885.37" cy="556.87" rx="26.59" ry="23.79" fill="url(#r155)"/><ellipse cx="883.44" cy="558.8" rx="11.2" ry="10.08" fill="url(#r156)"/><ellipse cx="933.63" cy="524.05" rx="19.59" ry="16.8" fill="url(#r157)"/><ellipse cx="920.12" cy="605.14" rx="20.99" ry="20.99" fill="url(#r158)"/><ellipse cx="889.23" cy="603.2" rx="41.99" ry="16.8" fill="url(#r159)"/><path d="M808.15 543.36C808.53 538.44 809.05 531.84 811.62 526.37C814.2 520.9 818.7 514.95 823.59 510.54C828.48 506.13 834.85 502.66 840.97 499.92C847.08 497.19 853.84 495.58 860.27 494.13C866.71 492.68 872.5 491.4 879.58 491.24C886.65 491.07 895.34 491.88 902.74 493.17C910.14 494.45 917.54 496.06 923.98 498.96C930.41 501.85 936.53 506.04 941.35 510.54C946.18 515.05 949.78 520.68 952.93 525.98C956.09 531.29 958.66 537.25 960.27 542.39C961.88 547.54 962.78 551.56 962.59 556.87C962.39 562.18 961.36 568.46 959.11 574.25C956.86 580.04 953 586.47 949.07 591.62C945.15 596.77 940.71 601.27 935.56 605.14C930.41 609 924.3 612.37 918.19 614.79C912.07 617.2 905.32 619.13 898.88 619.61C892.45 620.1 886.01 618.97 879.58 617.68C873.14 616.4 866.71 614.63 860.27 611.89C853.84 609.16 846.76 605.3 840.97 601.27C835.17 597.25 829.86 592.91 825.52 587.76C821.18 582.61 817.61 575.69 814.9 570.39C812.2 565.08 810.43 560.41 809.31 555.91C808.18 551.4 807.76 548.28 808.15 543.36Z" fill="none" stroke="#1C1F60" stroke-width="9" stroke-opacity="0.55" filter="url(#f160)"/></g>
<g filter="url(#f162)"><g clip-path="url(#c161)"><rect x="1018.62" y="528.89" width="316.16" height="71.57" fill="#4238A5"/><ellipse cx="1145.14" cy="565.64" rx="105.41" ry="42.66" fill="url(#r163)"/><ellipse cx="1212.7" cy="552.12" rx="75.29" ry="13.8" fill="url(#r164)" transform="rotate(-10 1212.7 552.12)"/><ellipse cx="1251.31" cy="555.98" rx="50.19" ry="11.29" fill="url(#r165)"/><ellipse cx="1064.05" cy="555.98" rx="13.8" ry="13.8" fill="url(#r166)"/><ellipse cx="1044.75" cy="559.85" rx="17.57" ry="5.52" fill="url(#r167)"/><ellipse cx="1048.61" cy="586.87" rx="22.59" ry="4.02" fill="url(#r168)"/><ellipse cx="1114.25" cy="559.85" rx="42.66" ry="37.64" fill="url(#r169)"/><ellipse cx="1116.18" cy="557.92" rx="15.56" ry="23.84" fill="url(#r170)"/><ellipse cx="1100.73" cy="572.97" rx="15.56" ry="6.53" fill="url(#r171)"/><ellipse cx="1168.3" cy="555.98" rx="23.84" ry="37.64" fill="url(#r169)"/><ellipse cx="1167.92" cy="553.67" rx="9.03" ry="26.35" fill="url(#r172)"/><ellipse cx="1143.2" cy="556.95" rx="6.92" ry="6.92" fill="url(#r173)"/><ellipse cx="1220.42" cy="539.58" rx="15.06" ry="4.52" fill="url(#r174)"/><ellipse cx="1243.59" cy="535.14" rx="9.03" ry="3.51" fill="url(#r174)"/><ellipse cx="1022.55" cy="579.15" rx="6.27" ry="12.55" fill="url(#r175)"/><ellipse cx="1289.92" cy="555.98" rx="12.55" ry="7.53" fill="url(#r176)"/><path d="M1020.62 565.64C1020.55 561.52 1021.36 556.37 1023.13 552.51C1024.9 548.65 1027.95 545.11 1031.24 542.47C1034.52 539.83 1038.31 537.97 1042.82 536.68C1047.32 535.39 1050.86 535.23 1058.26 534.75C1065.66 534.27 1075.96 533.94 1087.22 533.78C1098.48 533.62 1112.96 533.62 1125.83 533.78C1138.7 533.94 1151.57 534.91 1164.44 534.75C1177.31 534.59 1190.18 533.46 1203.05 532.82C1215.92 532.18 1228.79 531.21 1241.66 530.89C1254.53 530.57 1269.01 530.41 1280.27 530.89C1291.53 531.37 1301.83 532.18 1309.23 533.78C1316.63 535.39 1320.75 537.87 1324.67 540.54C1328.6 543.21 1331.43 546.59 1332.78 549.81C1334.13 553.02 1333.81 556.56 1332.78 559.85C1331.75 563.13 1329.56 566.6 1326.6 569.5C1323.64 572.39 1320.17 574.97 1315.02 577.22C1309.87 579.47 1304.72 581.4 1295.71 583.01C1286.71 584.62 1273.19 585.91 1260.97 586.87C1248.74 587.84 1235.23 588 1222.36 588.8C1209.49 589.61 1195.01 590.57 1183.75 591.7C1172.48 592.82 1164.44 594.43 1154.79 595.56C1145.14 596.69 1135.48 598.13 1125.83 598.46C1116.18 598.78 1106.53 598.13 1096.87 597.49C1087.22 596.85 1076.6 595.56 1067.92 594.59C1059.23 593.63 1050.86 593.31 1044.75 591.7C1038.64 590.09 1034.77 587.36 1031.24 584.94C1027.7 582.53 1025.28 580.44 1023.51 577.22C1021.74 574 1020.68 569.76 1020.62 565.64Z" fill="none" stroke="#2A2478" stroke-width="6" stroke-opacity="0.5" filter="url(#f177)"/></g></g>
<g filter="url(#f179)"><g clip-path="url(#c178)"><rect x="1362.83" y="520.78" width="363.07" height="72.92" fill="#3A42A6"/><ellipse cx="1377.37" cy="559.85" rx="28.96" ry="38.61" fill="url(#r180)"/><ellipse cx="1446.87" cy="557.92" rx="77.22" ry="9.65" fill="url(#r181)"/><ellipse cx="1533.75" cy="546.33" rx="67.57" ry="21.72" fill="url(#r182)"/><ellipse cx="1620.62" cy="555.98" rx="55.5" ry="21.72" fill="url(#r183)"/><ellipse cx="1693.98" cy="557.92" rx="19.31" ry="16.89" fill="url(#r184)"/><ellipse cx="1695.91" cy="546.33" rx="9.65" ry="12.07" fill="url(#r185)"/><ellipse cx="1541.47" cy="557.92" rx="14.48" ry="19.31" fill="url(#r186)"/><ellipse cx="1541.47" cy="557.92" rx="7.24" ry="12.07" fill="url(#r187)"/><ellipse cx="1460.39" cy="580.12" rx="12.07" ry="10.86" fill="url(#r186)"/><ellipse cx="1460.39" cy="581.08" rx="6.03" ry="6.03" fill="url(#r188)"/><ellipse cx="1610.97" cy="581.08" rx="41.02" ry="14.48" fill="url(#r186)"/><ellipse cx="1609.03" cy="582.05" rx="28.96" ry="8.69" fill="url(#r189)"/><ellipse cx="1636.06" cy="563.71" rx="9.65" ry="12.07" fill="url(#r190)"/><ellipse cx="1672.74" cy="582.05" rx="16.89" ry="12.07" fill="url(#r191)"/><ellipse cx="1672.74" cy="583.01" rx="9.65" ry="7.24" fill="url(#r192)"/><ellipse cx="1527.95" cy="538.61" rx="12.07" ry="9.65" fill="url(#r193)"/><ellipse cx="1456.53" cy="544.4" rx="14.48" ry="9.65" fill="url(#r194)"/><ellipse cx="1504.79" cy="546.33" rx="14.48" ry="8.45" fill="url(#r194)"/><ellipse cx="1562.7" cy="563.71" rx="14.48" ry="9.65" fill="url(#r194)"/><ellipse cx="1649.58" cy="542.47" rx="19.31" ry="8.45" fill="url(#r195)"/><path d="M1364.83 559.85C1364.12 556.15 1365.73 552.28 1367.34 549.23C1368.94 546.17 1370.88 543.66 1374.48 541.51C1378.08 539.35 1381.72 537.74 1388.96 536.29C1396.2 534.85 1406.65 533.88 1417.92 532.82C1429.18 531.76 1443.66 530.73 1456.53 529.92C1469.4 529.12 1482.27 528.64 1495.14 527.99C1508.01 527.35 1520.88 526.71 1533.75 526.06C1546.62 525.42 1559.49 524.68 1572.36 524.13C1585.23 523.58 1598.1 522.94 1610.97 522.78C1623.84 522.62 1638.31 522.78 1649.58 523.17C1660.84 523.55 1669.52 523.81 1678.53 525.1C1687.54 526.38 1697.19 528.64 1703.63 530.89C1710.06 533.14 1713.76 535.39 1717.14 538.61C1720.52 541.83 1722.77 546.33 1723.9 550.19C1725.03 554.05 1724.7 557.92 1723.9 561.78C1723.1 565.64 1721.81 569.82 1719.07 573.36C1716.34 576.9 1712.64 580.44 1707.49 583.01C1702.34 585.59 1696.23 588 1688.19 588.8C1680.14 589.61 1668.88 588.32 1659.23 587.84C1649.58 587.36 1641.53 586.39 1630.27 585.91C1619.01 585.42 1604.53 584.94 1591.66 584.94C1578.79 584.94 1565.92 585.26 1553.05 585.91C1540.18 586.55 1527.31 588 1514.44 588.8C1501.57 589.61 1488.7 590.25 1475.83 590.73C1462.96 591.22 1448.48 592.02 1437.22 591.7C1425.96 591.38 1416.95 590.57 1408.26 588.8C1399.58 587.03 1391.21 583.98 1385.1 581.08C1378.98 578.19 1374.96 574.97 1371.58 571.43C1368.2 567.89 1365.53 563.55 1364.83 559.85Z" fill="none" stroke="#262070" stroke-width="6" stroke-opacity="0.5" filter="url(#f196)"/></g></g>
<text x="47" y="266.6" font-size="43" fill="#000" font-weight="bold">b</text>
<text x="233" y="290.75" font-size="25" fill="#BE1E2D">Wild type</text>
<text x="746.4" y="275" font-size="25" fill="#BE1E2D"><tspan font-family="Liberation Serif,serif">Δ</tspan><tspan font-style="italic" dx="1">rodZ</tspan></text>
<text x="1267.5" y="276" font-size="25" fill="#E02427"><tspan font-family="Liberation Serif,serif">Δ</tspan><tspan font-style="italic" dx="1">rodZ</tspan> + RodZ<tspan font-size="16.5" dy="8">1–337</tspan></text>
<rect x="1666" y="297" width="74" height="7.5" fill="#231F20"/>
<rect x="1791.5" y="283.7" width="33.6" height="151.7" fill="url(#cb197)" stroke="#231F20" stroke-width="3.5"/>
<rect x="1808.4" y="358" width="15" height="3.5" fill="#231F20"/>
<text x="1836.7" y="293" font-size="25" fill="#000">+6</text>
<text x="1836.7" y="369" font-size="25" fill="#000">0</text>
<text x="1836" y="446" font-size="25" fill="#000">–6</text>
<text x="1905" y="360" font-size="25" fill="#000" text-anchor="middle" transform="rotate(-90 1905 360)">Curvature</text>
<text x="1935.5" y="360" font-size="25" fill="#000" text-anchor="middle" transform="rotate(-90 1935.5 360)">(µm<tspan font-size="17" dy="-10.5">–2</tspan><tspan dy="10.5">)</tspan></text>
<rect x="1792.6" y="487" width="33" height="151.8" fill="url(#cb198)" stroke="#231F20" stroke-width="3.5"/>
<rect x="1809" y="561.3" width="15" height="3.5" fill="#231F20"/>
<text x="1836.7" y="495.2" font-size="25" fill="#000">1.0</text>
<text x="1836.7" y="572.2" font-size="25" fill="#000">0.5</text>
<text x="1836.7" y="648.4" font-size="25" fill="#000">0.0</text>
<text x="1908.6" y="563" font-size="25" fill="#000" text-anchor="middle" transform="rotate(-90 1908.6 563)">MreB (au)</text>
<text x="-2.5" y="722.3" font-size="43" fill="#000" font-weight="bold">c</text>
<rect x="94" y="935.35" width="384.6" height="7.5" fill="#231F20"/>
<path d="M164.5 932.4L166.5 932.5L168.5 932.2L170.5 931.5L172.5 930.6L174.5 929.4L176.5 928.1L178.5 926.6L180.4 925.0L182.4 923.5L184.4 921.9L186.4 920.5L188.4 919.2L190.4 918.0L192.4 917.1L194.4 916.4L196.4 915.9L198.4 915.7L200.4 915.7L202.4 916.0L204.4 916.5L206.4 917.3L208.4 918.4L210.4 919.7L212.3 921.2L214.3 922.8L216.3 924.6L218.3 926.4L220.3 928.2L222.3 930.0L224.3 931.8L226.3 933.5L228.3 935.1L230.3 936.5L232.3 937.8L234.3 938.8L236.3 939.7L238.3 940.4L240.3 940.9L242.3 941.3L244.2 941.5L246.2 941.6L248.2 941.6L250.2 941.6L252.2 941.4L254.2 941.2L256.2 940.9L258.2 940.6L260.2 940.2L262.2 939.9L264.2 939.5L266.2 939.2L268.2 938.8L270.2 938.6L272.2 938.3L274.1 938.1L276.1 938.0L278.1 937.8L280.1 937.7L282.1 937.6L284.1 937.5L286.1 937.5L288.1 937.4L290.1 937.3L292.1 937.2L294.1 937.2L296.1 937.1L298.1 937.0L300.1 936.9L302.1 936.7L304.1 936.6L306.0 936.5L308.0 936.4L310.0 936.2L312.0 936.1L314.0 936.0L316.0 935.8L318.0 935.7L320.0 935.5L322.0 935.4L324.0 935.2L326.0 935.1L328.0 934.9L330.0 934.8L332.0 934.6L334.0 934.5L336.0 934.3L337.9 934.2L339.9 934.0L341.9 933.9L343.9 933.8L345.9 933.6L347.9 933.5L349.9 933.4L351.9 933.3L353.9 933.2L355.9 933.1L357.9 933.0L359.9 932.9L361.9 932.9L363.9 932.8L365.9 932.8L367.8 932.7L369.8 932.7L371.8 932.7L373.8 932.7L375.8 932.8L377.8 932.8L379.8 932.8L381.8 932.9L383.8 933.0L385.8 933.1L387.8 933.2L389.8 933.4L391.8 933.6L393.8 933.8L395.8 933.9L397.8 934.1L399.7 934.2L401.7 934.1L403.7 933.9L405.7 933.6L407.7 933.0L409.7 932.2L411.7 931.2L413.7 930.1L415.7 928.7L417.7 927.1L419.7 925.4L421.7 923.5L423.7 921.4L425.7 919.2L427.7 917.0L429.7 914.7L431.6 912.5L433.6 910.3L435.6 908.2L437.6 906.2L439.6 904.4L441.6 902.8L443.6 901.4L445.6 900.4L445.6 950.9L443.6 950.9L441.6 951.1L439.6 951.5L437.6 952.1L435.6 952.9L433.6 953.7L431.6 954.7L429.7 955.8L427.7 956.9L425.7 958.1L423.7 959.2L421.7 960.3L419.7 961.3L417.7 962.3L415.7 963.1L413.7 963.8L411.7 964.4L409.7 964.7L407.7 964.9L405.7 964.9L403.7 964.8L401.7 964.5L399.7 964.2L397.8 963.7L395.8 963.2L393.8 962.7L391.8 962.1L389.8 961.5L387.8 961.0L385.8 960.4L383.8 959.9L381.8 959.5L379.8 959.1L377.8 958.7L375.8 958.4L373.8 958.0L371.8 957.8L369.8 957.5L367.8 957.2L365.9 957.0L363.9 956.7L361.9 956.5L359.9 956.3L357.9 956.1L355.9 955.9L353.9 955.8L351.9 955.6L349.9 955.5L347.9 955.4L345.9 955.3L343.9 955.2L341.9 955.1L339.9 955.1L337.9 955.0L336.0 955.0L334.0 955.1L332.0 955.1L330.0 955.1L328.0 955.2L326.0 955.3L324.0 955.4L322.0 955.6L320.0 955.7L318.0 955.9L316.0 956.0L314.0 956.2L312.0 956.4L310.0 956.6L308.0 956.8L306.0 957.0L304.1 957.2L302.1 957.4L300.1 957.5L298.1 957.7L296.1 957.9L294.1 958.0L292.1 958.1L290.1 958.2L288.1 958.3L286.1 958.4L284.1 958.4L282.1 958.4L280.1 958.3L278.1 958.3L276.1 958.2L274.1 958.0L272.2 957.9L270.2 957.7L268.2 957.6L266.2 957.4L264.2 957.3L262.2 957.3L260.2 957.3L258.2 957.4L256.2 957.6L254.2 957.7L252.2 957.9L250.2 958.0L248.2 958.1L246.2 958.2L244.2 958.2L242.3 958.1L240.3 957.9L238.3 957.6L236.3 957.2L234.3 956.6L232.3 955.9L230.3 955.0L228.3 953.9L226.3 952.6L224.3 951.2L222.3 949.7L220.3 948.1L218.3 946.4L216.3 944.7L214.3 943.0L212.3 941.5L210.4 940.1L208.4 938.9L206.4 938.0L204.4 937.4L202.4 937.1L200.4 937.1L198.4 937.3L196.4 937.8L194.4 938.5L192.4 939.5L190.4 940.7L188.4 942.0L186.4 943.6L184.4 945.3L182.4 947.1L180.4 949.0L178.5 950.9L176.5 952.9L174.5 954.7L172.5 956.5L170.5 958.1L168.5 959.6L166.5 960.8L164.5 961.7Z" fill="#B91C20" fill-opacity="0.3"/>
<path d="M164.8 947.7L166.8 947.2L168.8 946.4L170.7 945.3L172.7 943.9L174.7 942.4L176.7 940.7L178.7 938.9L180.6 937.1L182.6 935.2L184.6 933.3L186.6 931.6L188.6 929.9L190.5 928.4L192.5 927.0L194.5 925.9M227.0 943.3L229.0 944.5L231.0 945.6L233.0 946.5L235.0 947.2L237.0 947.8L239.0 948.2L241.0 948.5L243.0 948.8L244.9 948.9L246.9 949.0L248.9 949.1L250.9 949.1L252.9 949.1L254.9 949.1L256.9 949.1L258.9 949.2L260.9 949.3L262.9 949.3M301.0 949.6L303.0 949.4L305.0 949.1L306.9 948.8L308.9 948.5L310.9 948.2L312.9 947.8L314.9 947.4L316.8 947.1L318.8 946.7L320.8 946.3L322.8 946.0L324.7 945.7L326.7 945.3L328.7 945.1L330.7 944.8L332.7 944.6L334.6 944.4L336.6 944.3L338.6 944.1M376.4 946.2L378.5 946.4L380.5 946.7L382.6 947.0L384.6 947.3L386.7 947.6L388.7 947.9L390.8 948.2L392.8 948.6L394.9 948.9L397.0 949.2L399.0 949.5L401.1 949.7L403.1 949.7L405.2 949.7L407.2 949.6L409.3 949.2L411.3 948.7L413.4 948.0M444.2 926.0L445.6 925.4" fill="none" stroke="#B91C20" stroke-width="8" stroke-linejoin="round"/>
<path d="M137.3 925.2L139.3 925.1L141.3 924.7L143.3 923.5L145.3 921.3L147.3 918.1L149.3 914.7L151.3 911.1L153.3 907.4L155.3 903.6L157.3 899.7L159.3 895.8L161.3 891.8L163.3 887.9L165.3 884.0L167.3 880.3L169.3 876.7L171.3 873.3L173.3 870.1L175.3 867.2L177.3 864.6L179.3 862.3L181.3 860.2L183.3 858.4L185.3 856.9L187.3 855.7L189.3 854.7L191.3 853.9L193.3 853.5L195.3 853.3L197.3 853.3L199.3 853.6L201.3 854.1L203.3 854.9L205.3 855.9L207.3 857.2L209.3 858.7L211.3 860.5L213.3 862.4L215.3 864.6L217.3 867.0L219.3 869.6L221.3 872.4L223.3 875.3L225.3 878.5L227.3 881.8L229.3 885.2L231.3 888.8L233.3 892.6L235.3 896.4L237.3 900.4L239.3 904.5L241.3 908.7L243.3 913.0L245.3 917.4L247.3 921.8L249.3 926.3L251.3 930.9L253.3 935.5L255.3 940.2L257.3 944.9L259.3 949.7L261.3 954.4L263.3 959.2L265.3 964.0L267.3 968.8L269.3 973.5L271.3 978.3L273.3 983.0L275.3 987.7L277.3 992.3L279.3 996.9L281.3 1001.4L283.3 1005.8L285.3 1010.2L287.2 1014.5L289.2 1018.6L291.2 1022.7L293.2 1026.7L295.2 1030.5L297.2 1034.3L299.2 1037.9L301.2 1041.4L303.2 1044.7L305.2 1047.9L307.2 1050.9L309.2 1053.9L311.2 1056.7L313.2 1059.4L315.2 1062.1L317.2 1064.8L319.2 1067.4L321.2 1070.0L323.2 1072.6L325.2 1075.2L327.2 1077.9L329.2 1080.6L331.2 1083.3L333.2 1086.1L335.2 1088.8L337.2 1091.5L339.2 1094.2L341.2 1096.8L343.2 1099.5L345.2 1102.2L347.2 1104.8L349.2 1107.4L351.2 1110.0L353.2 1112.6L355.2 1115.1L357.2 1117.7L359.2 1120.2L361.2 1122.7L363.2 1125.1L365.2 1127.6L367.2 1130.0L369.2 1132.4L371.2 1134.8L373.2 1137.1L375.2 1139.3L377.2 1141.5L379.2 1143.7L381.2 1145.7L383.2 1147.7L385.2 1149.6L387.2 1151.4L389.2 1153.2L391.2 1154.9L393.2 1156.5L395.2 1158.0L397.2 1159.4L399.2 1160.7L401.2 1162.0L403.2 1163.1L405.2 1164.0L407.2 1164.7L409.2 1165.3L411.2 1165.7L413.2 1166.2L415.2 1166.6L417.2 1167.0L419.2 1167.4L421.2 1167.7L423.2 1167.9L425.2 1168.0L427.2 1168.0L429.2 1167.9L431.2 1167.7L433.2 1167.3L435.2 1166.9L437.2 1166.4L437.2 1206.4L435.2 1206.9L433.2 1207.1L431.2 1207.2L429.2 1207.1L427.2 1206.8L425.2 1206.4L423.2 1205.8L421.2 1205.1L419.2 1204.2L417.2 1203.2L415.2 1202.1L413.2 1200.7L411.2 1199.1L409.2 1197.3L407.2 1195.4L405.2 1193.5L403.2 1191.6L401.2 1189.7L399.2 1187.8L397.2 1185.8L395.2 1183.7L393.2 1181.6L391.2 1179.5L389.2 1177.2L387.2 1175.0L385.2 1172.7L383.2 1170.3L381.2 1168.0L379.2 1165.6L377.2 1163.2L375.2 1160.8L373.2 1158.3L371.2 1155.9L369.2 1153.4L367.2 1150.9L365.2 1148.4L363.2 1145.9L361.2 1143.4L359.2 1140.9L357.2 1138.3L355.2 1135.7L353.2 1133.1L351.2 1130.5L349.2 1127.9L347.2 1125.2L345.2 1122.6L343.2 1119.9L341.2 1117.2L339.2 1114.4L337.2 1111.7L335.2 1108.9L333.2 1106.1L331.2 1103.3L329.2 1100.4L327.2 1097.6L325.2 1094.6L323.2 1091.5L321.2 1088.4L319.2 1085.1L317.2 1081.8L315.2 1078.4L313.2 1075.0L311.2 1071.5L309.2 1068.0L307.2 1064.4L305.2 1060.8L303.2 1057.2L301.2 1053.6L299.2 1049.9L297.2 1046.2L295.2 1042.4L293.2 1038.5L291.2 1034.5L289.2 1030.3L287.2 1026.1L285.3 1021.8L283.3 1017.4L281.3 1012.9L279.3 1008.4L277.3 1003.7L275.3 999.1L273.3 994.4L271.3 989.6L269.3 984.9L267.3 980.1L265.3 975.3L263.3 970.5L261.3 965.7L259.3 960.9L257.3 956.1L255.3 951.4L253.3 946.7L251.3 942.1L249.3 937.5L247.3 933.0L245.3 928.6L243.3 924.3L241.3 920.0L239.3 915.9L237.3 911.9L235.3 907.9L233.3 904.2L231.3 900.5L229.3 897.0L227.3 893.6L225.3 890.4L223.3 887.4L221.3 884.5L219.3 881.9L217.3 879.4L215.3 877.1L213.3 875.0L211.3 873.1L209.3 871.4L207.3 870.0L205.3 868.8L203.3 867.8L201.3 867.1L199.3 866.6L197.3 866.3L195.3 866.2L193.3 866.5L191.3 866.9L189.3 867.6L187.3 868.6L185.3 869.8L183.3 871.3L181.3 873.1L179.3 875.1L177.3 877.4L175.3 880.0L173.3 882.9L171.3 886.0L169.3 889.4L167.3 892.9L165.3 896.6L163.3 900.5L161.3 904.4L159.3 908.4L157.3 912.4L155.3 916.4L153.3 920.5L151.3 924.6L149.3 928.7L147.3 932.7L145.3 936.7L143.3 941.6L141.3 947.2L139.3 953.2L137.3 959.2Z" fill="#B91C20" fill-opacity="0.3"/>
<path d="M137.3 942.2L139.3 939.2L141.3 935.9L143.3 932.6L145.3 929.0L147.3 925.4L149.3 921.7L151.3 917.8L153.3 913.9L155.3 910.0L157.3 906.0L159.3 902.1L161.3 898.1L163.3 894.2L165.3 890.3L167.3 886.6L169.3 883.0L171.3 879.6L173.3 876.5L175.3 873.6L177.3 871.0L179.3 868.7L181.3 866.7L183.3 864.9L185.3 863.4L187.3 862.1L189.3 861.2L191.3 860.4L193.3 860.0L195.3 859.7L197.3 859.8L199.3 860.1L201.3 860.6L203.3 861.4L205.3 862.4L207.3 863.6L209.3 865.1L211.3 866.8L213.3 868.7L215.3 870.8L217.3 873.2L219.3 875.7L221.3 878.4L223.3 881.4L225.3 884.4L227.3 887.7L229.3 891.1L231.3 894.7L233.3 898.4L235.3 902.2L237.3 906.1L239.3 910.2L241.3 914.4L243.3 918.6L245.3 923.0L247.3 927.4L249.3 931.9L251.3 936.5L253.3 941.1L255.3 945.8L257.3 950.5L259.3 955.3L261.3 960.1L263.3 964.8L265.3 969.6L267.3 974.4L269.3 979.2L271.3 983.9L273.3 988.7L275.3 993.4L277.3 998.0L279.3 1002.6L281.3 1007.1L283.3 1011.6L285.3 1016.0L287.2 1020.3L289.2 1024.5L291.2 1028.6L293.2 1032.6L295.2 1036.5L297.2 1040.2L299.2 1043.9L301.2 1047.5L303.2 1051.0L305.2 1054.4L307.2 1057.7L309.2 1060.9L311.2 1064.1L313.2 1067.2L315.2 1070.3L317.2 1073.3L319.2 1076.3L321.2 1079.2L323.2 1082.0L325.2 1084.9L327.2 1087.7L329.2 1090.5L331.2 1093.3L333.2 1096.1L335.2 1098.8L337.2 1101.6L339.2 1104.3L341.2 1107.0L343.2 1109.7L345.2 1112.4L347.2 1115.0L349.2 1117.6L351.2 1120.2L353.2 1122.8L355.2 1125.4L357.2 1128.0L359.2 1130.5L361.2 1133.0L363.2 1135.5L365.2 1138.0L367.2 1140.5L369.2 1142.9L371.2 1145.3L373.2 1147.7L375.2 1150.0L377.2 1152.4L379.2 1154.6L381.2 1156.8L383.2 1159.0L385.2 1161.1L387.2 1163.2L389.2 1165.2L391.2 1167.2L393.2 1169.0L395.2 1170.9L397.2 1172.6L399.2 1174.2L401.2 1175.8L403.2 1177.3L405.2 1178.7L407.2 1180.0L409.2 1181.3L411.2 1182.4L413.2 1183.4L415.2 1184.3L417.2 1185.1L419.2 1185.8L421.2 1186.4L423.2 1186.9L425.2 1187.2L427.2 1187.4L429.2 1187.5L431.2 1187.4L433.2 1187.2L435.2 1186.9L437.2 1186.4" fill="none" stroke="#B91C20" stroke-width="8" stroke-linejoin="round"/>
<line x1="94.1" y1="763.25" x2="94.1" y2="1287.85" stroke="#0d0d0d" stroke-width="2.1"/>
<line x1="94.1" y1="1286.8" x2="477.4" y2="1286.8" stroke="#0d0d0d" stroke-width="2.1"/>
<line x1="94.1" y1="764.7" x2="106.9" y2="764.7" stroke="#0d0d0d" stroke-width="2.1"/>
<text x="82.3" y="774.4" font-size="25" fill="#000" text-anchor="end">1.3</text>
<line x1="94.1" y1="822.71" x2="106.9" y2="822.71" stroke="#0d0d0d" stroke-width="2.1"/>
<text x="82.3" y="832.41" font-size="25" fill="#000" text-anchor="end">1.2</text>
<line x1="94.1" y1="880.72" x2="106.9" y2="880.72" stroke="#0d0d0d" stroke-width="2.1"/>
<text x="82.3" y="890.42" font-size="25" fill="#000" text-anchor="end">1.1</text>
<line x1="94.1" y1="938.73" x2="106.9" y2="938.73" stroke="#0d0d0d" stroke-width="2.1"/>
<text x="82.3" y="948.43" font-size="25" fill="#000" text-anchor="end">1.0</text>
<line x1="94.1" y1="996.74" x2="106.9" y2="996.74" stroke="#0d0d0d" stroke-width="2.1"/>
<text x="82.3" y="1006.44" font-size="25" fill="#000" text-anchor="end">0.9</text>
<line x1="94.1" y1="1054.75" x2="106.9" y2="1054.75" stroke="#0d0d0d" stroke-width="2.1"/>
<text x="82.3" y="1064.45" font-size="25" fill="#000" text-anchor="end">0.8</text>
<line x1="94.1" y1="1112.76" x2="106.9" y2="1112.76" stroke="#0d0d0d" stroke-width="2.1"/>
<text x="82.3" y="1122.46" font-size="25" fill="#000" text-anchor="end">0.7</text>
<line x1="94.1" y1="1170.77" x2="106.9" y2="1170.77" stroke="#0d0d0d" stroke-width="2.1"/>
<text x="82.3" y="1180.47" font-size="25" fill="#000" text-anchor="end">0.6</text>
<line x1="94.1" y1="1228.78" x2="106.9" y2="1228.78" stroke="#0d0d0d" stroke-width="2.1"/>
<text x="82.3" y="1238.48" font-size="25" fill="#000" text-anchor="end">0.5</text>
<line x1="94.1" y1="1286.79" x2="106.9" y2="1286.79" stroke="#0d0d0d" stroke-width="2.1"/>
<text x="82.3" y="1296.49" font-size="25" fill="#000" text-anchor="end">0.4</text>
<text x="96.6" y="1317.5" font-size="25" fill="#000" text-anchor="middle">–2</text>
<line x1="137.9" y1="1286.8" x2="137.9" y2="1271.8" stroke="#0d0d0d" stroke-width="2.1"/>
<text x="140.9" y="1317.5" font-size="25" fill="#000" text-anchor="middle">–1</text>
<line x1="182" y1="1286.8" x2="182" y2="1271.8" stroke="#0d0d0d" stroke-width="2.1"/>
<text x="183" y="1317.5" font-size="25" fill="#000" text-anchor="middle">0</text>
<line x1="226.1" y1="1286.8" x2="226.1" y2="1271.8" stroke="#0d0d0d" stroke-width="2.1"/>
<text x="227.1" y="1317.5" font-size="25" fill="#000" text-anchor="middle">1</text>
<line x1="270.2" y1="1286.8" x2="270.2" y2="1271.8" stroke="#0d0d0d" stroke-width="2.1"/>
<text x="273.8" y="1317.5" font-size="25" fill="#000" text-anchor="middle">2</text>
<line x1="314.3" y1="1286.8" x2="314.3" y2="1271.8" stroke="#0d0d0d" stroke-width="2.1"/>
<text x="314.3" y="1317.5" font-size="25" fill="#000" text-anchor="middle">3</text>
<line x1="358.4" y1="1286.8" x2="358.4" y2="1271.8" stroke="#0d0d0d" stroke-width="2.1"/>
<text x="358.4" y="1317.5" font-size="25" fill="#000" text-anchor="middle">4</text>
<line x1="402.5" y1="1286.8" x2="402.5" y2="1271.8" stroke="#0d0d0d" stroke-width="2.1"/>
<text x="402.5" y="1317.5" font-size="25" fill="#000" text-anchor="middle">5</text>
<line x1="446.6" y1="1286.8" x2="446.6" y2="1271.8" stroke="#0d0d0d" stroke-width="2.1"/>
<text x="446.6" y="1317.5" font-size="25" fill="#000" text-anchor="middle">6</text>
<text x="21" y="1026" font-size="25" fill="#000" text-anchor="middle" transform="rotate(-90 21 1026)">[MreB] relative to uniform density</text>
<text x="285.5" y="1357.3" font-size="25" fill="#000" text-anchor="middle">Gaussian curvature (µm<tspan font-size="17" dy="-10.5">–2</tspan><tspan dy="10.5">)</tspan></text>
<text x="322" y="728.6" font-size="25" fill="#000" text-anchor="middle">Strain</text>
<rect x="275" y="734.3" width="96" height="3.8" fill="#58595B"/>
<text x="434" y="728.6" font-size="25" fill="#58595B" text-anchor="middle"># cells</text>
<rect x="387.7" y="734.3" width="94.7" height="3.8" fill="#58595B"/>
<line x1="230.7" y1="762.7" x2="268.3" y2="762.7" stroke="#B91C20" stroke-width="8"/>
<line x1="230.7" y1="799.4" x2="268.3" y2="799.4" stroke="#B91C20" stroke-width="8" stroke-dasharray="8.5 6"/>
<text x="282" y="770.8" font-size="20" fill="#000">WT</text>
<text x="282.5" y="807.2" font-size="21" fill="#000"><tspan font-family="Liberation Serif,serif" font-style="normal">Δ</tspan><tspan font-style="italic" dx="1">rodZ</tspan></text>
<text x="434.3" y="773.3" font-size="25" fill="#58595B" text-anchor="middle">269</text>
<text x="434.3" y="807.9" font-size="25" fill="#58595B" text-anchor="middle">559</text>
<path d="M495 764.8L517.3 764.8L495.6 939L540 1288.6L495 1288.6Z" fill="#000"/>
<text x="564" y="839" font-size="25" fill="#000" text-anchor="middle" transform="rotate(-90 564 839)">Enrichment</text>
<text x="564" y="1152" font-size="25" fill="#000" text-anchor="middle" transform="rotate(-90 564 1152)">Depletion</text>
<text x="541.6" y="945.8" font-size="25" fill="#000">Neither</text>
<text x="541.6" y="976" font-size="25" fill="#000">enriched</text>
<text x="541.6" y="1006" font-size="25" fill="#000">nor depleted</text>
<text x="712" y="722.3" font-size="43" fill="#000" font-weight="bold">d</text>
<rect x="813" y="934.95" width="522.1" height="7.5" fill="#231F20"/>
<path d="M855.9 842.7L857.9 847.0L859.9 851.1L861.9 855.0L863.9 858.8L865.9 862.5L867.9 865.9L869.9 869.2L871.9 872.2L873.9 875.1L875.9 877.7L877.9 880.1L879.9 882.4L881.9 884.6L883.9 886.6L885.9 888.4L887.9 890.2L889.9 891.7L892.0 893.2L894.0 894.4L896.0 895.6L898.0 896.6L900.0 897.5L902.0 898.3L904.0 899.0L906.0 899.6L908.0 900.1L910.0 900.5L912.0 900.8L914.0 901.1L916.0 901.3L918.0 901.4L920.0 901.5L922.0 901.5L924.0 901.4L926.0 901.4L928.0 901.3L930.0 901.1L932.0 901.0L934.0 900.8L936.1 900.7L938.1 900.5L940.1 900.4L942.1 900.3L944.1 900.2L946.1 900.2L948.1 900.2L950.1 900.3L952.1 900.5L954.1 900.7L956.1 901.0L958.1 901.4L960.1 901.9L962.1 902.5L964.1 903.2L966.1 904.0L968.1 905.0L970.1 906.1L972.1 907.3L974.1 908.7L976.1 910.1L978.2 911.7L980.2 913.3L982.2 915.0L984.2 916.8L986.2 918.7L988.2 920.7L990.2 922.7L992.2 924.7L994.2 926.8L996.2 928.9L998.2 931.1L1000.2 933.2L1002.2 935.4L1004.2 937.6L1006.2 939.9L1008.2 942.1L1010.2 944.3L1012.2 946.6L1014.2 948.9L1016.2 951.2L1018.2 953.4L1020.3 955.7L1022.3 958.0L1024.3 960.3L1026.3 962.7L1028.3 965.0L1030.3 967.3L1032.3 969.6L1034.3 971.9L1036.3 974.2L1038.3 976.5L1040.3 978.8L1042.3 981.1L1044.3 983.4L1046.3 985.7L1048.3 988.0L1050.3 990.3L1052.3 992.5L1054.3 994.8L1056.3 997.0L1058.3 999.2L1060.3 1001.5L1062.4 1003.6L1064.4 1005.8L1066.4 1008.0L1068.4 1010.1L1070.4 1012.2L1072.4 1014.3L1074.4 1016.4L1076.4 1018.5L1078.4 1020.5L1080.4 1022.5L1082.4 1024.5L1084.4 1026.4L1086.4 1028.3L1088.4 1030.2L1090.4 1032.1L1092.4 1033.9L1094.4 1035.7L1096.4 1037.5L1098.4 1039.2L1100.4 1040.9L1102.4 1042.5L1104.5 1044.2L1106.5 1045.8L1108.5 1047.3L1110.5 1048.9L1112.5 1050.4L1114.5 1051.9L1116.5 1053.3L1118.5 1054.8L1120.5 1056.2L1122.5 1057.6L1124.5 1059.0L1126.5 1060.3L1128.5 1061.6L1130.5 1062.9L1132.5 1064.2L1134.5 1065.5L1136.5 1066.8L1138.5 1068.0L1140.5 1069.2L1142.5 1070.5L1144.5 1071.7L1146.6 1072.8L1148.6 1074.0L1150.6 1075.1L1152.6 1076.2L1154.6 1077.3L1156.6 1078.3L1158.6 1079.4L1160.6 1080.4L1162.6 1081.5L1164.6 1082.6L1166.6 1083.7L1168.6 1084.8L1170.6 1085.9L1172.6 1087.0L1174.6 1088.1L1176.6 1089.3L1178.6 1090.4L1180.6 1091.6L1182.6 1092.8L1184.6 1094.0L1186.6 1095.2L1188.7 1096.4L1190.7 1097.7L1192.7 1098.9L1194.7 1100.2L1196.7 1101.5L1198.7 1102.9L1200.7 1104.2L1202.7 1105.6L1204.7 1107.0L1206.7 1108.5L1208.7 1110.0L1210.7 1111.5L1210.7 1153.5L1208.7 1151.3L1206.7 1149.1L1204.7 1147.0L1202.7 1144.9L1200.7 1142.9L1198.7 1140.9L1196.7 1138.9L1194.7 1136.9L1192.7 1135.0L1190.7 1133.1L1188.7 1131.2L1186.6 1129.4L1184.6 1127.5L1182.6 1125.7L1180.6 1123.9L1178.6 1122.2L1176.6 1120.4L1174.6 1118.7L1172.6 1116.9L1170.6 1115.2L1168.6 1113.5L1166.6 1111.9L1164.6 1110.2L1162.6 1108.5L1160.6 1106.8L1158.6 1105.1L1156.6 1103.5L1154.6 1101.8L1152.6 1100.2L1150.6 1098.5L1148.6 1096.9L1146.6 1095.3L1144.5 1093.8L1142.5 1092.2L1140.5 1090.7L1138.5 1089.1L1136.5 1087.6L1134.5 1086.0L1132.5 1084.5L1130.5 1082.9L1128.5 1081.3L1126.5 1079.7L1124.5 1078.1L1122.5 1076.5L1120.5 1074.9L1118.5 1073.3L1116.5 1071.6L1114.5 1069.9L1112.5 1068.2L1110.5 1066.5L1108.5 1064.8L1106.5 1063.0L1104.5 1061.2L1102.4 1059.4L1100.4 1057.6L1098.4 1055.7L1096.4 1053.8L1094.4 1051.8L1092.4 1049.9L1090.4 1047.8L1088.4 1045.8L1086.4 1043.7L1084.4 1041.6L1082.4 1039.4L1080.4 1037.3L1078.4 1035.1L1076.4 1032.8L1074.4 1030.6L1072.4 1028.3L1070.4 1026.0L1068.4 1023.7L1066.4 1021.3L1064.4 1019.0L1062.4 1016.6L1060.3 1014.2L1058.3 1011.8L1056.3 1009.4L1054.3 1006.9L1052.3 1004.5L1050.3 1002.0L1048.3 999.6L1046.3 997.1L1044.3 994.6L1042.3 992.2L1040.3 989.7L1038.3 987.2L1036.3 984.8L1034.3 982.3L1032.3 979.9L1030.3 977.4L1028.3 975.0L1026.3 972.5L1024.3 970.1L1022.3 967.7L1020.3 965.3L1018.2 962.9L1016.2 960.5L1014.2 958.1L1012.2 955.8L1010.2 953.5L1008.2 951.2L1006.2 948.9L1004.2 946.7L1002.2 944.4L1000.2 942.2L998.2 940.1L996.2 937.9L994.2 935.8L992.2 933.7L990.2 931.7L988.2 929.7L986.2 927.8L984.2 925.9L982.2 924.1L980.2 922.4L978.2 920.8L976.1 919.2L974.1 917.8L972.1 916.5L970.1 915.3L968.1 914.2L966.1 913.3L964.1 912.5L962.1 911.8L960.1 911.2L958.1 910.8L956.1 910.4L954.1 910.1L952.1 909.9L950.1 909.8L948.1 909.8L946.1 909.8L944.1 909.9L942.1 910.0L940.1 910.1L938.1 910.3L936.1 910.5L934.0 910.7L932.0 910.9L930.0 911.1L928.0 911.3L926.0 911.5L924.0 911.7L922.0 911.9L920.0 912.0L918.0 912.1L916.0 912.2L914.0 912.2L912.0 912.2L910.0 912.1L908.0 911.9L906.0 911.7L904.0 911.4L902.0 911.0L900.0 910.5L898.0 909.9L896.0 909.2L894.0 908.4L892.0 907.5L889.9 906.5L887.9 905.4L885.9 904.2L883.9 903.0L881.9 901.6L879.9 900.2L877.9 898.7L875.9 897.2L873.9 895.7L871.9 894.3L869.9 893.1L867.9 892.0L865.9 891.0L863.9 890.1L861.9 889.2L859.9 888.4L857.9 887.6L855.9 886.7Z" fill="#00A14B" fill-opacity="0.3"/>
<path d="M855.9 861.7L857.9 864.7L859.9 867.7L861.9 870.5L863.9 873.2L865.9 875.8L867.9 878.4L869.9 880.8L871.9 883.1L873.9 885.3L875.9 887.4L877.9 889.5L879.9 891.4L881.9 893.1L883.9 894.8L885.9 896.4L887.9 897.8L889.9 899.1L892.0 900.3L894.0 901.4L896.0 902.4L898.0 903.3L900.0 904.0L902.0 904.6L904.0 905.2L906.0 905.6L908.0 906.0L910.0 906.3L912.0 906.5L914.0 906.6L916.0 906.7L918.0 906.8L920.0 906.7L922.0 906.7L924.0 906.6L926.0 906.5L928.0 906.3L930.0 906.1L932.0 906.0L934.0 905.8L936.1 905.6L938.1 905.4L940.1 905.3L942.1 905.1L944.1 905.0L946.1 905.0L948.1 905.0L950.1 905.1L952.1 905.2L954.1 905.4L956.1 905.7L958.1 906.1L960.1 906.6L962.1 907.1L964.1 907.8L966.1 908.7L968.1 909.6L970.1 910.7L972.1 911.9L974.1 913.2L976.1 914.7L978.2 916.2L980.2 917.9L982.2 919.6L984.2 921.4L986.2 923.2L988.2 925.2L990.2 927.2L992.2 929.2L994.2 931.3L996.2 933.4L998.2 935.6L1000.2 937.7L1002.2 939.9L1004.2 942.2L1006.2 944.4L1008.2 946.6L1010.2 948.9L1012.2 951.2L1014.2 953.5L1016.2 955.8L1018.2 958.2L1020.3 960.5L1022.3 962.9L1024.3 965.2L1026.3 967.6L1028.3 970.0L1030.3 972.3L1032.3 974.7L1034.3 977.1L1036.3 979.5L1038.3 981.9L1040.3 984.3L1042.3 986.7L1044.3 989.0L1046.3 991.4L1048.3 993.8L1050.3 996.2L1052.3 998.5L1054.3 1000.9L1056.3 1003.2L1058.3 1005.5L1060.3 1007.8L1062.4 1010.1L1064.4 1012.4L1066.4 1014.6L1068.4 1016.9L1070.4 1019.1L1072.4 1021.3L1074.4 1023.5L1076.4 1025.6L1078.4 1027.8L1080.4 1029.9L1082.4 1032.0L1084.4 1034.0L1086.4 1036.0L1088.4 1038.0L1090.4 1040.0L1092.4 1041.9L1094.4 1043.8L1096.4 1045.6L1098.4 1047.4L1100.4 1049.2L1102.4 1051.0L1104.5 1052.7L1106.5 1054.4L1108.5 1056.1L1110.5 1057.7L1112.5 1059.3L1114.5 1060.9L1116.5 1062.5L1118.5 1064.0L1120.5 1065.5L1122.5 1067.1L1124.5 1068.5L1126.5 1070.0L1128.5 1071.5L1130.5 1072.9L1132.5 1074.3L1134.5 1075.8L1136.5 1077.2L1138.5 1078.6L1140.5 1080.0L1142.5 1081.3L1144.5 1082.7L1146.6 1084.1L1148.6 1085.4L1150.6 1086.8L1152.6 1088.2L1154.6 1089.5L1156.6 1090.9L1158.6 1092.3L1160.6 1093.6L1162.6 1095.0L1164.6 1096.4L1166.6 1097.8L1168.6 1099.2L1170.6 1100.6L1172.6 1102.0L1174.6 1103.4L1176.6 1104.8L1178.6 1106.3L1180.6 1107.8L1182.6 1109.3L1184.6 1110.8L1186.6 1112.3L1188.7 1113.8L1190.7 1115.4L1192.7 1117.0L1194.7 1118.6L1196.7 1120.2L1198.7 1121.9L1200.7 1123.6L1202.7 1125.3L1204.7 1127.0L1206.7 1128.8L1208.7 1130.6L1210.7 1132.5" fill="none" stroke="#00A14B" stroke-width="8" stroke-linejoin="round"/>
<path d="M855.1 844.7L857.1 848.6L859.1 852.5L861.1 856.4L863.1 860.3L865.1 864.1L867.1 867.8L869.2 871.6L871.2 875.3L873.2 878.9L875.2 882.5L877.2 886.0L879.2 889.7L881.2 893.4L883.2 897.1L885.2 900.8L887.2 904.4L889.2 907.9L891.2 911.1L893.2 914.1L895.2 916.7L897.2 919.0L899.2 920.9L901.2 922.5L903.2 923.8L905.2 924.8L907.2 925.5L909.2 926.0L911.2 926.2L913.2 926.1L915.2 925.9L917.2 925.4L919.2 924.7L921.2 923.8L923.2 922.8L925.2 921.6L927.2 920.3L929.2 918.8L931.2 917.3L933.2 915.7L935.2 914.2L937.2 912.6L939.3 911.1L941.3 909.7L943.3 908.4L945.3 907.1L947.3 906.0L949.3 905.1L951.3 904.4L953.3 903.8L955.3 903.5L957.3 903.4L959.3 903.5L961.3 903.8L963.3 904.3L965.3 904.9L967.3 905.7L969.3 906.7L971.3 907.8L973.3 909.0L975.3 910.3L977.3 911.7L979.3 913.3L981.3 914.9L983.3 916.6L985.3 918.3L987.3 920.1L989.3 922.0L991.3 923.9L993.3 925.9L995.3 927.9L997.3 929.9L999.3 932.0L1001.3 934.1L1003.3 936.2L1005.3 938.3L1007.3 940.4L1009.3 942.5L1011.4 944.6L1013.4 946.7L1015.4 948.8L1017.4 950.9L1019.4 952.9L1021.4 954.9L1023.4 957.0L1025.4 959.0L1027.4 960.9L1029.4 962.9L1031.4 964.9L1033.4 966.8L1035.4 968.8L1037.4 970.7L1039.4 972.6L1041.4 974.5L1043.4 976.4L1045.4 978.3L1047.4 980.2L1049.4 982.0L1051.4 983.9L1053.4 985.7L1055.4 987.5L1057.4 989.3L1059.4 991.1L1061.4 992.9L1063.4 994.7L1065.4 996.4L1067.4 998.2L1069.4 999.9L1071.4 1001.7L1073.4 1003.4L1075.4 1005.1L1077.4 1006.8L1079.4 1008.5L1081.5 1010.2L1083.5 1011.8L1085.5 1013.5L1087.5 1015.1L1089.5 1016.8L1091.5 1018.4L1093.5 1020.0L1095.5 1021.6L1097.5 1023.2L1099.5 1024.8L1101.5 1026.3L1103.5 1027.9L1105.5 1029.4L1107.5 1030.9L1109.5 1032.4L1111.5 1033.9L1113.5 1035.4L1115.5 1036.8L1117.5 1038.2L1119.5 1039.6L1121.5 1041.0L1123.5 1042.4L1125.5 1043.7L1127.5 1045.1L1129.5 1046.4L1131.5 1047.7L1133.5 1049.0L1135.5 1050.2L1137.5 1051.4L1139.5 1052.6L1141.5 1053.8L1143.5 1055.0L1145.5 1056.1L1147.5 1057.2L1149.5 1058.3L1151.6 1059.4L1153.6 1060.5L1155.6 1061.5L1157.6 1062.4L1159.6 1063.4L1161.6 1064.3L1163.6 1065.2L1165.6 1066.1L1167.6 1066.9L1169.6 1067.7L1171.6 1068.4L1173.6 1069.2L1175.6 1069.9L1177.6 1070.6L1179.6 1071.2L1181.6 1071.8L1183.6 1072.4L1185.6 1073.0L1187.6 1073.5L1189.6 1074.0L1191.6 1074.4L1193.6 1074.9L1195.6 1075.3L1197.6 1075.7L1199.6 1076.0L1199.6 1114.0L1197.6 1112.9L1195.6 1111.8L1193.6 1110.7L1191.6 1109.6L1189.6 1108.4L1187.6 1107.2L1185.6 1106.0L1183.6 1104.8L1181.6 1103.6L1179.6 1102.3L1177.6 1101.1L1175.6 1099.8L1173.6 1098.5L1171.6 1097.1L1169.6 1095.8L1167.6 1094.5L1165.6 1093.1L1163.6 1091.8L1161.6 1090.4L1159.6 1089.0L1157.6 1087.6L1155.6 1086.2L1153.6 1084.8L1151.6 1083.3L1149.5 1081.9L1147.5 1080.4L1145.5 1079.0L1143.5 1077.5L1141.5 1076.0L1139.5 1074.5L1137.5 1072.9L1135.5 1071.4L1133.5 1069.8L1131.5 1068.3L1129.5 1066.7L1127.5 1065.1L1125.5 1063.5L1123.5 1061.9L1121.5 1060.2L1119.5 1058.6L1117.5 1056.9L1115.5 1055.3L1113.5 1053.6L1111.5 1051.9L1109.5 1050.2L1107.5 1048.4L1105.5 1046.7L1103.5 1045.0L1101.5 1043.2L1099.5 1041.4L1097.5 1039.7L1095.5 1037.9L1093.5 1036.1L1091.5 1034.2L1089.5 1032.4L1087.5 1030.6L1085.5 1028.7L1083.5 1026.9L1081.5 1025.0L1079.4 1023.1L1077.4 1021.2L1075.4 1019.3L1073.4 1017.4L1071.4 1015.5L1069.4 1013.5L1067.4 1011.6L1065.4 1009.6L1063.4 1007.7L1061.4 1005.7L1059.4 1003.7L1057.4 1001.7L1055.4 999.7L1053.4 997.7L1051.4 995.7L1049.4 993.6L1047.4 991.6L1045.4 989.6L1043.4 987.5L1041.4 985.5L1039.4 983.4L1037.4 981.3L1035.4 979.2L1033.4 977.1L1031.4 975.1L1029.4 973.0L1027.4 970.8L1025.4 968.7L1023.4 966.6L1021.4 964.5L1019.4 962.4L1017.4 960.2L1015.4 958.1L1013.4 955.9L1011.4 953.8L1009.3 951.6L1007.3 949.5L1005.3 947.3L1003.3 945.2L1001.3 943.1L999.3 941.0L997.3 938.9L995.3 936.9L993.3 934.9L991.3 932.9L989.3 931.0L987.3 929.2L985.3 927.3L983.3 925.6L981.3 923.9L979.3 922.3L977.3 920.8L975.3 919.4L973.3 918.1L971.3 916.9L969.3 915.8L967.3 914.9L965.3 914.2L963.3 913.5L961.3 913.1L959.3 912.8L957.3 912.8L955.3 912.9L953.3 913.3L951.3 913.8L949.3 914.6L947.3 915.6L945.3 916.7L943.3 918.0L941.3 919.4L939.3 920.9L937.2 922.4L935.2 924.0L933.2 925.7L931.2 927.3L929.2 928.9L927.2 930.5L925.2 932.0L923.2 933.5L921.2 934.9L919.2 936.2L917.2 937.4L915.2 938.5L913.2 939.4L911.2 940.0L909.2 940.5L907.2 940.8L905.2 940.8L903.2 940.5L901.2 939.9L899.2 939.1L897.2 937.8L895.2 936.3L893.2 934.3L891.2 932.1L889.2 929.5L887.2 926.7L885.2 923.8L883.2 920.9L881.2 918.0L879.2 915.3L877.2 912.7L875.2 910.3L873.2 908.3L871.2 906.7L869.2 905.5L867.1 904.6L865.1 904.0L863.1 903.7L861.1 903.7L859.1 903.9L857.1 904.2L855.1 904.6Z" fill="#603813" fill-opacity="0.3"/>
<path d="M855.1 871.7L857.1 873.9L859.1 876.1L861.1 878.4L863.1 880.7L865.1 883.1L867.1 885.6L869.2 888.1L871.2 890.8L873.2 893.5L875.2 896.4L877.2 899.4L879.2 902.5L881.2 905.7L883.2 909.0L885.2 912.3L887.2 915.6L889.2 918.7L891.2 921.6L893.2 924.2L895.2 926.5L897.2 928.4L899.2 930.0L901.2 931.2L903.2 932.2L905.2 932.8L907.2 933.1L909.2 933.3L911.2 933.1L913.2 932.7L915.2 932.2L917.2 931.4L919.2 930.5L921.2 929.4L923.2 928.2L925.2 926.8L927.2 925.4L929.2 923.9L931.2 922.3L933.2 920.7L935.2 919.1L937.2 917.5L939.3 916.0L941.3 914.5L943.3 913.2L945.3 911.9L947.3 910.8L949.3 909.9L951.3 909.1L953.3 908.5L955.3 908.2L957.3 908.1L959.3 908.2L961.3 908.5L963.3 908.9L965.3 909.5L967.3 910.3L969.3 911.3L971.3 912.3L973.3 913.5L975.3 914.8L977.3 916.3L979.3 917.8L981.3 919.4L983.3 921.1L985.3 922.8L987.3 924.6L989.3 926.5L991.3 928.4L993.3 930.4L995.3 932.4L997.3 934.4L999.3 936.5L1001.3 938.6L1003.3 940.7L1005.3 942.8L1007.3 945.0L1009.3 947.1L1011.4 949.2L1013.4 951.3L1015.4 953.4L1017.4 955.5L1019.4 957.6L1021.4 959.7L1023.4 961.8L1025.4 963.8L1027.4 965.9L1029.4 967.9L1031.4 970.0L1033.4 972.0L1035.4 974.0L1037.4 976.0L1039.4 978.0L1041.4 980.0L1043.4 982.0L1045.4 983.9L1047.4 985.9L1049.4 987.8L1051.4 989.8L1053.4 991.7L1055.4 993.6L1057.4 995.5L1059.4 997.4L1061.4 999.3L1063.4 1001.2L1065.4 1003.0L1067.4 1004.9L1069.4 1006.7L1071.4 1008.6L1073.4 1010.4L1075.4 1012.2L1077.4 1014.0L1079.4 1015.8L1081.5 1017.6L1083.5 1019.4L1085.5 1021.1L1087.5 1022.9L1089.5 1024.6L1091.5 1026.3L1093.5 1028.0L1095.5 1029.7L1097.5 1031.4L1099.5 1033.1L1101.5 1034.8L1103.5 1036.4L1105.5 1038.1L1107.5 1039.7L1109.5 1041.3L1111.5 1042.9L1113.5 1044.5L1115.5 1046.0L1117.5 1047.6L1119.5 1049.1L1121.5 1050.6L1123.5 1052.1L1125.5 1053.6L1127.5 1055.1L1129.5 1056.5L1131.5 1058.0L1133.5 1059.4L1135.5 1060.8L1137.5 1062.2L1139.5 1063.6L1141.5 1064.9L1143.5 1066.2L1145.5 1067.5L1147.5 1068.8L1149.5 1070.1L1151.6 1071.4L1153.6 1072.6L1155.6 1073.8L1157.6 1075.0L1159.6 1076.2L1161.6 1077.3L1163.6 1078.5L1165.6 1079.6L1167.6 1080.7L1169.6 1081.7L1171.6 1082.8L1173.6 1083.8L1175.6 1084.8L1177.6 1085.8L1179.6 1086.8L1181.6 1087.7L1183.6 1088.6L1185.6 1089.5L1187.6 1090.4L1189.6 1091.2L1191.6 1092.0L1193.6 1092.8L1195.6 1093.6L1197.6 1094.3L1199.6 1095.0" fill="none" stroke="#603813" stroke-width="8" stroke-linejoin="round"/>
<path d="M867.6 894.6L869.6 896.7L871.6 898.7L873.6 900.7L875.6 902.5L877.6 904.3L879.6 906.0L881.6 907.6L883.5 909.1L885.5 910.6L887.5 911.9L889.5 913.1L891.5 914.2L893.5 915.2L895.5 916.1L897.5 916.8L899.5 917.4L901.5 917.9L903.5 918.2L905.5 918.4L907.5 918.5L909.5 918.5L911.5 918.3L913.5 918.1L915.5 917.8L917.5 917.4L919.4 916.9L921.4 916.4L923.4 915.8L925.4 915.2L927.4 914.5L929.4 913.7L931.4 913.0L933.4 912.2L935.4 911.4L937.4 910.6L939.4 909.8L941.4 909.1L943.4 908.3L945.4 907.7L947.4 907.1L949.4 906.6L951.4 906.1L953.4 905.8L955.3 905.6L957.3 905.5L959.3 905.5L961.3 905.7L963.3 906.0L965.3 906.5L967.3 907.2L969.3 908.0L971.3 909.1L973.3 910.3L975.3 911.6L977.3 913.1L979.3 914.6L981.3 916.3L983.3 918.1L985.3 919.9L987.3 921.8L989.2 923.7L991.2 925.7L993.2 927.6L995.2 929.6L997.2 931.5L999.2 933.4L1001.2 935.3L1003.2 937.1L1005.2 938.9L1007.2 940.7L1009.2 942.5L1011.2 944.2L1013.2 945.9L1015.2 947.5L1017.2 949.2L1019.2 950.8L1021.2 952.4L1023.2 953.9L1025.1 955.5L1027.1 957.0L1029.1 958.5L1031.1 960.0L1033.1 961.5L1035.1 962.9L1037.1 964.3L1039.1 965.8L1041.1 967.2L1043.1 968.5L1045.1 969.9L1047.1 971.3L1049.1 972.6L1051.1 974.0L1053.1 975.3L1055.1 976.6L1057.1 977.9L1059.0 979.3L1061.0 980.6L1063.0 981.9L1065.0 983.2L1067.0 984.4L1069.0 985.7L1071.0 987.0L1073.0 988.3L1075.0 989.5L1077.0 990.8L1079.0 992.0L1081.0 993.3L1083.0 994.5L1085.0 995.8L1087.0 997.0L1089.0 998.2L1091.0 999.5L1093.0 1000.7L1094.9 1002.0L1096.9 1003.3L1098.9 1004.5L1100.9 1005.8L1102.9 1007.0L1104.9 1008.2L1106.9 1009.5L1108.9 1010.7L1110.9 1011.8L1112.9 1012.9L1114.9 1014.0L1116.9 1015.0L1118.9 1016.0L1120.9 1016.9L1122.9 1017.8L1124.9 1018.6L1126.9 1019.4L1128.8 1020.1L1130.8 1020.8L1132.8 1021.4L1134.8 1022.0L1136.8 1022.5L1138.8 1023.0L1140.8 1023.4L1142.8 1023.8L1144.8 1024.1L1146.8 1024.4L1148.8 1024.6L1150.8 1024.8L1152.8 1024.9L1154.8 1024.9L1156.8 1024.8L1158.8 1024.7L1160.8 1024.6L1162.8 1024.3L1164.7 1024.1L1166.7 1023.8L1168.7 1023.5L1170.7 1023.2L1172.7 1022.8L1174.7 1022.5L1176.7 1022.1L1178.7 1021.8L1180.7 1021.5L1182.7 1021.1L1184.7 1020.9L1186.7 1020.6L1188.7 1020.4L1190.7 1020.3L1192.7 1020.2L1194.7 1020.2L1196.7 1020.3L1198.7 1020.5L1200.6 1020.8L1202.6 1021.2L1204.6 1021.7L1206.6 1022.3L1208.6 1023.1L1210.6 1024.0L1210.6 1064.0L1208.6 1062.6L1206.6 1061.4L1204.6 1060.3L1202.6 1059.3L1200.6 1058.5L1198.7 1057.8L1196.7 1057.2L1194.7 1056.7L1192.7 1056.3L1190.7 1056.0L1188.7 1055.7L1186.7 1055.6L1184.7 1055.5L1182.7 1055.4L1180.7 1055.4L1178.7 1055.4L1176.7 1055.5L1174.7 1055.6L1172.7 1055.7L1170.7 1055.8L1168.7 1055.9L1166.7 1056.0L1164.7 1056.1L1162.8 1056.1L1160.8 1056.1L1158.8 1056.0L1156.8 1055.8L1154.8 1055.6L1152.8 1055.3L1150.8 1054.9L1148.8 1054.4L1146.8 1053.8L1144.8 1053.0L1142.8 1052.2L1140.8 1051.3L1138.8 1050.3L1136.8 1049.2L1134.8 1048.0L1132.8 1046.8L1130.8 1045.5L1128.8 1044.1L1126.9 1042.7L1124.9 1041.3L1122.9 1039.8L1120.9 1038.3L1118.9 1036.7L1116.9 1035.2L1114.9 1033.6L1112.9 1032.0L1110.9 1030.4L1108.9 1028.8L1106.9 1027.3L1104.9 1025.7L1102.9 1024.1L1100.9 1022.5L1098.9 1020.9L1096.9 1019.3L1094.9 1017.7L1093.0 1016.2L1091.0 1014.6L1089.0 1013.0L1087.0 1011.5L1085.0 1010.0L1083.0 1008.5L1081.0 1007.0L1079.0 1005.5L1077.0 1004.0L1075.0 1002.5L1073.0 1001.0L1071.0 999.6L1069.0 998.1L1067.0 996.7L1065.0 995.2L1063.0 993.8L1061.0 992.3L1059.0 990.9L1057.1 989.5L1055.1 988.0L1053.1 986.5L1051.1 985.1L1049.1 983.6L1047.1 982.1L1045.1 980.6L1043.1 979.1L1041.1 977.6L1039.1 976.1L1037.1 974.5L1035.1 973.0L1033.1 971.4L1031.1 969.9L1029.1 968.3L1027.1 966.7L1025.1 965.1L1023.2 963.4L1021.2 961.8L1019.2 960.1L1017.2 958.5L1015.2 956.8L1013.2 955.0L1011.2 953.3L1009.2 951.5L1007.2 949.8L1005.2 948.0L1003.2 946.1L1001.2 944.3L999.2 942.4L997.2 940.5L995.2 938.6L993.2 936.6L991.2 934.7L989.2 932.8L987.3 930.9L985.3 929.0L983.3 927.2L981.3 925.4L979.3 923.8L977.3 922.2L975.3 920.8L973.3 919.5L971.3 918.3L969.3 917.3L967.3 916.5L965.3 915.9L963.3 915.4L961.3 915.1L959.3 915.0L957.3 915.0L955.3 915.2L953.4 915.4L951.4 915.8L949.4 916.3L947.4 916.9L945.4 917.5L943.4 918.2L941.4 919.0L939.4 919.8L937.4 920.7L935.4 921.6L933.4 922.5L931.4 923.4L929.4 924.3L927.4 925.2L925.4 926.1L923.4 927.0L921.4 927.8L919.4 928.5L917.5 929.2L915.5 929.9L913.5 930.4L911.5 930.9L909.5 931.3L907.5 931.6L905.5 931.8L903.5 931.9L901.5 931.8L899.5 931.6L897.5 931.3L895.5 930.9L893.5 930.3L891.5 929.7L889.5 929.0L887.5 928.3L885.5 927.4L883.5 926.6L881.6 925.8L879.6 925.0L877.6 924.3L875.6 923.7L873.6 923.1L871.6 922.5L869.6 921.9L867.6 921.2Z" fill="#EB6623" fill-opacity="0.3"/>
<path d="M867.6 903.6L869.6 905.6L871.6 907.5L873.6 909.3L875.6 911.1L877.6 912.7L879.6 914.3L881.6 915.8L883.5 917.2L885.5 918.5L887.5 919.7L889.5 920.8L891.5 921.8L893.5 922.6L895.5 923.4L897.5 924.0L899.5 924.5L901.5 924.8L903.5 925.0L905.5 925.1L907.5 925.1L909.5 924.9L911.5 924.7L913.5 924.3L915.5 923.9L917.5 923.4L919.4 922.8L921.4 922.1L923.4 921.4L925.4 920.7L927.4 919.9L929.4 919.1L931.4 918.2L933.4 917.4L935.4 916.5L937.4 915.7L939.4 914.8L941.4 914.0L943.4 913.3L945.4 912.6L947.4 912.0L949.4 911.4L951.4 911.0L953.4 910.6L955.3 910.4L957.3 910.2L959.3 910.2L961.3 910.4L963.3 910.7L965.3 911.2L967.3 911.8L969.3 912.7L971.3 913.7L973.3 914.9L975.3 916.2L977.3 917.6L979.3 919.2L981.3 920.9L983.3 922.6L985.3 924.4L987.3 926.3L989.2 928.2L991.2 930.2L993.2 932.1L995.2 934.1L997.2 936.0L999.2 937.9L1001.2 939.8L1003.2 941.6L1005.2 943.4L1007.2 945.2L1009.2 947.0L1011.2 948.7L1013.2 950.4L1015.2 952.1L1017.2 953.8L1019.2 955.5L1021.2 957.1L1023.2 958.7L1025.1 960.3L1027.1 961.8L1029.1 963.4L1031.1 964.9L1033.1 966.4L1035.1 968.0L1037.1 969.4L1039.1 970.9L1041.1 972.4L1043.1 973.8L1045.1 975.3L1047.1 976.7L1049.1 978.1L1051.1 979.5L1053.1 980.9L1055.1 982.3L1057.1 983.7L1059.0 985.1L1061.0 986.5L1063.0 987.8L1065.0 989.2L1067.0 990.6L1069.0 991.9L1071.0 993.3L1073.0 994.7L1075.0 996.0L1077.0 997.4L1079.0 998.7L1081.0 1000.1L1083.0 1001.5L1085.0 1002.9L1087.0 1004.3L1089.0 1005.6L1091.0 1007.0L1093.0 1008.4L1094.9 1009.9L1096.9 1011.3L1098.9 1012.7L1100.9 1014.1L1102.9 1015.5L1104.9 1017.0L1106.9 1018.4L1108.9 1019.7L1110.9 1021.1L1112.9 1022.5L1114.9 1023.8L1116.9 1025.1L1118.9 1026.3L1120.9 1027.6L1122.9 1028.8L1124.9 1029.9L1126.9 1031.1L1128.8 1032.1L1130.8 1033.1L1132.8 1034.1L1134.8 1035.0L1136.8 1035.9L1138.8 1036.6L1140.8 1037.4L1142.8 1038.0L1144.8 1038.6L1146.8 1039.1L1148.8 1039.5L1150.8 1039.8L1152.8 1040.1L1154.8 1040.2L1156.8 1040.3L1158.8 1040.4L1160.8 1040.3L1162.8 1040.2L1164.7 1040.1L1166.7 1039.9L1168.7 1039.7L1170.7 1039.5L1172.7 1039.3L1174.7 1039.0L1176.7 1038.8L1178.7 1038.6L1180.7 1038.4L1182.7 1038.3L1184.7 1038.2L1186.7 1038.1L1188.7 1038.1L1190.7 1038.1L1192.7 1038.3L1194.7 1038.5L1196.7 1038.8L1198.7 1039.1L1200.6 1039.6L1202.6 1040.3L1204.6 1041.0L1206.6 1041.8L1208.6 1042.8L1210.6 1044.0" fill="none" stroke="#EB6623" stroke-width="8" stroke-linejoin="round"/>
<path d="M857.3 849.4L859.3 849.5L861.3 849.6L863.3 849.6L865.3 849.7L867.3 849.7L869.3 849.6L871.3 849.6L873.3 849.5L875.3 849.3L877.3 849.2L879.3 849.0L881.3 848.9L883.3 848.7L885.4 848.5L887.4 848.4L889.4 848.2L891.4 848.1L893.4 848.0L895.4 847.8L897.4 847.7L899.4 847.6L901.4 847.6L903.4 847.5L905.4 847.5L907.4 847.4L909.4 847.4L911.4 847.4L913.4 847.5L915.4 847.7L917.4 847.9L919.4 848.1L921.4 848.5L923.4 848.9L925.4 849.3L927.4 849.9L929.4 850.5L931.4 851.2L933.4 851.9L935.4 852.8L937.4 853.8L939.4 854.8L941.4 855.9L943.4 857.2L945.4 858.5L947.4 860.0L949.4 861.5L951.4 863.2L953.4 865.0L955.4 866.9L957.4 868.9L959.4 871.0L961.4 873.2L963.4 875.6L965.4 878.0L967.4 880.5L969.4 883.2L971.4 885.9L973.4 888.7L975.4 891.6L977.4 894.6L979.4 897.7L981.4 900.8L983.4 904.1L985.4 907.4L987.4 910.8L989.4 914.2L991.4 917.7L993.4 921.3L995.4 925.0L997.4 928.7L999.4 932.4L1001.4 936.3L1003.4 940.1L1005.4 944.0L1007.4 947.9L1009.4 951.9L1011.4 955.8L1013.4 959.8L1015.4 963.8L1017.4 967.8L1019.4 971.8L1021.4 975.8L1023.4 979.7L1025.4 983.7L1027.4 987.6L1029.4 991.5L1031.4 995.4L1033.5 999.2L1035.5 1003.0L1037.5 1006.7L1039.5 1010.4L1041.5 1014.0L1043.5 1017.6L1045.5 1021.1L1047.5 1024.5L1049.5 1027.9L1051.5 1031.1L1053.5 1034.4L1055.5 1037.5L1057.5 1040.6L1059.5 1043.6L1061.5 1046.5L1063.5 1049.3L1065.5 1052.1L1067.5 1054.8L1069.5 1057.4L1071.5 1059.9L1073.5 1062.4L1075.5 1064.8L1077.5 1067.1L1079.5 1069.3L1081.5 1071.4L1083.5 1073.5L1085.5 1075.5L1087.5 1077.5L1089.5 1079.4L1091.5 1081.3L1093.5 1083.1L1095.5 1084.8L1097.5 1086.5L1099.5 1088.2L1101.5 1089.8L1103.5 1091.4L1105.5 1093.0L1107.5 1094.5L1109.5 1096.0L1111.5 1097.5L1113.5 1099.0L1115.5 1100.5L1117.5 1101.9L1119.5 1103.3L1121.5 1104.8L1123.5 1106.2L1125.5 1107.6L1127.5 1108.9L1129.5 1110.3L1131.5 1111.7L1133.5 1113.0L1135.5 1114.4L1137.5 1115.7L1139.5 1117.0L1141.5 1118.3L1143.5 1119.6L1145.5 1120.9L1147.5 1122.2L1149.5 1123.5L1151.5 1124.7L1153.5 1126.0L1155.5 1127.3L1157.5 1128.5L1159.5 1129.8L1161.5 1131.0L1163.5 1132.2L1165.5 1133.5L1167.5 1134.7L1169.5 1135.9L1171.5 1137.1L1173.5 1138.4L1175.5 1139.6L1177.5 1140.8L1179.6 1142.0L1181.6 1143.2L1183.6 1144.4L1185.6 1145.6L1187.6 1146.8L1189.6 1148.0L1191.6 1149.2L1193.6 1150.4L1195.6 1151.6L1197.6 1152.8L1199.6 1153.9L1201.6 1155.1L1203.6 1156.3L1205.6 1157.4L1207.6 1158.6L1209.6 1159.7L1211.6 1160.9L1213.6 1162.0L1215.6 1163.1L1217.6 1164.3L1219.6 1165.4L1221.6 1166.5L1223.6 1167.6L1225.6 1168.7L1227.6 1169.7L1229.6 1170.8L1231.6 1171.9L1233.6 1173.0L1235.6 1174.0L1237.6 1175.1L1239.6 1176.1L1241.6 1177.2L1243.6 1178.2L1245.6 1179.3L1247.6 1180.3L1249.6 1181.3L1251.6 1182.3L1253.6 1183.3L1255.6 1184.3L1257.6 1185.3L1259.6 1186.2L1261.6 1187.1L1263.6 1188.0L1265.6 1188.8L1267.6 1189.7L1269.6 1190.5L1271.6 1191.4L1273.6 1192.2L1275.6 1193.0L1277.6 1193.8L1279.6 1194.7L1279.6 1216.7L1277.6 1215.2L1275.6 1213.7L1273.6 1212.2L1271.6 1210.7L1269.6 1209.2L1267.6 1207.7L1265.6 1206.3L1263.6 1204.8L1261.6 1203.4L1259.6 1202.0L1257.6 1200.6L1255.6 1199.2L1253.6 1197.9L1251.6 1196.6L1249.6 1195.3L1247.6 1194.0L1245.6 1192.7L1243.6 1191.4L1241.6 1190.1L1239.6 1188.8L1237.6 1187.6L1235.6 1186.3L1233.6 1185.0L1231.6 1183.8L1229.6 1182.5L1227.6 1181.2L1225.6 1180.0L1223.6 1178.7L1221.6 1177.5L1219.6 1176.2L1217.6 1175.0L1215.6 1173.7L1213.6 1172.5L1211.6 1171.2L1209.6 1170.0L1207.6 1168.8L1205.6 1167.6L1203.6 1166.3L1201.6 1165.1L1199.6 1163.9L1197.6 1162.7L1195.6 1161.5L1193.6 1160.3L1191.6 1159.1L1189.6 1157.9L1187.6 1156.7L1185.6 1155.4L1183.6 1154.2L1181.6 1153.0L1179.6 1151.8L1177.5 1150.5L1175.5 1149.3L1173.5 1148.1L1171.5 1146.9L1169.5 1145.6L1167.5 1144.4L1165.5 1143.1L1163.5 1141.9L1161.5 1140.6L1159.5 1139.4L1157.5 1138.1L1155.5 1136.8L1153.5 1135.6L1151.5 1134.3L1149.5 1133.0L1147.5 1131.7L1145.5 1130.4L1143.5 1129.1L1141.5 1127.8L1139.5 1126.5L1137.5 1125.1L1135.5 1123.8L1133.5 1122.4L1131.5 1121.1L1129.5 1119.7L1127.5 1118.3L1125.5 1116.9L1123.5 1115.5L1121.5 1114.1L1119.5 1112.7L1117.5 1111.2L1115.5 1109.8L1113.5 1108.3L1111.5 1106.8L1109.5 1105.3L1107.5 1103.8L1105.5 1102.2L1103.5 1100.7L1101.5 1099.1L1099.5 1097.4L1097.5 1095.7L1095.5 1094.0L1093.5 1092.3L1091.5 1090.4L1089.5 1088.6L1087.5 1086.7L1085.5 1084.7L1083.5 1082.7L1081.5 1080.6L1079.5 1078.4L1077.5 1076.2L1075.5 1073.9L1073.5 1071.5L1071.5 1069.0L1069.5 1066.5L1067.5 1063.9L1065.5 1061.2L1063.5 1058.4L1061.5 1055.6L1059.5 1052.6L1057.5 1049.6L1055.5 1046.6L1053.5 1043.4L1051.5 1040.2L1049.5 1036.9L1047.5 1033.6L1045.5 1030.1L1043.5 1026.6L1041.5 1023.1L1039.5 1019.5L1037.5 1015.8L1035.5 1012.0L1033.5 1008.2L1031.4 1004.4L1029.4 1000.5L1027.4 996.6L1025.4 992.7L1023.4 988.7L1021.4 984.8L1019.4 980.8L1017.4 976.8L1015.4 972.8L1013.4 968.8L1011.4 964.8L1009.4 960.9L1007.4 956.9L1005.4 953.0L1003.4 949.1L1001.4 945.3L999.4 941.4L997.4 937.7L995.4 934.0L993.4 930.3L991.4 926.8L989.4 923.3L987.4 919.8L985.4 916.4L983.4 913.1L981.4 909.9L979.4 906.8L977.4 903.7L975.4 900.8L973.4 897.9L971.4 895.1L969.4 892.4L967.4 889.8L965.4 887.3L963.4 884.9L961.4 882.6L959.4 880.4L957.4 878.3L955.4 876.3L953.4 874.5L951.4 872.7L949.4 871.1L947.4 869.6L945.4 868.2L943.4 866.9L941.4 865.8L939.4 864.7L937.4 863.7L935.4 862.8L933.4 862.0L931.4 861.3L929.4 860.7L927.4 860.1L925.4 859.6L923.4 859.2L921.4 858.9L919.4 858.7L917.4 858.5L915.4 858.4L913.4 858.3L911.4 858.3L909.4 858.3L907.4 858.4L905.4 858.6L903.4 858.8L901.4 859.1L899.4 859.5L897.4 859.9L895.4 860.3L893.4 860.7L891.4 861.2L889.4 861.7L887.4 862.2L885.4 862.7L883.3 863.2L881.3 863.7L879.3 864.1L877.3 864.6L875.3 865.0L873.3 865.5L871.3 865.9L869.3 866.3L867.3 866.7L865.3 867.1L863.3 867.5L861.3 867.8L859.3 868.1L857.3 868.4Z" fill="#DE2629" fill-opacity="0.28"/>
<path d="M857.3 861.1L859.3 860.8L861.3 860.5L863.3 860.2L865.3 859.9L867.3 859.5L869.3 859.1L871.3 858.7L873.3 858.3L875.3 857.9L877.3 857.5L879.3 857.1L881.3 856.7L883.3 856.3L885.4 855.9L887.4 855.5L889.4 855.1L891.4 854.8L893.4 854.4L895.4 854.1L897.4 853.8L899.4 853.6L901.4 853.4L903.4 853.2L905.4 853.0L907.4 852.9L909.4 852.9L911.4 852.9L913.4 852.9L915.4 853.0L917.4 853.2L919.4 853.4L921.4 853.7L923.4 854.0L925.4 854.5L927.4 855.0L929.4 855.5L931.4 856.2L933.4 857.0L935.4 857.8L937.4 858.7L939.4 859.7L941.4 860.8L943.4 862.0L945.4 863.4L947.4 864.8L949.4 866.3L951.4 868.0L953.4 869.7L955.4 871.6L957.4 873.6L959.4 875.7L961.4 877.9L963.4 880.2L965.4 882.6L967.4 885.1L969.4 887.8L971.4 890.5L973.4 893.3L975.4 896.2L977.4 899.2L979.4 902.2L981.4 905.4L983.4 908.6L985.4 911.9L987.4 915.3L989.4 918.7L991.4 922.3L993.4 925.8L995.4 929.5L997.4 933.2L999.4 936.9L1001.4 940.8L1003.4 944.6L1005.4 948.5L1007.4 952.4L1009.4 956.4L1011.4 960.3L1013.4 964.3L1015.4 968.3L1017.4 972.3L1019.4 976.3L1021.4 980.3L1023.4 984.2L1025.4 988.2L1027.4 992.1L1029.4 996.0L1031.4 999.9L1033.5 1003.7L1035.5 1007.5L1037.5 1011.3L1039.5 1014.9L1041.5 1018.6L1043.5 1022.1L1045.5 1025.6L1047.5 1029.0L1049.5 1032.4L1051.5 1035.7L1053.5 1038.9L1055.5 1042.0L1057.5 1045.1L1059.5 1048.1L1061.5 1051.0L1063.5 1053.9L1065.5 1056.7L1067.5 1059.3L1069.5 1062.0L1071.5 1064.5L1073.5 1067.0L1075.5 1069.3L1077.5 1071.6L1079.5 1073.9L1081.5 1076.0L1083.5 1078.1L1085.5 1080.1L1087.5 1082.1L1089.5 1084.0L1091.5 1085.9L1093.5 1087.7L1095.5 1089.4L1097.5 1091.1L1099.5 1092.8L1101.5 1094.4L1103.5 1096.0L1105.5 1097.6L1107.5 1099.2L1109.5 1100.7L1111.5 1102.2L1113.5 1103.7L1115.5 1105.1L1117.5 1106.6L1119.5 1108.0L1121.5 1109.4L1123.5 1110.8L1125.5 1112.2L1127.5 1113.6L1129.5 1115.0L1131.5 1116.4L1133.5 1117.7L1135.5 1119.1L1137.5 1120.4L1139.5 1121.7L1141.5 1123.0L1143.5 1124.4L1145.5 1125.7L1147.5 1127.0L1149.5 1128.2L1151.5 1129.5L1153.5 1130.8L1155.5 1132.1L1157.5 1133.3L1159.5 1134.6L1161.5 1135.8L1163.5 1137.1L1165.5 1138.3L1167.5 1139.5L1169.5 1140.8L1171.5 1142.0L1173.5 1143.2L1175.5 1144.4L1177.5 1145.7L1179.6 1146.9L1181.6 1148.1L1183.6 1149.3L1185.6 1150.5L1187.6 1151.7L1189.6 1152.9L1191.6 1154.1L1193.6 1155.3L1195.6 1156.5L1197.6 1157.7L1199.6 1158.9L1201.6 1160.1L1203.6 1161.3L1205.6 1162.5L1207.6 1163.7L1209.6 1164.9L1211.6 1166.1L1213.6 1167.2L1215.6 1168.4L1217.6 1169.6L1219.6 1170.8L1221.6 1172.0L1223.6 1173.1L1225.6 1174.3L1227.6 1175.5L1229.6 1176.6L1231.6 1177.8L1233.6 1179.0L1235.6 1180.2L1237.6 1181.3L1239.6 1182.5L1241.6 1183.6L1243.6 1184.8L1245.6 1186.0L1247.6 1187.1L1249.6 1188.3L1251.6 1189.5L1253.6 1190.6L1255.6 1191.8L1257.6 1192.9L1259.6 1194.1L1261.6 1195.3L1263.6 1196.4L1265.6 1197.6L1267.6 1198.7L1269.6 1199.9L1271.6 1201.0L1273.6 1202.2L1275.6 1203.3L1277.6 1204.5L1279.6 1205.7" fill="none" stroke="#DE2629" stroke-width="8" stroke-linejoin="round"/>
<path d="M877.9 930.5L879.9 933.6L881.8 936.9L883.8 940.3L885.8 943.8L887.8 947.3L889.8 950.7L891.8 954.0L893.8 957.2L895.8 960.1L897.8 963.0L899.8 965.7L901.8 968.4L903.8 970.8L905.8 973.0L907.8 975.1L909.8 976.8L911.8 978.3L913.8 979.5L915.8 980.3L917.8 980.9L919.8 981.1L921.8 981.0L923.7 980.7L925.7 980.0L927.7 979.1L929.7 977.9L931.7 976.4L933.7 974.6L935.7 972.7L937.7 970.6L939.7 968.3L941.7 966.0L943.7 963.6L945.7 961.3L947.7 958.9L949.7 956.7L951.7 954.5L953.7 952.3L955.7 950.3L957.7 948.2L959.7 946.3L961.7 944.4L963.7 942.6L965.6 940.9L967.6 939.2L969.6 937.6L971.6 936.1L973.6 934.7L975.6 933.3L977.6 932.0L979.6 930.8L981.6 929.7L983.6 928.7L985.6 927.7L987.6 926.9L989.6 926.1L991.6 925.4L993.6 924.8L995.6 924.3L997.6 923.9L999.6 923.6L1001.6 923.4L1003.6 923.3L1005.6 923.2L1007.5 923.3L1009.5 923.5L1011.5 923.8L1013.5 924.2L1015.5 924.7L1017.5 925.3L1019.5 926.0L1021.5 926.8L1023.5 927.7L1025.5 928.6L1027.5 929.7L1029.5 930.8L1031.5 931.9L1033.5 933.0L1035.5 934.2L1037.5 935.3L1039.5 936.5L1041.5 937.6L1043.5 938.7L1045.5 939.7L1047.5 940.7L1049.4 941.6L1051.4 942.5L1053.4 943.3L1055.4 944.1L1057.4 944.8L1059.4 945.6L1061.4 946.3L1063.4 946.9L1065.4 947.6L1067.4 948.2L1069.4 948.8L1071.4 949.4L1073.4 950.0L1075.4 950.5L1077.4 951.1L1079.4 951.6L1081.4 952.0L1083.4 952.5L1085.4 952.9L1087.4 953.3L1089.4 953.6L1091.3 953.9L1093.3 954.2L1095.3 954.4L1097.3 954.6L1099.3 954.8L1101.3 954.9L1103.3 955.0L1105.3 955.0L1107.3 955.0L1109.3 954.9L1111.3 954.7L1113.3 954.5L1115.3 954.2L1117.3 953.9L1119.3 953.5L1121.3 953.0L1123.3 952.6L1125.3 952.1L1127.3 951.6L1129.3 951.1L1131.3 950.6L1133.2 950.0L1135.2 949.6L1137.2 949.1L1139.2 948.6L1141.2 948.1L1143.2 947.6L1145.2 947.2L1147.2 946.9L1149.2 946.6L1151.2 946.3L1153.2 946.2L1155.2 946.2L1157.2 946.2L1159.2 946.4L1161.2 946.7L1163.2 947.1L1165.2 947.6L1167.2 948.2L1169.2 949.0L1171.2 949.8L1173.2 950.8L1175.1 951.8L1177.1 952.8L1179.1 953.9L1181.1 955.1L1183.1 956.2L1185.1 957.3L1187.1 958.4L1189.1 959.5L1191.1 960.6L1193.1 961.6L1195.1 962.5L1197.1 963.3L1199.1 964.1L1201.1 964.7L1201.1 999.9L1199.1 998.6L1197.1 997.2L1195.1 995.7L1193.1 994.2L1191.1 992.6L1189.1 991.0L1187.1 989.3L1185.1 987.7L1183.1 986.0L1181.1 984.4L1179.1 982.7L1177.1 981.2L1175.1 979.7L1173.2 978.2L1171.2 976.9L1169.2 975.7L1167.2 974.5L1165.2 973.5L1163.2 972.6L1161.2 971.8L1159.2 971.1L1157.2 970.5L1155.2 970.0L1153.2 969.6L1151.2 969.3L1149.2 969.0L1147.2 968.7L1145.2 968.6L1143.2 968.4L1141.2 968.4L1139.2 968.4L1137.2 968.5L1135.2 968.6L1133.2 968.8L1131.3 969.0L1129.3 969.2L1127.3 969.4L1125.3 969.6L1123.3 969.8L1121.3 970.0L1119.3 970.1L1117.3 970.3L1115.3 970.4L1113.3 970.5L1111.3 970.5L1109.3 970.5L1107.3 970.5L1105.3 970.4L1103.3 970.3L1101.3 970.1L1099.3 969.9L1097.3 969.7L1095.3 969.4L1093.3 969.1L1091.3 968.7L1089.4 968.4L1087.4 967.9L1085.4 967.5L1083.4 967.0L1081.4 966.5L1079.4 966.0L1077.4 965.4L1075.4 964.9L1073.4 964.3L1071.4 963.7L1069.4 963.0L1067.4 962.4L1065.4 961.7L1063.4 961.0L1061.4 960.3L1059.4 959.6L1057.4 958.9L1055.4 958.1L1053.4 957.3L1051.4 956.5L1049.4 955.6L1047.5 954.7L1045.5 953.7L1043.5 952.7L1041.5 951.7L1039.5 950.6L1037.5 949.5L1035.5 948.3L1033.5 947.2L1031.5 946.1L1029.5 945.0L1027.5 944.0L1025.5 943.0L1023.5 942.1L1021.5 941.2L1019.5 940.5L1017.5 939.8L1015.5 939.3L1013.5 938.9L1011.5 938.5L1009.5 938.3L1007.5 938.2L1005.6 938.1L1003.6 938.2L1001.6 938.4L999.6 938.6L997.6 939.0L995.6 939.4L993.6 939.9L991.6 940.6L989.6 941.3L987.6 942.1L985.6 943.0L983.6 944.0L981.6 945.0L979.6 946.2L977.6 947.4L975.6 948.7L973.6 950.1L971.6 951.6L969.6 953.2L967.6 954.8L965.6 956.5L963.7 958.3L961.7 960.1L959.7 962.1L957.7 964.1L955.7 966.1L953.7 968.3L951.7 970.5L949.7 972.8L947.7 975.2L945.7 977.7L943.7 980.3L941.7 982.9L939.7 985.5L937.7 988.0L935.7 990.5L933.7 992.7L931.7 994.7L929.7 996.5L927.7 998.0L925.7 999.2L923.7 1000.0L921.8 1000.6L919.8 1000.8L917.8 1000.7L915.8 1000.3L913.8 999.6L911.8 998.5L909.8 997.2L907.8 995.6L905.8 993.7L903.8 991.7L901.8 989.4L899.8 987.1L897.8 984.6L895.8 982.0L893.8 979.4L891.8 977.1L889.8 974.9L887.8 973.0L885.8 971.3L883.8 969.8L881.8 968.5L879.9 967.4L877.9 966.5Z" fill="#DE2629" fill-opacity="0.28"/>
<path d="M877.9 948.5L879.9 950.6L881.9 952.9L883.9 955.3L886.0 957.9L888.0 960.5L890.0 963.2L892.0 965.9M898.4 974.4L900.4 976.9L902.5 979.3L904.5 981.6L906.5 983.6L908.6 985.4L910.6 987.0L912.7 988.2L914.7 989.2L916.7 989.8L918.8 990.1L920.8 990.1L922.9 989.7L924.9 989.1L926.9 988.2L929.0 987.0L931.0 985.5M946.2 968.8L948.2 966.4L950.2 964.2L952.1 962.0L954.1 959.8L956.1 957.7L958.1 955.7L960.1 953.8L962.1 951.9L964.0 950.1L966.0 948.4L968.0 946.7M991.5 933.0L993.5 932.4L995.5 931.9L997.5 931.4L999.5 931.1L1001.6 930.9L1003.6 930.7L1005.6 930.7L1007.6 930.7L1009.6 930.9L1011.6 931.2L1013.6 931.5L1015.6 932.0L1017.7 932.6L1019.7 933.3L1021.7 934.1L1023.7 935.0L1025.7 935.9M1044.8 946.4L1046.8 947.4L1048.9 948.4L1051.0 949.3L1053.0 950.1L1055.0 950.9L1057.1 951.7L1059.1 952.5L1061.2 953.2L1063.2 953.9L1065.3 954.6M1084.6 959.9L1086.6 960.3L1088.5 960.6L1090.5 961.0L1092.5 961.3L1094.4 961.5L1096.4 961.8L1098.4 962.0L1100.3 962.1L1102.3 962.2L1104.3 962.3L1106.3 962.3L1108.2 962.3L1110.2 962.3L1112.2 962.1L1114.1 962.0L1116.1 961.8L1118.1 961.5L1120.0 961.2L1122.0 960.9M1144.0 957.4L1145.9 957.3L1147.9 957.2L1149.8 957.2L1151.7 957.2L1153.7 957.3L1155.6 957.6L1157.6 957.8L1159.5 958.2L1161.4 958.7L1163.4 959.3L1165.3 960.0M1183.2 970.7L1185.2 972.1L1187.2 973.5L1189.2 974.9L1191.2 976.3L1193.1 977.7L1195.1 979.0L1197.1 980.2L1199.1 981.3L1201.1 982.3" fill="none" stroke="#DE2629" stroke-width="8" stroke-linejoin="round"/>
<line x1="813.2" y1="763.25" x2="813.2" y2="1285.75" stroke="#0d0d0d" stroke-width="2.1"/>
<line x1="813.2" y1="1284.7" x2="1334.4" y2="1284.7" stroke="#0d0d0d" stroke-width="2.1"/>
<line x1="813.2" y1="764.3" x2="829.7" y2="764.3" stroke="#0d0d0d" stroke-width="2.1"/>
<text x="800.3" y="772.9" font-size="25" fill="#000" text-anchor="end">1.3</text>
<line x1="813.2" y1="822.08" x2="829.7" y2="822.08" stroke="#0d0d0d" stroke-width="2.1"/>
<text x="800.3" y="830.68" font-size="25" fill="#000" text-anchor="end">1.2</text>
<line x1="813.2" y1="879.86" x2="829.7" y2="879.86" stroke="#0d0d0d" stroke-width="2.1"/>
<text x="800.3" y="888.46" font-size="25" fill="#000" text-anchor="end">1.1</text>
<line x1="813.2" y1="937.64" x2="829.7" y2="937.64" stroke="#0d0d0d" stroke-width="2.1"/>
<text x="800.3" y="946.24" font-size="25" fill="#000" text-anchor="end">1.0</text>
<line x1="813.2" y1="995.42" x2="829.7" y2="995.42" stroke="#0d0d0d" stroke-width="2.1"/>
<text x="800.3" y="1004.02" font-size="25" fill="#000" text-anchor="end">0.9</text>
<line x1="813.2" y1="1053.2" x2="829.7" y2="1053.2" stroke="#0d0d0d" stroke-width="2.1"/>
<text x="800.3" y="1061.8" font-size="25" fill="#000" text-anchor="end">0.8</text>
<line x1="813.2" y1="1110.98" x2="829.7" y2="1110.98" stroke="#0d0d0d" stroke-width="2.1"/>
<text x="800.3" y="1119.58" font-size="25" fill="#000" text-anchor="end">0.7</text>
<line x1="813.2" y1="1168.76" x2="829.7" y2="1168.76" stroke="#0d0d0d" stroke-width="2.1"/>
<text x="800.3" y="1177.36" font-size="25" fill="#000" text-anchor="end">0.6</text>
<line x1="813.2" y1="1226.54" x2="829.7" y2="1226.54" stroke="#0d0d0d" stroke-width="2.1"/>
<text x="800.3" y="1235.14" font-size="25" fill="#000" text-anchor="end">0.5</text>
<line x1="813.2" y1="1284.32" x2="829.7" y2="1284.32" stroke="#0d0d0d" stroke-width="2.1"/>
<text x="800.3" y="1288.42" font-size="25" fill="#000" text-anchor="end">0.4</text>
<text x="813.3" y="1315.6" font-size="25" fill="#000" text-anchor="middle">–2</text>
<line x1="869" y1="1284.7" x2="869" y2="1269.7" stroke="#0d0d0d" stroke-width="2.1"/>
<text x="867.2" y="1315.6" font-size="25" fill="#000" text-anchor="middle">–1</text>
<line x1="925.7" y1="1284.7" x2="925.7" y2="1269.7" stroke="#0d0d0d" stroke-width="2.1"/>
<text x="925.7" y="1315.6" font-size="25" fill="#000" text-anchor="middle">0</text>
<line x1="982.4" y1="1284.7" x2="982.4" y2="1269.7" stroke="#0d0d0d" stroke-width="2.1"/>
<text x="982.4" y="1315.6" font-size="25" fill="#000" text-anchor="middle">1</text>
<line x1="1039.5" y1="1284.7" x2="1039.5" y2="1269.7" stroke="#0d0d0d" stroke-width="2.1"/>
<text x="1039.5" y="1315.6" font-size="25" fill="#000" text-anchor="middle">2</text>
<line x1="1096.7" y1="1284.7" x2="1096.7" y2="1269.7" stroke="#0d0d0d" stroke-width="2.1"/>
<text x="1096.7" y="1315.6" font-size="25" fill="#000" text-anchor="middle">3</text>
<line x1="1153.9" y1="1284.7" x2="1153.9" y2="1269.7" stroke="#0d0d0d" stroke-width="2.1"/>
<text x="1153.9" y="1315.6" font-size="25" fill="#000" text-anchor="middle">4</text>
<line x1="1210.6" y1="1284.7" x2="1210.6" y2="1269.7" stroke="#0d0d0d" stroke-width="2.1"/>
<text x="1210.6" y="1315.6" font-size="25" fill="#000" text-anchor="middle">5</text>
<line x1="1267.7" y1="1284.7" x2="1267.7" y2="1269.7" stroke="#0d0d0d" stroke-width="2.1"/>
<text x="1267.7" y="1315.6" font-size="25" fill="#000" text-anchor="middle">6</text>
<line x1="1324.9" y1="1284.7" x2="1324.9" y2="1269.7" stroke="#0d0d0d" stroke-width="2.1"/>
<text x="1324.9" y="1315.6" font-size="25" fill="#000" text-anchor="middle">7</text>
<text x="734.5" y="1025.5" font-size="25" fill="#000" text-anchor="middle" transform="rotate(-90 734.5 1025.5)">[MreB] relative to uniform density</text>
<text x="1071.5" y="1357.3" font-size="25" fill="#000" text-anchor="middle">Gaussian curvature (µm<tspan font-size="17" dy="-10.5">–2</tspan><tspan dy="10.5">)</tspan></text>
<text x="1156" y="728.8" font-size="25" fill="#000" text-anchor="middle">Plasmid</text>
<rect x="1111.5" y="734.3" width="95.3" height="3.8" fill="#58595B"/>
<text x="1270" y="728.8" font-size="25" fill="#58595B" text-anchor="middle"># cells</text>
<rect x="1223" y="734.3" width="95.8" height="3.8" fill="#58595B"/>
<line x1="1066.8" y1="762" x2="1105" y2="762" stroke="#DE2629" stroke-width="7.8"/>
<text x="1112.4" y="769.3" font-size="20.5" fill="#000">RodZ<tspan font-size="14.6" dy="6.5">1–337</tspan></text>
<text x="1266.1" y="767.6" font-size="21" fill="#58595B" text-anchor="middle">624</text>
<line x1="1066.8" y1="795" x2="1105" y2="795" stroke="#00A14B" stroke-width="7.8"/>
<text x="1112.4" y="802.1" font-size="20.5" fill="#000">RodZ<tspan font-size="14.6" dy="6.5">59–337</tspan></text>
<text x="1266.1" y="799.85" font-size="21" fill="#58595B" text-anchor="middle">213</text>
<line x1="1065.9" y1="828" x2="1104.1" y2="828" stroke="#EB6623" stroke-width="7.8"/>
<text x="1112.4" y="835" font-size="20.5" fill="#000">RodZ<tspan font-size="14.6" dy="6.5">70–337</tspan></text>
<text x="1266.1" y="832.1" font-size="21" fill="#58595B" text-anchor="middle">237</text>
<line x1="1064.9" y1="860.7" x2="1103.1" y2="860.7" stroke="#603813" stroke-width="7.8"/>
<text x="1112.4" y="867.4" font-size="20.5" fill="#000">RodZ<tspan font-size="14.6" dy="6.5">83–337</tspan></text>
<text x="1266.1" y="864.35" font-size="21" fill="#58595B" text-anchor="middle">233</text>
<line x1="1065.9" y1="894.4" x2="1104.1" y2="894.4" stroke="#DE2629" stroke-width="7.8" stroke-dasharray="7.9 7.3"/>
<text x="1112.4" y="903.3" font-size="20.5" fill="#000">Vector</text>
<text x="1266.1" y="896.6" font-size="21" fill="#58595B" text-anchor="middle">558</text>
<text x="1046.9" y="830.8" font-size="25.5" fill="#000" text-anchor="middle" transform="rotate(-90 1046.9 830.8)"><tspan font-family="Liberation Serif,serif" font-style="normal">Δ</tspan><tspan font-style="italic" dx="1">rodZ</tspan></text>
<text x="1381" y="722.2" font-size="43" fill="#000" font-weight="bold">e</text>
<rect x="1479" y="931.15" width="520.3" height="7.5" fill="#231F20"/>
<path d="M1523.7 845.4L1525.7 842.8L1527.7 840.3L1529.7 838.0L1531.7 835.7L1533.6 833.6L1535.6 831.5L1537.6 829.5L1539.6 827.5L1541.6 825.5L1543.6 823.6L1545.6 821.6L1547.6 819.7L1549.6 818.0L1551.6 816.4L1553.6 814.9L1555.6 813.6L1557.6 812.4L1559.6 811.4L1561.6 810.6L1563.6 809.9L1565.6 809.4L1567.6 809.1L1569.6 808.9L1571.6 808.9L1573.6 809.1L1575.6 809.6L1577.6 810.1L1579.6 810.9L1581.6 811.9L1583.6 813.0L1585.6 814.3L1587.6 815.8L1589.6 817.4L1591.5 819.1L1593.5 821.1L1595.5 823.1L1597.5 825.3L1599.5 827.6L1601.5 830.0L1603.5 832.5L1605.5 835.2L1607.5 838.0L1609.5 840.9L1611.5 843.9L1613.5 847.0L1615.5 850.3L1617.5 853.6L1619.5 857.0L1621.5 860.5L1623.5 864.1L1625.5 867.7L1627.5 871.4L1629.5 875.2L1631.5 879.1L1633.5 883.0L1635.5 886.9L1637.5 890.9L1639.5 894.9L1641.5 899.0L1643.5 903.1L1645.5 907.2L1647.5 911.3L1649.4 915.5L1651.4 919.7L1653.4 923.8L1655.4 928.0L1657.4 932.2L1659.4 936.4L1661.4 940.5L1663.4 944.7L1665.4 948.8L1667.4 952.9L1669.4 957.0L1671.4 961.0L1673.4 965.1L1675.4 969.1L1677.4 973.0L1679.4 976.9L1681.4 980.8L1683.4 984.7L1685.4 988.5L1687.4 992.3L1689.4 996.1L1691.4 999.8L1693.4 1003.5L1695.4 1007.2L1697.4 1010.8L1699.4 1014.4L1701.4 1018.0L1703.4 1021.5L1705.4 1025.0L1707.3 1028.5L1709.3 1031.9L1711.3 1035.4L1713.3 1038.7L1715.3 1042.1L1717.3 1045.4L1719.3 1048.7L1721.3 1052.0L1723.3 1055.2L1725.3 1058.4L1727.3 1061.6L1729.3 1064.7L1731.3 1067.8L1733.3 1070.9L1735.3 1073.9L1737.3 1076.9L1739.3 1079.9L1741.3 1082.8L1743.3 1085.8L1745.3 1088.6L1747.3 1091.5L1749.3 1094.3L1751.3 1097.1L1753.3 1099.9L1755.3 1102.6L1757.3 1105.3L1759.3 1108.0L1761.3 1110.6L1763.2 1113.2L1765.2 1115.8L1767.2 1118.3L1769.2 1120.8L1771.2 1123.2L1773.2 1125.7L1775.2 1128.0L1777.2 1130.4L1779.2 1132.7L1781.2 1135.0L1783.2 1137.3L1785.2 1139.5L1787.2 1141.7L1789.2 1143.8L1791.2 1146.0L1793.2 1148.0L1795.2 1150.1L1797.2 1152.1L1799.2 1154.1L1801.2 1156.1L1803.2 1158.0L1805.2 1159.9L1807.2 1161.7L1809.2 1163.5L1811.2 1165.3L1813.2 1167.1L1815.2 1168.8L1817.2 1170.5L1819.2 1172.1L1821.1 1173.7L1823.1 1175.3L1825.1 1176.8L1827.1 1178.3L1829.1 1179.7L1831.1 1181.1L1833.1 1182.5L1835.1 1183.9L1837.1 1185.2L1839.1 1186.4L1841.1 1187.6L1843.1 1188.8L1845.1 1189.9L1847.1 1191.0L1849.1 1192.0L1851.1 1193.0L1853.1 1194.0L1855.1 1194.9L1857.1 1195.7L1859.1 1196.5L1861.1 1197.2L1863.1 1197.8L1865.1 1198.2L1867.1 1198.5L1869.1 1198.7L1871.1 1198.8L1873.1 1198.7L1875.1 1198.6L1877.1 1198.5L1879.0 1198.3L1881.0 1198.1L1883.0 1197.9L1885.0 1197.8L1887.0 1197.7L1889.0 1197.6L1891.0 1197.6L1893.0 1197.6L1895.0 1197.5L1897.0 1197.3L1899.0 1197.1L1901.0 1196.9L1903.0 1196.5L1905.0 1196.2L1907.0 1195.7L1907.0 1222.7L1905.0 1223.2L1903.0 1223.5L1901.0 1223.9L1899.0 1224.1L1897.0 1224.3L1895.0 1224.5L1893.0 1224.6L1891.0 1224.6L1889.0 1224.6L1887.0 1224.5L1885.0 1224.3L1883.0 1224.0L1881.0 1223.7L1879.0 1223.3L1877.1 1222.8L1875.1 1222.2L1873.1 1221.6L1871.1 1220.9L1869.1 1220.2L1867.1 1219.4L1865.1 1218.6L1863.1 1217.7L1861.1 1216.8L1859.1 1215.8L1857.1 1214.8L1855.1 1213.6L1853.1 1212.4L1851.1 1211.2L1849.1 1209.8L1847.1 1208.5L1845.1 1207.1L1843.1 1205.6L1841.1 1204.1L1839.1 1202.6L1837.1 1201.0L1835.1 1199.4L1833.1 1197.9L1831.1 1196.3L1829.1 1194.6L1827.1 1193.0L1825.1 1191.3L1823.1 1189.6L1821.1 1187.8L1819.2 1186.0L1817.2 1184.2L1815.2 1182.3L1813.2 1180.5L1811.2 1178.5L1809.2 1176.6L1807.2 1174.6L1805.2 1172.5L1803.2 1170.5L1801.2 1168.4L1799.2 1166.2L1797.2 1164.1L1795.2 1161.9L1793.2 1159.7L1791.2 1157.5L1789.2 1155.2L1787.2 1152.9L1785.2 1150.6L1783.2 1148.2L1781.2 1145.8L1779.2 1143.4L1777.2 1141.0L1775.2 1138.6L1773.2 1136.1L1771.2 1133.6L1769.2 1131.0L1767.2 1128.5L1765.2 1125.9L1763.2 1123.3L1761.3 1120.6L1759.3 1117.9L1757.3 1115.2L1755.3 1112.5L1753.3 1109.8L1751.3 1107.0L1749.3 1104.1L1747.3 1101.3L1745.3 1098.4L1743.3 1095.5L1741.3 1092.6L1739.3 1089.6L1737.3 1086.6L1735.3 1083.5L1733.3 1080.5L1731.3 1077.4L1729.3 1074.2L1727.3 1071.1L1725.3 1067.9L1723.3 1064.7L1721.3 1061.4L1719.3 1058.1L1717.3 1054.8L1715.3 1051.5L1713.3 1048.1L1711.3 1044.7L1709.3 1041.3L1707.3 1037.8L1705.4 1034.3L1703.4 1030.8L1701.4 1027.2L1699.4 1023.6L1697.4 1020.0L1695.4 1016.3L1693.4 1012.7L1691.4 1008.9L1689.4 1005.2L1687.4 1001.4L1685.4 997.6L1683.4 993.8L1681.4 989.9L1679.4 986.0L1677.4 982.1L1675.4 978.1L1673.4 974.1L1671.4 970.1L1669.4 966.0L1667.4 962.0L1665.4 957.8L1663.4 953.7L1661.4 949.5L1659.4 945.4L1657.4 941.2L1655.4 937.0L1653.4 932.8L1651.4 928.7L1649.4 924.5L1647.5 920.4L1645.5 916.2L1643.5 912.2L1641.5 908.1L1639.5 904.1L1637.5 900.1L1635.5 896.2L1633.5 892.4L1631.5 888.6L1629.5 884.8L1627.5 881.2L1625.5 877.6L1623.5 874.1L1621.5 870.6L1619.5 867.3L1617.5 864.0L1615.5 860.9L1613.5 857.8L1611.5 854.9L1609.5 852.0L1607.5 849.3L1605.5 846.7L1603.5 844.2L1601.5 841.9L1599.5 839.6L1597.5 837.6L1595.5 835.7L1593.5 834.0L1591.5 832.4L1589.6 831.0L1587.6 829.8L1585.6 828.8L1583.6 827.9L1581.6 827.2L1579.6 826.7L1577.6 826.3L1575.6 826.1L1573.6 826.0L1571.6 826.1L1569.6 826.3L1567.6 826.7L1565.6 827.2L1563.6 827.9L1561.6 828.7L1559.6 829.7L1557.6 830.9L1555.6 832.2L1553.6 833.7L1551.6 835.4L1549.6 837.2L1547.6 839.2L1545.6 841.5L1543.6 843.9L1541.6 846.7L1539.6 849.7L1537.6 853.1L1535.6 856.7L1533.6 860.6L1531.7 864.8L1529.7 869.1L1527.7 873.7L1525.7 878.5L1523.7 883.4Z" fill="#7F3F98" fill-opacity="0.3"/>
<path d="M1523.7 864.4L1525.7 860.6L1527.7 857.0L1529.7 853.6L1531.7 850.3L1533.6 847.1L1535.6 844.1L1537.6 841.3L1539.6 838.6L1541.6 836.1L1543.6 833.7L1545.6 831.5L1547.6 829.5L1549.6 827.6L1551.6 825.9L1553.6 824.3L1555.6 822.9L1557.6 821.6L1559.6 820.6L1561.6 819.6L1563.6 818.9L1565.6 818.3L1567.6 817.9L1569.6 817.6L1571.6 817.5L1573.6 817.6L1575.6 817.8L1577.6 818.2L1579.6 818.8L1581.6 819.5L1583.6 820.4L1585.6 821.5L1587.6 822.8L1589.6 824.2L1591.5 825.8L1593.5 827.5L1595.5 829.4L1597.5 831.4L1599.5 833.6L1601.5 835.9L1603.5 838.4L1605.5 840.9L1607.5 843.6L1609.5 846.5L1611.5 849.4L1613.5 852.4L1615.5 855.6L1617.5 858.8L1619.5 862.1L1621.5 865.6L1623.5 869.1L1625.5 872.6L1627.5 876.3L1629.5 880.0L1631.5 883.8L1633.5 887.7L1635.5 891.6L1637.5 895.5L1639.5 899.5L1641.5 903.6L1643.5 907.6L1645.5 911.7L1647.5 915.9L1649.4 920.0L1651.4 924.2L1653.4 928.3L1655.4 932.5L1657.4 936.7L1659.4 940.9L1661.4 945.0L1663.4 949.2L1665.4 953.3L1667.4 957.4L1669.4 961.5L1671.4 965.5L1673.4 969.6L1675.4 973.6L1677.4 977.5L1679.4 981.4L1681.4 985.3L1683.4 989.2L1685.4 993.0L1687.4 996.8L1689.4 1000.6L1691.4 1004.3L1693.4 1008.0L1695.4 1011.7L1697.4 1015.3L1699.4 1018.9L1701.4 1022.5L1703.4 1026.0L1705.4 1029.5L1707.3 1033.0L1709.3 1036.4L1711.3 1039.9L1713.3 1043.2L1715.3 1046.6L1717.3 1049.9L1719.3 1053.2L1721.3 1056.5L1723.3 1059.7L1725.3 1062.9L1727.3 1066.1L1729.3 1069.2L1731.3 1072.3L1733.3 1075.4L1735.3 1078.4L1737.3 1081.4L1739.3 1084.4L1741.3 1087.3L1743.3 1090.3L1745.3 1093.1L1747.3 1096.0L1749.3 1098.8L1751.3 1101.6L1753.3 1104.4L1755.3 1107.1L1757.3 1109.8L1759.3 1112.5L1761.3 1115.1L1763.2 1117.7L1765.2 1120.3L1767.2 1122.8L1769.2 1125.3L1771.2 1127.8L1773.2 1130.3L1775.2 1132.7L1777.2 1135.1L1779.2 1137.4L1781.2 1139.8L1783.2 1142.0L1785.2 1144.3L1787.2 1146.5L1789.2 1148.8L1791.2 1150.9L1793.2 1153.1L1795.2 1155.2L1797.2 1157.3L1799.2 1159.3L1801.2 1161.3L1803.2 1163.3L1805.2 1165.2L1807.2 1167.1L1809.2 1169.0L1811.2 1170.9L1813.2 1172.7L1815.2 1174.4L1817.2 1176.1L1819.2 1177.8L1821.1 1179.5L1823.1 1181.1L1825.1 1182.7L1827.1 1184.2L1829.1 1185.7L1831.1 1187.2L1833.1 1188.6L1835.1 1189.9L1837.1 1191.3L1839.1 1192.6L1841.1 1193.8L1843.1 1195.0L1845.1 1196.2L1847.1 1197.3L1849.1 1198.3L1851.1 1199.4L1853.1 1200.3L1855.1 1201.3L1857.1 1202.2L1859.1 1203.0L1861.1 1203.8L1863.1 1204.5L1865.1 1205.2L1867.1 1205.9L1869.1 1206.5L1871.1 1207.0L1873.1 1207.5L1875.1 1207.9L1877.1 1208.3L1879.0 1208.7L1881.0 1209.0L1883.0 1209.2L1885.0 1209.4L1887.0 1209.5L1889.0 1209.6L1891.0 1209.6L1893.0 1209.6L1895.0 1209.5L1897.0 1209.3L1899.0 1209.1L1901.0 1208.9L1903.0 1208.5L1905.0 1208.2L1907.0 1207.7" fill="none" stroke="#7F3F98" stroke-width="8" stroke-linejoin="round"/>
<path d="M1533.9 815.9L1535.9 813.3L1537.9 810.8L1539.9 808.3L1541.9 805.8L1543.9 803.5L1545.9 801.1L1547.9 798.8L1549.9 796.6L1551.9 794.4L1554.0 792.2L1556.0 790.0L1558.0 787.9L1560.0 785.9L1562.0 784.0L1564.0 782.2L1566.0 780.6L1568.0 779.0L1570.0 777.7L1572.0 776.4L1574.0 775.3L1576.0 774.4L1578.0 773.6L1580.0 773.0L1582.0 772.5L1584.0 772.2L1586.0 772.1L1588.0 772.2L1590.0 772.5L1592.0 772.9L1594.0 773.5L1596.0 774.3L1598.0 775.2L1600.0 776.3L1602.0 777.5L1604.0 778.8L1606.0 780.2L1608.0 781.7L1610.0 783.2L1612.0 784.9L1614.0 786.5L1616.0 788.3L1618.0 790.0L1620.0 791.8L1622.0 793.6L1624.0 795.4L1626.0 797.3L1628.0 799.2L1630.0 801.2L1632.0 803.3L1634.0 805.5L1636.0 807.7L1638.0 809.9L1640.0 812.3L1642.0 814.6L1644.0 817.1L1646.1 819.5L1648.1 822.1L1650.1 824.7L1652.1 827.3L1654.1 830.0L1656.1 832.7L1658.1 835.5L1660.1 838.3L1662.1 841.2L1664.1 844.1L1666.1 847.1L1668.1 850.1L1670.1 853.1L1672.1 856.1L1674.1 859.2L1676.1 862.4L1678.1 865.6L1680.1 868.8L1682.1 872.0L1684.1 875.2L1686.1 878.5L1688.1 881.8L1690.1 885.2L1692.1 888.5L1694.1 891.9L1696.1 895.3L1698.1 898.8L1700.1 902.2L1702.1 905.7L1704.1 909.2L1706.1 912.7L1708.1 916.2L1710.1 919.7L1712.1 923.3L1714.1 926.8L1716.1 930.4L1718.1 933.9L1720.1 937.5L1722.1 941.1L1724.1 944.7L1726.1 948.3L1728.1 951.9L1730.1 955.5L1732.1 959.1L1734.1 962.8L1736.2 966.4L1738.2 970.0L1740.2 973.6L1742.2 977.2L1744.2 980.8L1746.2 984.4L1748.2 988.0L1750.2 991.5L1752.2 995.1L1754.2 998.6L1756.2 1002.2L1758.2 1005.7L1760.2 1009.2L1762.2 1012.7L1764.2 1016.2L1766.2 1019.7L1768.2 1023.1L1770.2 1026.6L1772.2 1030.0L1774.2 1033.4L1776.2 1036.7L1778.2 1040.1L1780.2 1043.4L1782.2 1046.7L1784.2 1050.0L1786.2 1053.2L1788.2 1056.5L1790.2 1059.7L1792.2 1062.9L1794.2 1066.1L1796.2 1069.2L1798.2 1072.3L1800.2 1075.4L1802.2 1078.5L1804.2 1081.5L1806.2 1084.5L1808.2 1087.5L1810.2 1090.5L1812.2 1093.4L1814.2 1096.3L1816.2 1099.2L1818.2 1102.0L1820.2 1104.8L1822.2 1107.6L1824.2 1110.4L1826.2 1113.1L1828.3 1115.8L1830.3 1118.4L1832.3 1121.1L1834.3 1123.7L1836.3 1126.3L1838.3 1128.8L1840.3 1131.3L1842.3 1133.8L1844.3 1136.3L1846.3 1138.7L1848.3 1141.1L1850.3 1143.5L1852.3 1145.9L1854.3 1148.2L1856.3 1150.5L1858.3 1152.8L1860.3 1155.1L1862.3 1157.3L1864.3 1159.5L1866.3 1161.7L1868.3 1163.9L1870.3 1166.0L1872.3 1168.2L1874.3 1170.3L1876.3 1172.3L1878.3 1174.4L1880.3 1176.4L1882.3 1178.4L1884.3 1180.4L1886.3 1182.4L1888.3 1184.3L1890.3 1186.2L1892.3 1188.1L1894.3 1190.0L1896.3 1191.8L1898.3 1193.6L1900.3 1195.4L1902.3 1197.2L1904.3 1198.9L1906.3 1200.7L1908.3 1202.4L1910.3 1204.0L1912.3 1205.7L1914.3 1207.3L1916.3 1209.0L1918.3 1210.6L1920.4 1212.2L1922.4 1213.7L1924.4 1215.3L1926.4 1216.8L1928.4 1218.3L1930.4 1219.8L1932.4 1221.3L1934.4 1222.8L1936.4 1224.2L1938.4 1225.6L1940.4 1227.0L1942.4 1228.4L1944.4 1229.7L1946.4 1231.1L1948.4 1232.4L1950.4 1233.7L1952.4 1235.0L1954.4 1236.2L1956.4 1237.5L1958.4 1238.7L1960.4 1239.9L1962.4 1241.1L1964.4 1242.3L1964.4 1269.3L1962.4 1267.5L1960.4 1265.8L1958.4 1264.0L1956.4 1262.3L1954.4 1260.5L1952.4 1258.7L1950.4 1256.9L1948.4 1255.2L1946.4 1253.4L1944.4 1251.6L1942.4 1249.8L1940.4 1248.0L1938.4 1246.2L1936.4 1244.4L1934.4 1242.5L1932.4 1240.7L1930.4 1238.9L1928.4 1237.1L1926.4 1235.2L1924.4 1233.4L1922.4 1231.5L1920.4 1229.7L1918.3 1227.8L1916.3 1225.9L1914.3 1224.0L1912.3 1222.1L1910.3 1220.2L1908.3 1218.2L1906.3 1216.3L1904.3 1214.3L1902.3 1212.3L1900.3 1210.3L1898.3 1208.3L1896.3 1206.3L1894.3 1204.2L1892.3 1202.2L1890.3 1200.1L1888.3 1198.0L1886.3 1195.9L1884.3 1193.8L1882.3 1191.6L1880.3 1189.5L1878.3 1187.3L1876.3 1185.1L1874.3 1182.9L1872.3 1180.6L1870.3 1178.3L1868.3 1176.1L1866.3 1173.7L1864.3 1171.4L1862.3 1169.1L1860.3 1166.7L1858.3 1164.3L1856.3 1161.8L1854.3 1159.4L1852.3 1156.9L1850.3 1154.4L1848.3 1151.9L1846.3 1149.4L1844.3 1146.8L1842.3 1144.2L1840.3 1141.6L1838.3 1139.0L1836.3 1136.3L1834.3 1133.7L1832.3 1130.9L1830.3 1128.2L1828.3 1125.5L1826.2 1122.7L1824.2 1119.9L1822.2 1117.1L1820.2 1114.2L1818.2 1111.3L1816.2 1108.4L1814.2 1105.5L1812.2 1102.6L1810.2 1099.6L1808.2 1096.6L1806.2 1093.6L1804.2 1090.5L1802.2 1087.5L1800.2 1084.4L1798.2 1081.3L1796.2 1078.2L1794.2 1075.1L1792.2 1071.9L1790.2 1068.7L1788.2 1065.5L1786.2 1062.2L1784.2 1059.0L1782.2 1055.7L1780.2 1052.4L1778.2 1049.1L1776.2 1045.7L1774.2 1042.4L1772.2 1039.0L1770.2 1035.6L1768.2 1032.1L1766.2 1028.7L1764.2 1025.2L1762.2 1021.7L1760.2 1018.2L1758.2 1014.7L1756.2 1011.2L1754.2 1007.6L1752.2 1004.1L1750.2 1000.5L1748.2 997.0L1746.2 993.4L1744.2 989.8L1742.2 986.2L1740.2 982.6L1738.2 979.0L1736.2 975.4L1734.1 971.8L1732.1 968.1L1730.1 964.5L1728.1 960.9L1726.1 957.3L1724.1 953.7L1722.1 950.1L1720.1 946.5L1718.1 942.9L1716.1 939.4L1714.1 935.8L1712.1 932.3L1710.1 928.7L1708.1 925.2L1706.1 921.7L1704.1 918.2L1702.1 914.7L1700.1 911.2L1698.1 907.8L1696.1 904.3L1694.1 900.9L1692.1 897.6L1690.1 894.2L1688.1 890.9L1686.1 887.6L1684.1 884.4L1682.1 881.1L1680.1 878.0L1678.1 874.8L1676.1 871.7L1674.1 868.6L1672.1 865.5L1670.1 862.5L1668.1 859.6L1666.1 856.6L1664.1 853.8L1662.1 850.9L1660.1 848.1L1658.1 845.4L1656.1 842.7L1654.1 840.1L1652.1 837.5L1650.1 834.9L1648.1 832.4L1646.1 830.0L1644.0 827.6L1642.0 825.3L1640.0 823.0L1638.0 820.8L1636.0 818.7L1634.0 816.6L1632.0 814.6L1630.0 812.7L1628.0 810.8L1626.0 809.0L1624.0 807.2L1622.0 805.6L1620.0 804.0L1618.0 802.6L1616.0 801.3L1614.0 800.1L1612.0 799.0L1610.0 798.1L1608.0 797.2L1606.0 796.5L1604.0 795.9L1602.0 795.4L1600.0 794.9L1598.0 794.6L1596.0 794.3L1594.0 794.1L1592.0 794.0L1590.0 794.0L1588.0 794.0L1586.0 794.1L1584.0 794.3L1582.0 794.6L1580.0 795.1L1578.0 795.7L1576.0 796.5L1574.0 797.4L1572.0 798.4L1570.0 799.6L1568.0 800.9L1566.0 802.4L1564.0 804.1L1562.0 805.8L1560.0 807.7L1558.0 809.8L1556.0 812.0L1554.0 814.4L1551.9 816.9L1549.9 819.5L1547.9 822.3L1545.9 825.2L1543.9 828.2L1541.9 831.4L1539.9 834.6L1537.9 838.0L1535.9 841.4L1533.9 844.9Z" fill="#9E1F63" fill-opacity="0.3"/>
<path d="M1533.9 832.9L1535.9 829.7L1537.9 826.5L1539.9 823.4L1541.9 820.4L1543.9 817.5L1545.9 814.7L1547.9 812.0L1549.9 809.3L1551.9 806.8L1554.0 804.3L1556.0 802.0L1558.0 799.8L1560.0 797.7L1562.0 795.7L1564.0 793.9L1566.0 792.2L1568.0 790.6L1570.0 789.1L1572.0 787.9L1574.0 786.7L1576.0 785.7L1578.0 784.9L1580.0 784.2L1582.0 783.7L1584.0 783.3L1586.0 783.1L1588.0 783.1L1590.0 783.1L1592.0 783.4L1594.0 783.7L1596.0 784.2L1598.0 784.8L1600.0 785.5L1602.0 786.3L1604.0 787.2L1606.0 788.2L1608.0 789.4L1610.0 790.6L1612.0 791.9L1614.0 793.3L1616.0 794.7L1618.0 796.3L1620.0 797.9L1622.0 799.6L1624.0 801.3L1626.0 803.1L1628.0 805.0L1630.0 807.0L1632.0 809.0L1634.0 811.0L1636.0 813.2L1638.0 815.4L1640.0 817.6L1642.0 820.0L1644.0 822.3L1646.1 824.8L1648.1 827.3L1650.1 829.8L1652.1 832.4L1654.1 835.0L1656.1 837.7L1658.1 840.5L1660.1 843.2L1662.1 846.1L1664.1 848.9L1666.1 851.9L1668.1 854.8L1670.1 857.8L1672.1 860.8L1674.1 863.9L1676.1 867.0L1678.1 870.2L1680.1 873.4L1682.1 876.6L1684.1 879.8L1686.1 883.1L1688.1 886.4L1690.1 889.7L1692.1 893.1L1694.1 896.4L1696.1 899.8L1698.1 903.3L1700.1 906.7L1702.1 910.2L1704.1 913.7L1706.1 917.2L1708.1 920.7L1710.1 924.2L1712.1 927.8L1714.1 931.3L1716.1 934.9L1718.1 938.4L1720.1 942.0L1722.1 945.6L1724.1 949.2L1726.1 952.8L1728.1 956.4L1730.1 960.0L1732.1 963.6L1734.1 967.3L1736.2 970.9L1738.2 974.5L1740.2 978.1L1742.2 981.7L1744.2 985.3L1746.2 988.9L1748.2 992.5L1750.2 996.0L1752.2 999.6L1754.2 1003.1L1756.2 1006.7L1758.2 1010.2L1760.2 1013.7L1762.2 1017.2L1764.2 1020.7L1766.2 1024.2L1768.2 1027.6L1770.2 1031.1L1772.2 1034.5L1774.2 1037.9L1776.2 1041.2L1778.2 1044.6L1780.2 1047.9L1782.2 1051.2L1784.2 1054.5L1786.2 1057.7L1788.2 1061.0L1790.2 1064.2L1792.2 1067.4L1794.2 1070.6L1796.2 1073.7L1798.2 1076.8L1800.2 1079.9L1802.2 1083.0L1804.2 1086.0L1806.2 1089.1L1808.2 1092.1L1810.2 1095.0L1812.2 1098.0L1814.2 1100.9L1816.2 1103.8L1818.2 1106.6L1820.2 1109.5L1822.2 1112.3L1824.2 1115.0L1826.2 1117.8L1828.3 1120.5L1830.3 1123.2L1832.3 1125.9L1834.3 1128.5L1836.3 1131.1L1838.3 1133.7L1840.3 1136.3L1842.3 1138.8L1844.3 1141.3L1846.3 1143.8L1848.3 1146.3L1850.3 1148.7L1852.3 1151.1L1854.3 1153.5L1856.3 1155.9L1858.3 1158.2L1860.3 1160.5L1862.3 1162.8L1864.3 1165.1L1866.3 1167.3L1868.3 1169.6L1870.3 1171.8L1872.3 1173.9L1874.3 1176.1L1876.3 1178.2L1878.3 1180.3L1880.3 1182.4L1882.3 1184.5L1884.3 1186.6L1886.3 1188.6L1888.3 1190.6L1890.3 1192.6L1892.3 1194.6L1894.3 1196.6L1896.3 1198.5L1898.3 1200.4L1900.3 1202.3L1902.3 1204.2L1904.3 1206.1L1906.3 1207.9L1908.3 1209.8L1910.3 1211.6L1912.3 1213.4L1914.3 1215.2L1916.3 1216.9L1918.3 1218.7L1920.4 1220.4L1922.4 1222.1L1924.4 1223.8L1926.4 1225.5L1928.4 1227.2L1930.4 1228.9L1932.4 1230.5L1934.4 1232.2L1936.4 1233.8L1938.4 1235.4L1940.4 1237.0L1942.4 1238.6L1944.4 1240.2L1946.4 1241.7L1948.4 1243.3L1950.4 1244.8L1952.4 1246.3L1954.4 1247.9L1956.4 1249.4L1958.4 1250.9L1960.4 1252.3L1962.4 1253.8L1964.4 1255.3" fill="none" stroke="#9E1F63" stroke-width="8" stroke-linejoin="round"/>
<path d="M1534.7 844.2L1536.7 844.6L1538.7 844.8L1540.7 844.9L1542.7 844.9L1544.7 844.8L1546.7 844.6L1548.7 844.4L1550.7 844.1L1552.7 843.7L1554.7 843.4L1556.7 843.0L1558.7 842.6L1560.7 842.2L1562.7 841.9L1564.7 841.5L1566.7 841.3L1568.7 841.0L1570.7 840.9L1572.7 840.8L1574.7 840.8L1576.7 840.9L1578.7 841.1L1580.7 841.4L1582.7 841.8L1584.7 842.3L1586.7 842.9L1588.7 843.7L1590.7 844.5L1592.7 845.4L1594.7 846.5L1596.7 847.6L1598.8 848.8L1600.8 850.2L1602.8 851.6L1604.8 853.1L1606.8 854.7L1608.8 856.4L1610.8 858.3L1612.8 860.3L1614.8 862.4L1616.8 864.6L1618.8 866.8L1620.8 869.1L1622.8 871.3L1624.8 873.5L1626.8 875.7L1628.8 877.8L1630.8 879.7L1632.8 881.7L1634.8 883.7L1636.8 885.6L1638.8 887.6L1640.8 889.6L1642.8 891.6L1644.8 893.6L1646.8 895.7L1648.8 897.7L1650.8 899.7L1652.8 901.7L1654.8 903.8L1656.8 905.8L1658.8 907.9L1660.8 909.9L1662.8 911.9L1664.8 914.0L1666.8 916.0L1668.8 918.0L1670.9 920.1L1672.9 922.1L1674.9 924.1L1676.9 926.1L1678.9 928.2L1680.9 930.2L1682.9 932.2L1684.9 934.2L1686.9 936.1L1688.9 938.1L1690.9 940.1L1692.9 942.0L1694.9 943.9L1696.9 945.8L1698.9 947.7L1700.9 949.5L1702.9 951.3L1704.9 953.1L1706.9 954.9L1708.9 956.6L1710.9 958.4L1712.9 960.1L1714.9 961.8L1716.9 963.4L1718.9 965.1L1720.9 966.7L1722.9 968.3L1724.9 969.9L1726.9 971.5L1728.9 973.1L1730.9 974.6L1732.9 976.1L1734.9 977.6L1736.9 979.1L1738.9 980.6L1740.9 982.1L1743.0 983.5L1745.0 984.9L1747.0 986.3L1749.0 987.7L1751.0 989.0L1753.0 990.3L1755.0 991.5L1757.0 992.7L1759.0 993.9L1761.0 995.1L1763.0 996.2L1765.0 997.3L1767.0 998.3L1769.0 999.3L1771.0 1000.3L1773.0 1001.2L1775.0 1002.0L1777.0 1002.9L1779.0 1003.7L1781.0 1004.4L1783.0 1005.1L1785.0 1005.8L1787.0 1006.4L1789.0 1006.9L1791.0 1007.4L1793.0 1007.9L1795.0 1008.3L1797.0 1008.6L1799.0 1009.0L1801.0 1009.2L1803.0 1009.4L1805.0 1009.6L1807.0 1009.6L1809.0 1009.7L1811.0 1009.7L1813.0 1009.6L1815.1 1009.4L1817.1 1009.2L1819.1 1008.9L1821.1 1008.5L1823.1 1008.1L1825.1 1007.7L1827.1 1007.1L1829.1 1006.6L1831.1 1005.9L1833.1 1005.3L1835.1 1004.6L1837.1 1003.9L1839.1 1003.1L1841.1 1002.4L1843.1 1001.6L1845.1 1000.8L1847.1 1000.1L1849.1 999.3L1851.1 998.5L1853.1 997.8L1855.1 997.0L1857.1 996.3L1859.1 995.6L1861.1 995.0L1863.1 994.3L1865.1 993.8L1867.1 993.3L1869.1 992.8L1871.1 992.4L1873.1 992.0L1875.1 991.7L1877.1 991.5L1879.1 991.4L1881.1 991.4L1883.1 991.4L1885.1 991.5L1887.2 991.8L1889.2 992.1L1891.2 992.5L1893.2 993.1L1895.2 993.7L1897.2 994.4L1899.2 995.2L1901.2 996.1L1903.2 997.2L1905.2 998.3L1907.2 999.4L1909.2 1000.7L1911.2 1002.1L1913.2 1003.6L1915.2 1005.1L1917.2 1006.8L1919.2 1008.5L1921.2 1010.4L1923.2 1012.2L1925.2 1014.2L1927.2 1016.1L1929.2 1018.1L1931.2 1020.0L1933.2 1022.0L1935.2 1023.8L1937.2 1025.7L1939.2 1027.4L1941.2 1029.1L1943.2 1030.6L1945.2 1032.0L1947.2 1033.3L1949.2 1034.4L1951.2 1035.3L1953.2 1036.1L1955.2 1036.6L1957.2 1036.9L1959.2 1037.0L1961.3 1037.0L1963.3 1036.7L1965.3 1036.3L1967.3 1035.6L1969.3 1034.8L1971.3 1033.8L1973.3 1032.6L1975.3 1031.1L1977.3 1029.4L1979.3 1027.5L1981.3 1025.3L1983.3 1022.8L1985.3 1020.2L1987.3 1017.3L1989.3 1014.2L1991.3 1011.0L1993.3 1007.6L1995.3 1004.0L1997.3 1000.2L1999.3 996.4L1999.3 1056.4L1997.3 1058.2L1995.3 1059.9L1993.3 1061.5L1991.3 1063.0L1989.3 1064.4L1987.3 1065.7L1985.3 1066.9L1983.3 1068.0L1981.3 1069.1L1979.3 1070.1L1977.3 1071.0L1975.3 1071.9L1973.3 1072.7L1971.3 1073.4L1969.3 1073.9L1967.3 1074.4L1965.3 1074.6L1963.3 1074.7L1961.3 1074.7L1959.2 1074.5L1957.2 1074.1L1955.2 1073.5L1953.2 1072.7L1951.2 1071.8L1949.2 1070.6L1947.2 1069.3L1945.2 1067.8L1943.2 1066.2L1941.2 1064.4L1939.2 1062.5L1937.2 1060.5L1935.2 1058.5L1933.2 1056.4L1931.2 1054.2L1929.2 1052.1L1927.2 1049.9L1925.2 1047.7L1923.2 1045.6L1921.2 1043.5L1919.2 1041.4L1917.2 1039.5L1915.2 1037.6L1913.2 1035.9L1911.2 1034.2L1909.2 1032.7L1907.2 1031.2L1905.2 1029.8L1903.2 1028.5L1901.2 1027.4L1899.2 1026.3L1897.2 1025.3L1895.2 1024.4L1893.2 1023.6L1891.2 1023.0L1889.2 1022.4L1887.2 1021.9L1885.1 1021.6L1883.1 1021.3L1881.1 1021.1L1879.1 1021.1L1877.1 1021.1L1875.1 1021.2L1873.1 1021.4L1871.1 1021.6L1869.1 1021.9L1867.1 1022.3L1865.1 1022.7L1863.1 1023.2L1861.1 1023.8L1859.1 1024.3L1857.1 1025.0L1855.1 1025.6L1853.1 1026.3L1851.1 1026.9L1849.1 1027.6L1847.1 1028.3L1845.1 1029.0L1843.1 1029.7L1841.1 1030.4L1839.1 1031.1L1837.1 1031.8L1835.1 1032.4L1833.1 1033.0L1831.1 1033.6L1829.1 1034.1L1827.1 1034.6L1825.1 1035.0L1823.1 1035.4L1821.1 1035.7L1819.1 1036.0L1817.1 1036.2L1815.1 1036.3L1813.0 1036.3L1811.0 1036.3L1809.0 1036.2L1807.0 1036.0L1805.0 1035.7L1803.0 1035.4L1801.0 1035.0L1799.0 1034.6L1797.0 1034.1L1795.0 1033.5L1793.0 1032.8L1791.0 1032.1L1789.0 1031.4L1787.0 1030.6L1785.0 1029.7L1783.0 1028.8L1781.0 1027.8L1779.0 1026.7L1777.0 1025.7L1775.0 1024.5L1773.0 1023.4L1771.0 1022.1L1769.0 1020.9L1767.0 1019.6L1765.0 1018.2L1763.0 1016.8L1761.0 1015.4L1759.0 1014.0L1757.0 1012.5L1755.0 1011.0L1753.0 1009.4L1751.0 1007.8L1749.0 1006.2L1747.0 1004.6L1745.0 1002.9L1743.0 1001.2L1740.9 999.5L1738.9 997.8L1736.9 996.0L1734.9 994.2L1732.9 992.4L1730.9 990.5L1728.9 988.7L1726.9 986.8L1724.9 984.9L1722.9 982.9L1720.9 981.0L1718.9 979.0L1716.9 977.0L1714.9 975.0L1712.9 973.1L1710.9 971.1L1708.9 969.0L1706.9 967.0L1704.9 965.0L1702.9 963.0L1700.9 961.0L1698.9 959.0L1696.9 957.0L1694.9 955.0L1692.9 953.0L1690.9 951.1L1688.9 949.1L1686.9 947.1L1684.9 945.2L1682.9 943.2L1680.9 941.3L1678.9 939.3L1676.9 937.4L1674.9 935.5L1672.9 933.5L1670.9 931.6L1668.8 929.7L1666.8 927.8L1664.8 925.9L1662.8 924.0L1660.8 922.1L1658.8 920.3L1656.8 918.4L1654.8 916.6L1652.8 914.7L1650.8 912.9L1648.8 911.1L1646.8 909.3L1644.8 907.5L1642.8 905.8L1640.8 904.0L1638.8 902.3L1636.8 900.6L1634.8 898.9L1632.8 897.3L1630.8 895.6L1628.8 894.0L1626.8 892.5L1624.8 891.2L1622.8 889.9L1620.8 888.7L1618.8 887.6L1616.8 886.5L1614.8 885.5L1612.8 884.4L1610.8 883.3L1608.8 882.2L1606.8 881.0L1604.8 879.9L1602.8 878.8L1600.8 877.8L1598.8 876.8L1596.7 875.9L1594.7 875.1L1592.7 874.4L1590.7 873.8L1588.7 873.2L1586.7 872.8L1584.7 872.6L1582.7 872.5L1580.7 872.5L1578.7 872.7L1576.7 873.0L1574.7 873.5L1572.7 874.1L1570.7 874.9L1568.7 875.7L1566.7 876.7L1564.7 877.7L1562.7 878.9L1560.7 880.1L1558.7 881.3L1556.7 882.6L1554.7 883.9L1552.7 885.2L1550.7 886.6L1548.7 887.9L1546.7 889.2L1544.7 890.5L1542.7 891.7L1540.7 892.8L1538.7 893.8L1536.7 894.8L1534.7 895.6Z" fill="#C49A6C" fill-opacity="0.3"/>
<path d="M1534.7 869.9L1536.7 869.7L1538.7 869.3L1540.7 868.8L1542.7 868.3L1544.7 867.6L1546.7 866.9L1548.7 866.1L1550.7 865.3L1552.7 864.5L1554.7 863.6L1556.7 862.8L1558.7 862.0L1560.7 861.1L1562.7 860.4L1564.7 859.6L1566.7 859.0L1568.7 858.4L1570.7 857.9L1572.7 857.4L1574.7 857.1L1576.7 856.9L1578.7 856.9L1580.7 856.9L1582.7 857.1L1584.7 857.4L1586.7 857.9L1588.7 858.5L1590.7 859.1L1592.7 859.9L1594.7 860.8L1596.7 861.8L1598.8 862.8L1600.8 864.0L1602.8 865.2L1604.8 866.5L1606.8 867.9L1608.8 869.3L1610.8 870.8L1612.8 872.3L1614.8 873.9L1616.8 875.6L1618.8 877.2L1620.8 878.9L1622.8 880.6L1624.8 882.4L1626.8 884.1L1628.8 885.9L1630.8 887.7L1632.8 889.5L1634.8 891.3L1636.8 893.1L1638.8 895.0L1640.8 896.8L1642.8 898.7L1644.8 900.6L1646.8 902.5L1648.8 904.4L1650.8 906.3L1652.8 908.2L1654.8 910.2L1656.8 912.1L1658.8 914.1L1660.8 916.0L1662.8 918.0L1664.8 919.9L1666.8 921.9L1668.8 923.9L1670.9 925.9L1672.9 927.8L1674.9 929.8L1676.9 931.8L1678.9 933.8L1680.9 935.7L1682.9 937.7L1684.9 939.7L1686.9 941.6L1688.9 943.6L1690.9 945.6L1692.9 947.5L1694.9 949.5L1696.9 951.4L1698.9 953.3L1700.9 955.2L1702.9 957.2L1704.9 959.1L1706.9 961.0L1708.9 962.8L1710.9 964.7L1712.9 966.6L1714.9 968.4L1716.9 970.2L1718.9 972.0L1720.9 973.8L1722.9 975.6L1724.9 977.4L1726.9 979.1L1728.9 980.9L1730.9 982.6L1732.9 984.3L1734.9 985.9L1736.9 987.6L1738.9 989.2L1740.9 990.8L1743.0 992.4L1745.0 993.9L1747.0 995.4L1749.0 996.9L1751.0 998.4L1753.0 999.8L1755.0 1001.2L1757.0 1002.6L1759.0 1003.9L1761.0 1005.3L1763.0 1006.5L1765.0 1007.7L1767.0 1008.9L1769.0 1010.1L1771.0 1011.2L1773.0 1012.3L1775.0 1013.3L1777.0 1014.3L1779.0 1015.2L1781.0 1016.1L1783.0 1016.9L1785.0 1017.7L1787.0 1018.5L1789.0 1019.1L1791.0 1019.8L1793.0 1020.4L1795.0 1020.9L1797.0 1021.4L1799.0 1021.8L1801.0 1022.1L1803.0 1022.4L1805.0 1022.6L1807.0 1022.8L1809.0 1022.9L1811.0 1023.0L1813.0 1022.9L1815.1 1022.8L1817.1 1022.7L1819.1 1022.4L1821.1 1022.1L1823.1 1021.8L1825.1 1021.3L1827.1 1020.9L1829.1 1020.3L1831.1 1019.8L1833.1 1019.1L1835.1 1018.5L1837.1 1017.8L1839.1 1017.1L1841.1 1016.4L1843.1 1015.7L1845.1 1014.9L1847.1 1014.2L1849.1 1013.5L1851.1 1012.7L1853.1 1012.0L1855.1 1011.3L1857.1 1010.6L1859.1 1010.0L1861.1 1009.4L1863.1 1008.8L1865.1 1008.3L1867.1 1007.8L1869.1 1007.4L1871.1 1007.0L1873.1 1006.7L1875.1 1006.5L1877.1 1006.3L1879.1 1006.2L1881.1 1006.2L1883.1 1006.3L1885.1 1006.6L1887.2 1006.9L1889.2 1007.3L1891.2 1007.8L1893.2 1008.4L1895.2 1009.1L1897.2 1009.9L1899.2 1010.8L1901.2 1011.8L1903.2 1012.8L1905.2 1014.0L1907.2 1015.3L1909.2 1016.7L1911.2 1018.2L1913.2 1019.7L1915.2 1021.4L1917.2 1023.1L1919.2 1025.0L1921.2 1026.9L1923.2 1028.9L1925.2 1030.9L1927.2 1033.0L1929.2 1035.1L1931.2 1037.1L1933.2 1039.2L1935.2 1041.2L1937.2 1043.1L1939.2 1045.0L1941.2 1046.7L1943.2 1048.4L1945.2 1049.9L1947.2 1051.3L1949.2 1052.5L1951.2 1053.5L1953.2 1054.4L1955.2 1055.0L1957.2 1055.5L1959.2 1055.8L1961.3 1055.8L1963.3 1055.7L1965.3 1055.5L1967.3 1055.0L1969.3 1054.4L1971.3 1053.6L1973.3 1052.6L1975.3 1051.5L1977.3 1050.2L1979.3 1048.8L1981.3 1047.2L1983.3 1045.4L1985.3 1043.5L1987.3 1041.5L1989.3 1039.3L1991.3 1037.0L1993.3 1034.5L1995.3 1031.9L1997.3 1029.2L1999.3 1026.4" fill="none" stroke="#C49A6C" stroke-width="8" stroke-linejoin="round"/>
<path d="M1523.7 844.0L1525.7 844.0L1527.7 844.0L1529.7 844.0L1531.7 844.0L1533.7 844.1L1535.7 844.1L1537.7 844.2L1539.7 844.2L1541.7 844.2L1543.7 844.2L1545.7 844.2L1547.7 844.2L1549.7 844.1L1551.7 844.1L1553.7 844.0L1555.7 843.9L1557.7 843.8L1559.7 843.8L1561.7 843.7L1563.7 843.6L1565.7 843.4L1567.7 843.3L1569.7 843.2L1571.7 843.1L1573.7 843.0L1575.7 842.9L1577.7 842.8L1579.7 842.8L1581.7 842.9L1583.7 843.0L1585.7 843.1L1587.7 843.4L1589.7 843.7L1591.7 844.1L1593.7 844.6L1595.7 845.2L1597.7 845.9L1599.7 846.7L1601.7 847.7L1603.7 848.8L1605.7 850.0L1607.7 851.4L1609.7 852.8L1611.7 854.4L1613.7 856.1L1615.7 857.9L1617.7 859.9L1619.7 861.9L1621.7 864.0L1623.7 866.3L1625.7 868.6L1627.7 871.0L1629.7 873.5L1631.7 876.1L1633.7 878.9L1635.7 881.7L1637.7 884.6L1639.7 887.6L1641.7 890.7L1643.7 893.9L1645.7 897.2L1647.7 900.6L1649.7 904.1L1651.7 907.6L1653.7 911.3L1655.7 915.0L1657.7 918.7L1659.7 922.5L1661.7 926.3L1663.7 930.1L1665.7 933.9L1667.7 937.7L1669.7 941.4L1671.7 945.1L1673.7 948.8L1675.7 952.5L1677.7 956.1L1679.7 959.7L1681.7 963.3L1683.7 966.9L1685.7 970.5L1687.7 974.1L1689.7 977.7L1691.7 981.4L1693.7 985.1L1695.7 988.9L1697.7 992.6L1699.7 996.4L1701.7 1000.1L1703.7 1003.9L1705.7 1007.6L1707.7 1011.2L1709.7 1014.9L1711.7 1018.4L1713.7 1022.0L1715.7 1025.4L1717.7 1028.7L1719.7 1032.0L1721.7 1035.1L1723.7 1038.2L1725.7 1041.1L1727.7 1043.9L1729.7 1046.6L1731.7 1049.3L1733.7 1051.8L1735.7 1054.3L1737.7 1056.7L1739.7 1059.0L1741.7 1061.2L1743.7 1063.3L1745.7 1065.4L1747.7 1067.4L1749.7 1069.4L1751.7 1071.2L1753.7 1073.1L1755.7 1074.8L1757.7 1076.6L1759.7 1078.2L1761.7 1079.9L1763.7 1081.5L1765.7 1083.0L1767.7 1084.5L1769.7 1086.0L1771.7 1087.5L1773.7 1088.9L1775.7 1090.4L1777.7 1091.8L1779.7 1093.1L1781.7 1094.5L1783.7 1095.9L1785.7 1097.3L1787.7 1098.7L1789.7 1100.0L1791.7 1101.4L1793.7 1102.8L1795.7 1104.3L1797.7 1105.7L1799.7 1107.2L1801.7 1108.7L1803.7 1110.2L1805.7 1111.8L1807.7 1113.4L1809.7 1115.0L1811.7 1116.6L1813.7 1118.3L1815.7 1119.9L1817.7 1121.6L1819.7 1123.2L1821.7 1124.9L1823.7 1126.5L1825.7 1128.2L1827.7 1129.8L1829.7 1131.4L1831.7 1133.0L1833.7 1134.5L1835.7 1136.0L1837.7 1137.5L1839.7 1138.9L1841.7 1140.3L1843.7 1141.6L1845.7 1143.0L1847.7 1144.3L1849.7 1145.5L1851.7 1146.8L1853.7 1148.0L1855.7 1149.2L1857.7 1150.3L1859.7 1151.5L1861.7 1152.6L1863.7 1153.7L1865.7 1154.8L1867.7 1155.8L1869.7 1156.9L1871.7 1157.9L1873.7 1159.0L1875.7 1160.0L1877.7 1161.0L1879.7 1162.0L1881.7 1163.0L1883.7 1164.0L1885.7 1165.0L1887.7 1166.0L1889.7 1167.0L1891.7 1168.0L1893.7 1169.1L1895.7 1170.1L1897.7 1171.1L1899.7 1172.1L1901.7 1173.2L1903.7 1174.3L1905.7 1175.3L1907.7 1176.4L1909.7 1177.5L1911.7 1178.6L1913.7 1179.8L1915.7 1180.9L1917.7 1182.1L1919.7 1183.3L1921.7 1184.6L1923.7 1185.8L1925.7 1187.1L1927.7 1188.4L1929.7 1189.7L1931.7 1191.1L1933.7 1192.5L1935.7 1194.0L1937.7 1195.5L1939.7 1197.0L1941.7 1198.5L1941.7 1217.5L1939.7 1215.7L1937.7 1214.0L1935.7 1212.2L1933.7 1210.6L1931.7 1208.9L1929.7 1207.3L1927.7 1205.7L1925.7 1204.2L1923.7 1202.7L1921.7 1201.2L1919.7 1199.8L1917.7 1198.4L1915.7 1197.0L1913.7 1195.7L1911.7 1194.4L1909.7 1193.1L1907.7 1191.9L1905.7 1190.6L1903.7 1189.4L1901.7 1188.3L1899.7 1187.1L1897.7 1186.0L1895.7 1184.9L1893.7 1183.8L1891.7 1182.7L1889.7 1181.6L1887.7 1180.5L1885.7 1179.4L1883.7 1178.4L1881.7 1177.3L1879.7 1176.2L1877.7 1175.1L1875.7 1174.1L1873.7 1173.0L1871.7 1171.9L1869.7 1170.8L1867.7 1169.6L1865.7 1168.5L1863.7 1167.4L1861.7 1166.2L1859.7 1165.1L1857.7 1163.9L1855.7 1162.7L1853.7 1161.4L1851.7 1160.2L1849.7 1158.9L1847.7 1157.6L1845.7 1156.2L1843.7 1154.9L1841.7 1153.5L1839.7 1152.1L1837.7 1150.6L1835.7 1149.1L1833.7 1147.6L1831.7 1146.0L1829.7 1144.4L1827.7 1142.8L1825.7 1141.1L1823.7 1139.5L1821.7 1137.8L1819.7 1136.1L1817.7 1134.4L1815.7 1132.7L1813.7 1131.0L1811.7 1129.4L1809.7 1127.7L1807.7 1126.1L1805.7 1124.5L1803.7 1122.9L1801.7 1121.3L1799.7 1119.8L1797.7 1118.3L1795.7 1116.8L1793.7 1115.4L1791.7 1114.0L1789.7 1112.5L1787.7 1111.1L1785.7 1109.7L1783.7 1108.3L1781.7 1106.9L1779.7 1105.5L1777.7 1104.1L1775.7 1102.7L1773.7 1101.2L1771.7 1099.7L1769.7 1098.2L1767.7 1096.7L1765.7 1095.1L1763.7 1093.5L1761.7 1091.9L1759.7 1090.2L1757.7 1088.5L1755.7 1086.7L1753.7 1084.9L1751.7 1082.9L1749.7 1081.0L1747.7 1078.9L1745.7 1076.8L1743.7 1074.6L1741.7 1072.3L1739.7 1070.0L1737.7 1067.5L1735.7 1065.0L1733.7 1062.4L1731.7 1059.7L1729.7 1057.0L1727.7 1054.1L1725.7 1051.1L1723.7 1048.1L1721.7 1044.9L1719.7 1041.6L1717.7 1038.3L1715.7 1034.8L1713.7 1031.3L1711.7 1027.7L1709.7 1024.1L1707.7 1020.4L1705.7 1016.6L1703.7 1012.9L1701.7 1009.1L1699.7 1005.4L1697.7 1001.6L1695.7 997.9L1693.7 994.1L1691.7 990.4L1689.7 986.8L1687.7 983.1L1685.7 979.5L1683.7 976.0L1681.7 972.4L1679.7 968.8L1677.7 965.2L1675.7 961.6L1673.7 958.0L1671.7 954.3L1669.7 950.6L1667.7 946.9L1665.7 943.1L1663.7 939.4L1661.7 935.6L1659.7 931.8L1657.7 928.1L1655.7 924.4L1653.7 920.7L1651.7 917.1L1649.7 913.5L1647.7 910.1L1645.7 906.7L1643.7 903.4L1641.7 900.3L1639.7 897.2L1637.7 894.2L1635.7 891.4L1633.7 888.6L1631.7 885.9L1629.7 883.4L1627.7 880.9L1625.7 878.5L1623.7 876.2L1621.7 874.0L1619.7 871.9L1617.7 869.9L1615.7 868.0L1613.7 866.3L1611.7 864.6L1609.7 863.1L1607.7 861.7L1605.7 860.4L1603.7 859.3L1601.7 858.3L1599.7 857.4L1597.7 856.7L1595.7 856.1L1593.7 855.6L1591.7 855.3L1589.7 855.0L1587.7 854.8L1585.7 854.7L1583.7 854.7L1581.7 854.7L1579.7 854.9L1577.7 855.0L1575.7 855.2L1573.7 855.5L1571.7 855.8L1569.7 856.2L1567.7 856.5L1565.7 856.9L1563.7 857.3L1561.7 857.7L1559.7 858.1L1557.7 858.5L1555.7 858.9L1553.7 859.3L1551.7 859.7L1549.7 860.2L1547.7 860.7L1545.7 861.2L1543.7 861.7L1541.7 862.3L1539.7 862.9L1537.7 863.6L1535.7 864.2L1533.7 864.9L1531.7 865.7L1529.7 866.5L1527.7 867.3L1525.7 868.1L1523.7 869.0Z" fill="#DE2629" fill-opacity="0.28"/>
<path d="M1523.7 856.5L1525.7 856.0L1527.7 855.6L1529.7 855.2L1531.7 854.9L1533.7 854.5L1535.7 854.2L1537.7 853.9L1539.7 853.5L1541.7 853.2L1543.7 853.0L1545.7 852.7L1547.7 852.4L1549.7 852.2L1551.7 851.9L1553.7 851.7L1555.7 851.4L1557.7 851.2L1559.7 850.9L1561.7 850.7L1563.7 850.4L1565.7 850.2L1567.7 849.9L1569.7 849.7L1571.7 849.4L1573.7 849.2L1575.7 849.1L1577.7 848.9L1579.7 848.8L1581.7 848.8L1583.7 848.8L1585.7 848.9L1587.7 849.1L1589.7 849.3L1591.7 849.7L1593.7 850.1L1595.7 850.7L1597.7 851.3L1599.7 852.1L1601.7 853.0L1603.7 854.1L1605.7 855.3L1607.7 856.6L1609.7 858.0L1611.7 859.6L1613.7 861.2L1615.7 863.0L1617.7 864.9L1619.7 866.9L1621.7 869.0L1623.7 871.2L1625.7 873.5L1627.7 875.9L1629.7 878.4L1631.7 880.9L1633.7 883.6L1635.7 886.4L1637.7 889.2L1639.7 892.2L1641.7 895.3L1643.7 898.4L1645.7 901.7L1647.7 905.1L1649.7 908.5L1651.7 912.1L1653.7 915.7L1655.7 919.4L1657.7 923.1L1659.7 926.8L1661.7 930.6L1663.7 934.4L1665.7 938.1L1667.7 941.9L1669.7 945.6L1671.7 949.3L1673.7 953.0L1675.7 956.6L1677.7 960.2L1679.7 963.8L1681.7 967.4L1683.7 971.0L1685.7 974.5L1687.7 978.1L1689.7 981.8L1691.7 985.4L1693.7 989.1L1695.7 992.9L1697.7 996.6L1699.7 1000.4L1701.7 1004.1L1703.7 1007.9L1705.7 1011.6L1707.7 1015.2L1709.7 1018.9L1711.7 1022.4L1713.7 1026.0L1715.7 1029.4L1717.7 1032.7L1719.7 1036.0L1721.7 1039.1L1723.7 1042.2L1725.7 1045.1L1727.7 1047.9L1729.7 1050.6L1731.7 1053.3L1733.7 1055.8L1735.7 1058.3L1737.7 1060.7L1739.7 1063.0L1741.7 1065.2L1743.7 1067.3L1745.7 1069.4L1747.7 1071.4L1749.7 1073.4L1751.7 1075.2L1753.7 1077.1L1755.7 1078.8L1757.7 1080.6L1759.7 1082.2L1761.7 1083.9L1763.7 1085.5L1765.7 1087.0L1767.7 1088.5L1769.7 1090.0L1771.7 1091.5L1773.7 1092.9L1775.7 1094.4L1777.7 1095.8L1779.7 1097.1L1781.7 1098.5L1783.7 1099.9L1785.7 1101.3L1787.7 1102.7L1789.7 1104.0L1791.7 1105.4L1793.7 1106.8L1795.7 1108.3L1797.7 1109.7L1799.7 1111.2L1801.7 1112.7L1803.7 1114.2L1805.7 1115.8L1807.7 1117.4L1809.7 1119.0L1811.7 1120.6L1813.7 1122.3L1815.7 1123.9L1817.7 1125.6L1819.7 1127.2L1821.7 1128.9L1823.7 1130.5L1825.7 1132.2L1827.7 1133.8L1829.7 1135.4L1831.7 1137.0L1833.7 1138.5L1835.7 1140.0L1837.7 1141.5L1839.7 1142.9L1841.7 1144.3L1843.7 1145.7L1845.7 1147.0L1847.7 1148.4L1849.7 1149.6L1851.7 1150.9L1853.7 1152.1L1855.7 1153.3L1857.7 1154.5L1859.7 1155.7L1861.7 1156.9L1863.7 1158.0L1865.7 1159.1L1867.7 1160.2L1869.7 1161.3L1871.7 1162.4L1873.7 1163.5L1875.7 1164.5L1877.7 1165.6L1879.7 1166.6L1881.7 1167.7L1883.7 1168.7L1885.7 1169.7L1887.7 1170.8L1889.7 1171.8L1891.7 1172.9L1893.7 1173.9L1895.7 1175.0L1897.7 1176.1L1899.7 1177.1L1901.7 1178.2L1903.7 1179.3L1905.7 1180.4L1907.7 1181.6L1909.7 1182.7L1911.7 1183.9L1913.7 1185.1L1915.7 1186.3L1917.7 1187.5L1919.7 1188.7L1921.7 1190.0L1923.7 1191.3L1925.7 1192.7L1927.7 1194.0L1929.7 1195.4L1931.7 1196.8L1933.7 1198.3L1935.7 1199.8L1937.7 1201.3L1939.7 1202.9L1941.7 1204.5" fill="none" stroke="#DE2629" stroke-width="8" stroke-linejoin="round"/>
<path d="M1544.2 926.6L1546.2 929.6L1548.2 932.6L1550.2 935.7L1552.2 938.9L1554.2 942.0L1556.2 945.1L1558.2 948.2L1560.2 951.2L1562.2 954.1L1564.2 957.0L1566.2 959.8L1568.2 962.6L1570.2 965.2L1572.2 967.7L1574.2 969.9L1576.2 971.9L1578.2 973.5L1580.2 974.8L1582.2 975.6L1584.2 976.1L1586.2 976.3L1588.2 976.1L1590.2 975.7L1592.2 975.1L1594.2 974.2L1596.2 973.0L1598.2 971.6L1600.2 970.0L1602.2 968.2L1604.2 966.2L1606.2 964.1L1608.2 961.8L1610.2 959.4L1612.2 957.0L1614.2 954.5L1616.2 952.0L1618.2 949.6L1620.2 947.2L1622.2 944.9L1624.2 942.8L1626.1 940.8L1628.1 938.9L1630.1 937.2L1632.1 935.6L1634.1 934.0L1636.1 932.4L1638.1 930.9L1640.1 929.5L1642.1 928.1L1644.1 926.7L1646.1 925.5L1648.1 924.2L1650.1 923.1L1652.1 922.1L1654.1 921.1L1656.1 920.2L1658.1 919.5L1660.1 918.8L1662.1 918.2L1664.1 917.8L1666.1 917.5L1668.1 917.3L1670.1 917.3L1672.1 917.4L1674.1 917.6L1676.1 917.9L1678.1 918.3L1680.1 918.8L1682.1 919.4L1684.1 920.0L1686.1 920.8L1688.1 921.6L1690.1 922.5L1692.1 923.4L1694.1 924.4L1696.1 925.4L1698.1 926.4L1700.1 927.5L1702.1 928.6L1704.1 929.7L1706.1 930.8L1708.1 931.9L1710.1 933.0L1712.1 934.1L1714.1 935.2L1716.1 936.3L1718.1 937.3L1720.1 938.3L1722.1 939.2L1724.1 940.2L1726.1 941.1L1728.1 941.9L1730.1 942.7L1732.1 943.5L1734.1 944.2L1736.1 944.9L1738.1 945.6L1740.1 946.2L1742.1 946.7L1744.1 947.2L1746.1 947.6L1748.1 948.0L1750.1 948.3L1752.1 948.6L1754.1 948.8L1756.1 949.0L1758.1 949.0L1760.1 949.1L1762.1 949.0L1764.1 948.9L1766.1 948.8L1768.1 948.7L1770.1 948.5L1772.1 948.3L1774.1 948.0L1776.1 947.7L1778.1 947.4L1780.1 947.1L1782.1 946.8L1784.0 946.4L1786.0 946.1L1788.0 945.7L1790.0 945.4L1792.0 945.0L1794.0 944.7L1796.0 944.4L1798.0 944.0L1800.0 943.8L1802.0 943.5L1804.0 943.3L1806.0 943.1L1808.0 943.0L1810.0 942.8L1812.0 942.8L1814.0 942.8L1816.0 942.8L1818.0 943.0L1820.0 943.1L1822.0 943.4L1824.0 943.6L1826.0 944.0L1828.0 944.3L1830.0 944.8L1832.0 945.2L1834.0 945.8L1836.0 946.4L1838.0 947.1L1840.0 947.8L1842.0 948.6L1844.0 949.4L1846.0 950.4L1848.0 951.4L1850.0 952.4L1852.0 953.5L1854.0 954.6L1856.0 955.8L1858.0 957.0L1860.0 958.3L1862.0 959.7L1864.0 961.1L1864.0 996.4L1862.0 994.5L1860.0 992.7L1858.0 990.9L1856.0 989.2L1854.0 987.5L1852.0 985.9L1850.0 984.4L1848.0 983.0L1846.0 981.6L1844.0 980.3L1842.0 979.0L1840.0 977.8L1838.0 976.7L1836.0 975.7L1834.0 974.7L1832.0 973.8L1830.0 972.9L1828.0 972.1L1826.0 971.4L1824.0 970.8L1822.0 970.2L1820.0 969.7L1818.0 969.2L1816.0 968.8L1814.0 968.4L1812.0 968.1L1810.0 967.8L1808.0 967.5L1806.0 967.2L1804.0 967.0L1802.0 966.8L1800.0 966.6L1798.0 966.5L1796.0 966.3L1794.0 966.2L1792.0 966.2L1790.0 966.1L1788.0 966.1L1786.0 966.1L1784.0 966.1L1782.1 966.2L1780.1 966.2L1778.1 966.3L1776.1 966.4L1774.1 966.5L1772.1 966.6L1770.1 966.8L1768.1 966.9L1766.1 967.0L1764.1 967.0L1762.1 967.0L1760.1 967.0L1758.1 966.8L1756.1 966.6L1754.1 966.3L1752.1 966.0L1750.1 965.6L1748.1 965.1L1746.1 964.6L1744.1 964.0L1742.1 963.3L1740.1 962.6L1738.1 961.9L1736.1 961.1L1734.1 960.3L1732.1 959.4L1730.1 958.5L1728.1 957.5L1726.1 956.6L1724.1 955.6L1722.1 954.5L1720.1 953.5L1718.1 952.4L1716.1 951.3L1714.1 950.2L1712.1 949.1L1710.1 948.0L1708.1 946.9L1706.1 945.8L1704.1 944.7L1702.1 943.6L1700.1 942.5L1698.1 941.4L1696.1 940.4L1694.1 939.4L1692.1 938.4L1690.1 937.5L1688.1 936.6L1686.1 935.8L1684.1 935.0L1682.1 934.4L1680.1 933.8L1678.1 933.3L1676.1 932.9L1674.1 932.6L1672.1 932.4L1670.1 932.3L1668.1 932.3L1666.1 932.5L1664.1 932.8L1662.1 933.3L1660.1 933.8L1658.1 934.5L1656.1 935.3L1654.1 936.2L1652.1 937.2L1650.1 938.3L1648.1 939.5L1646.1 940.7L1644.1 942.1L1642.1 943.5L1640.1 944.9L1638.1 946.4L1636.1 948.0L1634.1 949.6L1632.1 951.2L1630.1 952.9L1628.1 954.7L1626.1 956.6L1624.2 958.7L1622.2 960.9L1620.2 963.3L1618.2 965.8L1616.2 968.5L1614.2 971.2L1612.2 973.9L1610.2 976.7L1608.2 979.4L1606.2 982.0L1604.2 984.5L1602.2 986.8L1600.2 989.0L1598.2 990.9L1596.2 992.5L1594.2 994.0L1592.2 995.1L1590.2 995.9L1588.2 996.5L1586.2 996.7L1584.2 996.6L1582.2 996.1L1580.2 995.3L1578.2 994.1L1576.2 992.5L1574.2 990.5L1572.2 988.3L1570.2 985.9L1568.2 983.4L1566.2 980.8L1564.2 978.1L1562.2 975.6L1560.2 973.2L1558.2 971.0L1556.2 968.9L1554.2 966.9L1552.2 965.0L1550.2 963.3L1548.2 961.6L1546.2 960.0L1544.2 958.6Z" fill="#DE2629" fill-opacity="0.28"/>
<path d="M1544.2 942.6L1546.2 944.9L1548.2 947.3L1550.2 949.7L1552.3 952.2L1554.3 954.8L1556.3 957.4L1558.3 960.0L1560.3 962.7L1562.4 965.5L1564.4 968.3L1566.4 971.1L1568.4 973.9M1577.9 984.6L1580.0 985.9L1582.0 986.9L1584.1 987.5L1586.1 987.7L1588.2 987.5L1590.2 987.0L1592.3 986.2L1594.3 985.1L1596.4 983.7L1598.4 982.0L1600.5 980.1L1602.5 977.9L1604.6 975.5L1606.6 973.0L1608.7 970.4M1634.4 941.6L1636.5 940.0L1638.5 938.4L1640.6 936.9L1642.6 935.4L1644.7 934.0L1646.7 932.7L1648.8 931.5L1650.8 930.3L1652.9 929.3L1654.9 928.3L1657.0 927.4L1659.0 926.7L1661.1 926.0L1663.1 925.5L1665.2 925.1L1667.2 924.9L1669.3 924.8M1669.9 924.8L1671.9 924.9L1673.8 925.0L1675.8 925.3L1677.7 925.7L1679.7 926.2L1681.7 926.7L1683.6 927.4L1685.6 928.1L1687.5 928.9L1689.5 929.7L1691.5 930.6L1693.4 931.5L1695.4 932.5L1697.3 933.5L1699.3 934.6L1701.3 935.6L1703.2 936.7L1705.2 937.8L1707.1 938.9L1709.1 940.0M1742.3 956.0L1744.3 956.7L1746.3 957.3L1748.3 957.8L1750.3 958.3L1752.3 958.7L1754.4 959.1L1756.4 959.3L1758.4 959.5L1760.4 959.7L1762.4 959.7L1764.4 959.7L1766.4 959.7L1768.4 959.6L1770.4 959.5L1772.4 959.3L1774.5 959.0L1776.5 958.8L1778.5 958.5L1780.5 958.2L1782.5 957.9L1784.5 957.6L1786.5 957.2L1788.5 956.9L1790.5 956.6L1792.5 956.2L1794.6 955.9L1796.6 955.6L1798.6 955.3L1800.6 955.1L1802.6 954.9L1804.6 954.7M1840.6 961.5L1842.5 962.5L1844.5 963.6L1846.4 964.8L1848.4 966.0L1850.3 967.3L1852.3 968.6L1854.2 970.0L1856.2 971.5L1858.2 973.1L1860.1 974.7L1862.0 976.4L1864.0 978.1" fill="none" stroke="#DE2629" stroke-width="8" stroke-linejoin="round"/>
<line x1="1478.6" y1="758.55" x2="1478.6" y2="1284.25" stroke="#0d0d0d" stroke-width="2.1"/>
<line x1="1478.6" y1="1283.2" x2="1997.5" y2="1283.2" stroke="#0d0d0d" stroke-width="2.1"/>
<line x1="1478.6" y1="759.6" x2="1495.1" y2="759.6" stroke="#0d0d0d" stroke-width="2.1"/>
<text x="1466.2" y="767.3" font-size="25" fill="#000" text-anchor="end">1.3</text>
<line x1="1478.6" y1="817.75" x2="1495.1" y2="817.75" stroke="#0d0d0d" stroke-width="2.1"/>
<text x="1466.2" y="825.45" font-size="25" fill="#000" text-anchor="end">1.2</text>
<line x1="1478.6" y1="875.9" x2="1495.1" y2="875.9" stroke="#0d0d0d" stroke-width="2.1"/>
<text x="1466.2" y="883.6" font-size="25" fill="#000" text-anchor="end">1.1</text>
<line x1="1478.6" y1="934.05" x2="1495.1" y2="934.05" stroke="#0d0d0d" stroke-width="2.1"/>
<text x="1466.2" y="941.75" font-size="25" fill="#000" text-anchor="end">1.0</text>
<line x1="1478.6" y1="992.2" x2="1495.1" y2="992.2" stroke="#0d0d0d" stroke-width="2.1"/>
<text x="1466.2" y="999.9" font-size="25" fill="#000" text-anchor="end">0.9</text>
<line x1="1478.6" y1="1050.35" x2="1495.1" y2="1050.35" stroke="#0d0d0d" stroke-width="2.1"/>
<text x="1466.2" y="1058.05" font-size="25" fill="#000" text-anchor="end">0.8</text>
<line x1="1478.6" y1="1108.5" x2="1495.1" y2="1108.5" stroke="#0d0d0d" stroke-width="2.1"/>
<text x="1466.2" y="1116.2" font-size="25" fill="#000" text-anchor="end">0.7</text>
<line x1="1478.6" y1="1166.65" x2="1495.1" y2="1166.65" stroke="#0d0d0d" stroke-width="2.1"/>
<text x="1466.2" y="1174.35" font-size="25" fill="#000" text-anchor="end">0.6</text>
<line x1="1478.6" y1="1224.8" x2="1495.1" y2="1224.8" stroke="#0d0d0d" stroke-width="2.1"/>
<text x="1466.2" y="1232.5" font-size="25" fill="#000" text-anchor="end">0.5</text>
<line x1="1478.6" y1="1282.95" x2="1495.1" y2="1282.95" stroke="#0d0d0d" stroke-width="2.1"/>
<text x="1466.2" y="1290.65" font-size="25" fill="#000" text-anchor="end">0.4</text>
<text x="1478.9" y="1314.3" font-size="25" fill="#000" text-anchor="middle">–2</text>
<line x1="1534.6" y1="1283.2" x2="1534.6" y2="1268.2" stroke="#0d0d0d" stroke-width="2.1"/>
<text x="1532.8" y="1314.3" font-size="25" fill="#000" text-anchor="middle">–1</text>
<line x1="1591.8" y1="1283.2" x2="1591.8" y2="1268.2" stroke="#0d0d0d" stroke-width="2.1"/>
<text x="1591.8" y="1314.3" font-size="25" fill="#000" text-anchor="middle">0</text>
<line x1="1648" y1="1283.2" x2="1648" y2="1268.2" stroke="#0d0d0d" stroke-width="2.1"/>
<text x="1648" y="1314.3" font-size="25" fill="#000" text-anchor="middle">1</text>
<line x1="1704.6" y1="1283.2" x2="1704.6" y2="1268.2" stroke="#0d0d0d" stroke-width="2.1"/>
<text x="1704.6" y="1314.3" font-size="25" fill="#000" text-anchor="middle">2</text>
<line x1="1760.5" y1="1283.2" x2="1760.5" y2="1268.2" stroke="#0d0d0d" stroke-width="2.1"/>
<text x="1760.5" y="1314.3" font-size="25" fill="#000" text-anchor="middle">3</text>
<line x1="1815.5" y1="1283.2" x2="1815.5" y2="1268.2" stroke="#0d0d0d" stroke-width="2.1"/>
<text x="1815.5" y="1314.3" font-size="25" fill="#000" text-anchor="middle">4</text>
<line x1="1873.5" y1="1283.2" x2="1873.5" y2="1268.2" stroke="#0d0d0d" stroke-width="2.1"/>
<text x="1873.5" y="1314.3" font-size="25" fill="#000" text-anchor="middle">5</text>
<line x1="1930" y1="1283.2" x2="1930" y2="1268.2" stroke="#0d0d0d" stroke-width="2.1"/>
<text x="1930" y="1314.3" font-size="25" fill="#000" text-anchor="middle">6</text>
<line x1="1986.5" y1="1283.2" x2="1986.5" y2="1268.2" stroke="#0d0d0d" stroke-width="2.1"/>
<text x="1986.5" y="1314.3" font-size="25" fill="#000" text-anchor="middle">7</text>
<text x="1404.5" y="1025.5" font-size="25" fill="#000" text-anchor="middle" transform="rotate(-90 1404.5 1025.5)">[MreB] relative to uniform density</text>
<text x="1738" y="1357.3" font-size="25" fill="#000" text-anchor="middle">Gaussian curvature (µm<tspan font-size="17" dy="-10.5">–2</tspan><tspan dy="10.5">)</tspan></text>
<text x="1849.8" y="732" font-size="25" fill="#000" text-anchor="middle">Plasmid</text>
<rect x="1804.5" y="736.3" width="95.5" height="3.8" fill="#58595B"/>
<text x="1971" y="732" font-size="25" fill="#58595B" text-anchor="middle"># cells</text>
<rect x="1925" y="736.3" width="95" height="3.8" fill="#58595B"/>
<line x1="1748" y1="762.8" x2="1789.4" y2="762.8" stroke="#DE2629" stroke-width="7.8"/>
<text x="1798.3" y="770.1" font-size="21" fill="#000">RodZ<tspan font-size="14.6" dy="6.5">1–337</tspan></text>
<text x="1967" y="773" font-size="21" fill="#58595B" text-anchor="middle">624</text>
<line x1="1748" y1="797.1" x2="1789.4" y2="797.1" stroke="#7F3F98" stroke-width="7.8"/>
<text x="1798.3" y="804.7" font-size="21" fill="#000">RodZ<tspan font-size="14.6" dy="6.5">1–155</tspan></text>
<text x="1967" y="807.5" font-size="21" fill="#58595B" text-anchor="middle">277</text>
<line x1="1748" y1="831.3" x2="1789.4" y2="831.3" stroke="#9E1F63" stroke-width="7.8"/>
<text x="1798.3" y="838.7" font-size="21" fill="#000">RodZ<tspan font-size="14.6" dy="6.5">1–142</tspan></text>
<text x="1967" y="841.3" font-size="21" fill="#58595B" text-anchor="middle">426</text>
<line x1="1748" y1="865.4" x2="1789.4" y2="865.4" stroke="#C49A6C" stroke-width="7.8"/>
<text x="1798.3" y="873" font-size="21" fill="#000">RodZ<tspan font-size="14.6" dy="6.5">1–111</tspan></text>
<text x="1967" y="875.5" font-size="21" fill="#58595B" text-anchor="middle">346</text>
<line x1="1748" y1="896.6" x2="1789.4" y2="896.6" stroke="#DE2629" stroke-width="7.8" stroke-dasharray="7.6 7.6"/>
<text x="1798.3" y="903.3" font-size="21" fill="#000">Vector</text>
<text x="1967" y="905.9" font-size="21" fill="#58595B" text-anchor="middle">558</text>
<text x="1728.7" y="829.5" font-size="25.5" fill="#000" text-anchor="middle" transform="rotate(-90 1728.7 829.5)"><tspan font-family="Liberation Serif,serif" font-style="normal">Δ</tspan><tspan font-style="italic" dx="1">rodZ</tspan></text>
</svg>
</body></html>
